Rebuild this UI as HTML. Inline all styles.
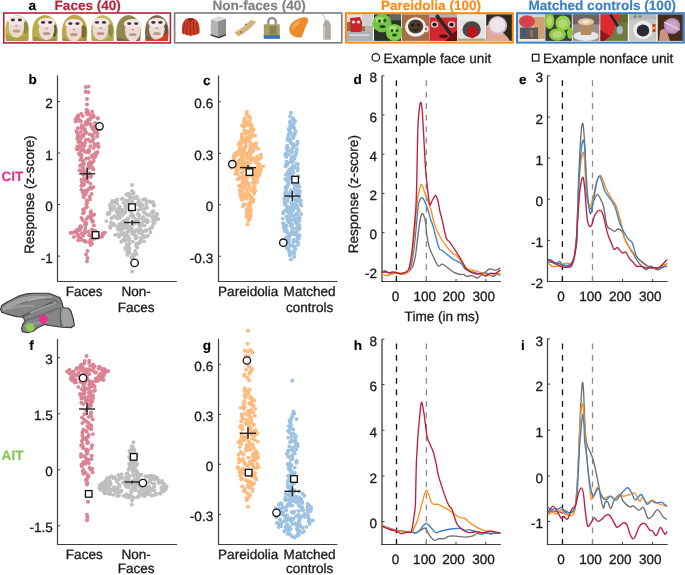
<!DOCTYPE html>
<html><head><meta charset="utf-8"><style>
html,body{margin:0;padding:0;background:#fff;}
svg{display:block;font-family:"Liberation Sans",sans-serif;will-change:transform;text-rendering:geometricPrecision;}
</style></head><body>
<svg width="685" height="575" viewBox="0 0 685 575">
<rect width="685" height="575" fill="#fff"/>
<text x="28.6" y="9.9" font-size="13.55" text-anchor="start" fill="#000" font-weight="bold" stroke="#000" stroke-width="0.15" stroke-linejoin="round" >a</text>
<text x="54.6" y="10.3" font-size="13.55" text-anchor="start" fill="#b8213a" font-weight="bold" stroke="#b8213a" stroke-width="0.15" stroke-linejoin="round" >Faces (40)</text>
<text x="212.4" y="10.3" font-size="13.55" text-anchor="start" fill="#7f7f7f" font-weight="bold" stroke="#7f7f7f" stroke-width="0.15" stroke-linejoin="round" >Non-faces (40)</text>
<text x="380.9" y="10.3" font-size="13.55" text-anchor="start" fill="#ff8a12" font-weight="bold" stroke="#ff8a12" stroke-width="0.15" stroke-linejoin="round" >Pareidolia (100)</text>
<text x="528.4" y="10.3" font-size="13.55" text-anchor="start" fill="#3d7fc1" font-weight="bold" stroke="#3d7fc1" stroke-width="0.15" stroke-linejoin="round" >Matched controls (100)</text>
<path d="M6.1,41 C4.1,28.0 4.6,17 17.1,15 C29.6,17 30.1,28.0 28.1,41 Z" fill="#c0b650" />
<path d="M6.1,41 C4.6,32.0 7.6,34.0 11.399999999999999,37.0 L21.4,37.0 C26.6,34.0 29.6,32.0 28.1,41 Z" fill="#aca244" />
<ellipse cx="25.400000000000002" cy="28.0" rx="2.6" ry="6.5" fill="#8f8a3e" />
<ellipse cx="16.4" cy="26.8" rx="7.8" ry="11" fill="#ecdbd2" />
<ellipse cx="16.4" cy="20.3" rx="8.8" ry="4.8" fill="#f4e8e4" />
<ellipse cx="12.899999999999999" cy="20.0" rx="2.1" ry="1.4" fill="#3a3444" />
<ellipse cx="19.9" cy="20.0" rx="2.1" ry="1.4" fill="#3a3444" />
<ellipse cx="16.4" cy="25.8" rx="1.4" ry="1.0" fill="#cf9c92" />
<ellipse cx="16.4" cy="31.0" rx="3.8" ry="1.5" fill="#c0968c" />
<path d="M33.0,41 C31.0,30.4 31.5,17 44.95,15 C58.4,17 58.9,30.4 56.9,41 Z" fill="#b8ae4a" />
<path d="M33.0,41 C31.5,34.4 34.5,36.4 41.6,39.4 L51.6,39.4 C55.4,36.4 58.4,34.4 56.9,41 Z" fill="#9c9440" />
<ellipse cx="54.199999999999996" cy="30.4" rx="2.6" ry="6.5" fill="#5e5a32" />
<ellipse cx="46.6" cy="29.2" rx="7.8" ry="11" fill="#ecdbd2" />
<ellipse cx="46.6" cy="22.7" rx="8.8" ry="4.8" fill="#f4e8e4" />
<ellipse cx="43.1" cy="22.4" rx="2.1" ry="1.4" fill="#3a3444" />
<ellipse cx="50.1" cy="22.4" rx="2.1" ry="1.4" fill="#3a3444" />
<ellipse cx="46.6" cy="28.2" rx="1.4" ry="1.0" fill="#cf9c92" />
<ellipse cx="46.6" cy="33.4" rx="3.8" ry="1.5" fill="#c0968c" />
<path d="M62.7,41 C60.7,31.6 61.2,16.4 74.6,14.4 C88.0,16.4 88.5,31.6 86.5,41 Z" fill="#bea848" />
<path d="M62.7,41 C61.2,35.6 64.2,37.6 68.9,40.6 L78.9,40.6 C85.0,37.6 88.0,35.6 86.5,41 Z" fill="#a28e3c" />
<ellipse cx="83.8" cy="31.6" rx="2.6" ry="6.5" fill="#7a6a34" />
<ellipse cx="73.9" cy="30.400000000000002" rx="7.8" ry="11" fill="#ecdbd2" />
<ellipse cx="73.9" cy="23.900000000000002" rx="8.8" ry="4.8" fill="#f4e8e4" />
<ellipse cx="70.4" cy="23.6" rx="2.1" ry="1.4" fill="#3a3444" />
<ellipse cx="77.4" cy="23.6" rx="2.1" ry="1.4" fill="#3a3444" />
<ellipse cx="73.9" cy="29.400000000000002" rx="1.4" ry="1.0" fill="#cf9c92" />
<ellipse cx="73.9" cy="34.6" rx="3.8" ry="1.5" fill="#c0968c" />
<path d="M91.9,41 C89.9,30.4 90.4,17 102.6,15 C114.8,17 115.3,30.4 113.3,41 Z" fill="#c0b862" />
<path d="M91.9,41 C90.4,34.4 93.4,36.4 95.5,39.4 L105.5,39.4 C111.8,36.4 114.8,34.4 113.3,41 Z" fill="#aca652" />
<ellipse cx="110.6" cy="30.4" rx="2.6" ry="6.5" fill="#8f8a48" />
<ellipse cx="100.5" cy="29.2" rx="7.8" ry="11" fill="#ecdbd2" />
<ellipse cx="100.5" cy="22.7" rx="8.8" ry="4.8" fill="#f4e8e4" />
<ellipse cx="97.0" cy="22.4" rx="2.1" ry="1.4" fill="#3a3444" />
<ellipse cx="104.0" cy="22.4" rx="2.1" ry="1.4" fill="#3a3444" />
<ellipse cx="100.5" cy="28.2" rx="1.4" ry="1.0" fill="#cf9c92" />
<ellipse cx="100.5" cy="33.4" rx="3.8" ry="1.5" fill="#c0968c" />
<path d="M117.1,41 C115.1,31.6 115.6,17 128.5,15 C141.4,17 141.9,31.6 139.9,41 Z" fill="#908850" />
<path d="M117.1,41 C115.6,35.6 118.6,37.6 127.69999999999999,40.6 L137.7,40.6 C138.4,37.6 141.4,35.6 139.9,41 Z" fill="#6e6a46" />
<ellipse cx="137.20000000000002" cy="31.6" rx="2.6" ry="6.5" fill="#4a4a3a" />
<ellipse cx="132.7" cy="30.400000000000002" rx="7.8" ry="11" fill="#ecdbd2" />
<ellipse cx="132.7" cy="23.900000000000002" rx="8.8" ry="4.8" fill="#f4e8e4" />
<ellipse cx="129.2" cy="23.6" rx="2.1" ry="1.4" fill="#3a3444" />
<ellipse cx="136.2" cy="23.6" rx="2.1" ry="1.4" fill="#3a3444" />
<ellipse cx="132.7" cy="29.400000000000002" rx="1.4" ry="1.0" fill="#cf9c92" />
<ellipse cx="132.7" cy="34.6" rx="3.8" ry="1.5" fill="#c0968c" />
<path d="M145.9,41 C143.9,30.4 144.4,17 156.8,15 C169.2,17 169.7,30.4 167.7,41 Z" fill="#7e6c4e" />
<path d="M145.9,41 C144.4,34.4 147.4,36.4 151.9,39.4 L161.9,39.4 C166.2,36.4 169.2,34.4 167.7,41 Z" fill="#6a5c46" />
<ellipse cx="165.0" cy="30.4" rx="2.6" ry="6.5" fill="#5a4c3c" />
<ellipse cx="156.9" cy="29.2" rx="7.8" ry="11" fill="#ecdbd2" />
<ellipse cx="156.9" cy="22.7" rx="8.8" ry="4.8" fill="#f4e8e4" />
<ellipse cx="153.4" cy="22.4" rx="2.1" ry="1.4" fill="#3a3444" />
<ellipse cx="160.4" cy="22.4" rx="2.1" ry="1.4" fill="#3a3444" />
<ellipse cx="156.9" cy="28.2" rx="1.4" ry="1.0" fill="#cf9c92" />
<ellipse cx="156.9" cy="33.4" rx="3.8" ry="1.5" fill="#c0968c" />
<path d="M145.9,38 Q156.9,44 168.2,32 L167.7,41 L145.9,41 Z" fill="#d8401c" />
<path d="M182,33 Q181,22 186,19 Q190.6,16.8 195,19 Q200.5,22 199.5,33 Q190.6,38.5 182,33 Z" fill="#c8402a" />
<line x1="184.50" y1="22.60" x2="183.30" y2="34.30" stroke="#962014" stroke-width="0.9" />
<line x1="187.30" y1="21.80" x2="186.70" y2="34.90" stroke="#962014" stroke-width="0.9" />
<line x1="190.40" y1="21.00" x2="190.40" y2="35.50" stroke="#962014" stroke-width="0.9" />
<line x1="193.50" y1="21.80" x2="194.10" y2="34.90" stroke="#962014" stroke-width="0.9" />
<line x1="196.60" y1="22.60" x2="197.80" y2="34.30" stroke="#962014" stroke-width="0.9" />
<ellipse cx="190.6" cy="19.5" rx="3.2" ry="1.3" fill="#962014" />
<path d="M211,19.5 L219.5,16.5 L226,19 L226,35.5 L218.5,38.2 L210.5,35.5 Z" fill="#b4b4b4" />
<path d="M211,19.5 L219.5,16.5 L226,19 L217.8,21.8 Z" fill="#dcdcdc" />
<path d="M217.8,21.8 L226,19 L226,35.5 L218.5,38.2 Z" fill="#8e8e8e" />
<path d="M210.5,34.2 L218.5,36.8 L226,34.2 L226,35.5 L218.5,38.2 L210.5,35.5 Z" fill="#3c3c3c" />
<path d="M234.2,32.5 Q244,27 251,19.8 L256.4,21.8 Q249,31 238.5,36.6 Z" fill="#d2b47e" />
<path d="M234.2,32.5 Q244,27 251,19.8 L251.8,20.2 Q244.5,27.8 235,33.4 Z" fill="#e4cc9a" />
<ellipse cx="246" cy="24.5" rx="0.9" ry="0.9" fill="#8a6a40" />
<ellipse cx="241" cy="32" rx="0.9" ry="0.9" fill="#8a6a40" />
<path d="M268.3,25 L268.3,20.2 Q272,15.6 275.7,20.2 L275.7,25" fill="none" stroke="#7e8c98" stroke-width="2.1"/>
<rect x="263.8" y="24.3" width="16" height="14.4" fill="#a89e62" />
<rect x="269.5" y="26" width="7" height="8.5" fill="#8a8250" />
<rect x="263.8" y="35.2" width="16" height="3.5" fill="#3c74be" />
<path d="M289.2,28 Q291,21 300,18 Q306,16.2 307.9,18.5 Q309,21 306,26 L301.5,37.4 Q294,38.2 290,33 Z" fill="#ec8a2c" />
<path d="M291.5,27 Q294,22 301,19.5 L299,24 Q295,27 292.5,31 Z" fill="#f4a650" />
<line x1="322.20" y1="14.40" x2="326.20" y2="20.20" stroke="#a89888" stroke-width="0.7" />
<path d="M324.6,20.3 L328.2,20.3 L330.8,24.8 L330.8,39.8 L323.3,39.8 L323.3,24.8 Z" fill="#ada8a2" />
<rect x="323.3" y="26" width="2" height="13" fill="#c8c4c0" />
<rect x="347.0" y="14.3" width="26.0" height="26.6" fill="#b8b0a8" />
<rect x="347" y="14.3" width="26" height="8" fill="#e2e4e4" />
<rect x="347" y="22" width="26" height="9" fill="#9a6a4a" />
<rect x="362" y="14.3" width="11" height="12" fill="#d0d0d0" />
<rect x="365" y="26" width="8" height="6" fill="#b8b4b0" />
<path d="M350,18 L360,17 L362,22 L361,36 L351,37 Z" fill="#c8222a" />
<ellipse cx="353.5" cy="22" rx="1.8" ry="1.6" fill="#e0d8d8" />
<ellipse cx="358.5" cy="22" rx="1.8" ry="1.6" fill="#e0d8d8" />
<rect x="347" y="32" width="26" height="8.9" fill="#aeb0b6" />
<rect x="349" y="34" width="20" height="2" fill="#d0d2d6" />
<rect x="374.0" y="14.3" width="27.100000000000023" height="26.6" fill="#2a3224" />
<rect x="389" y="14.3" width="12" height="6" fill="#606860" />
<ellipse cx="382" cy="23" rx="9.5" ry="9.2" fill="#74c444" />
<ellipse cx="394.5" cy="32.5" rx="8.6" ry="8.6" fill="#80cc4c" />
<ellipse cx="380" cy="20" rx="4" ry="3" fill="#a8dc80" />
<ellipse cx="393" cy="29" rx="4" ry="3" fill="#a8dc80" />
<ellipse cx="379.5" cy="21" rx="1.5" ry="1.8" fill="#2a4a1a" />
<ellipse cx="384.8" cy="20.5" rx="1.5" ry="1.8" fill="#2a4a1a" />
<ellipse cx="382.5" cy="26.5" rx="3" ry="1.6" fill="#2a4a1a" />
<ellipse cx="392" cy="30.5" rx="1.4" ry="1.6" fill="#2a4a1a" />
<ellipse cx="397" cy="30.5" rx="1.4" ry="1.6" fill="#2a4a1a" />
<ellipse cx="394.5" cy="35" rx="2.5" ry="1.5" fill="#2a4a1a" />
<rect x="401.9" y="14.3" width="27.400000000000034" height="26.6" fill="#a66e46" />
<ellipse cx="415.6" cy="27" rx="10.5" ry="9.8" fill="#f2f2f0" />
<ellipse cx="426" cy="29" rx="2.6" ry="3.2" fill="#eeeeee" />
<ellipse cx="426" cy="29" rx="1.2" ry="1.8" fill="#a66e46" />
<ellipse cx="415.6" cy="26.5" rx="7.6" ry="7" fill="#4c3a2a" />
<ellipse cx="412.5" cy="25" rx="1.1" ry="1.3" fill="#151008" />
<ellipse cx="418.5" cy="25" rx="1.1" ry="1.3" fill="#151008" />
<path d="M411.5,28.5 Q415.6,33.5 419.7,28.5 Q415.6,31 411.5,28.5 Z" fill="#151008" />
<rect x="429.5" y="14.3" width="27.600000000000023" height="26.6" fill="#d4262e" />
<rect x="429.5" y="14.3" width="27.6" height="3.2" fill="#b4b4b4" />
<ellipse cx="434.6" cy="24.5" rx="3.6" ry="3.2" fill="#d8d0d0" />
<ellipse cx="434.6" cy="24.5" rx="2.2" ry="2" fill="#2a1818" />
<ellipse cx="451.5" cy="24.5" rx="3.6" ry="3.2" fill="#d8d0d0" />
<ellipse cx="451.5" cy="24.5" rx="2.2" ry="2" fill="#2a1818" />
<ellipse cx="443.5" cy="36.2" rx="4.2" ry="1.6" fill="#3a1010" />
<line x1="436.50" y1="15.00" x2="455.00" y2="40.00" stroke="#262626" stroke-width="3.4" />
<path d="M445,41 L457.1,30 L457.1,41 Z" fill="#6a1010" />
<rect x="457.9" y="14.3" width="27.400000000000034" height="26.6" fill="#e2e2e0" />
<rect x="457.9" y="14.3" width="27.4" height="6" fill="#ececec" />
<ellipse cx="471.6" cy="29.5" rx="9.2" ry="8.2" fill="#4e4640" />
<ellipse cx="472.4" cy="32" rx="4.6" ry="6" fill="#c8101c" />
<rect x="457.9" y="38.6" width="27.4" height="2.3" fill="#b4a484" />
<rect x="486.2" y="14.3" width="25.80000000000001" height="26.6" fill="#2c2a1e" />
<path d="M486.2,26 Q490,22 497,28 Q506,34 510,40.9 L486.2,40.9 Z" fill="#e0a898" />
<ellipse cx="497.8" cy="25.5" rx="9.2" ry="9" fill="#ece6ea" />
<ellipse cx="497.5" cy="25" rx="8.6" ry="8.4" fill="none" stroke="#d0a8c0" stroke-width="1.2"/>
<rect x="518.0" y="14.3" width="26.799999999999955" height="26.6" fill="#d6d6d0" />
<rect x="534" y="17" width="10.8" height="23.9" fill="#cfa272" />
<ellipse cx="527" cy="21.5" rx="8" ry="6.2" fill="#d8404a" />
<rect x="520" y="27.5" width="18" height="11.5" fill="#5e5a5c" />
<rect x="522" y="29" width="3" height="8" fill="#3a5a7a" />
<rect x="530" y="30" width="3" height="7" fill="#8a7a50" />
<rect x="518" y="39" width="26.8" height="1.9" fill="#eeeeee" />
<rect x="545.4" y="14.3" width="26.399999999999977" height="26.6" fill="#3a3a3e" />
<ellipse cx="549.5" cy="21" rx="4.8" ry="8" fill="#8ccc3c" />
<ellipse cx="563" cy="23" rx="7.6" ry="7.5" fill="#92d046" />
<ellipse cx="557.5" cy="34.5" rx="8.5" ry="6.2" fill="#8ccc3c" />
<ellipse cx="570" cy="33" rx="3" ry="6" fill="#86c838" />
<ellipse cx="563" cy="23.5" rx="4.5" ry="4.5" fill="#b4d67a" />
<ellipse cx="557.5" cy="34.5" rx="5" ry="3.6" fill="#b4d67a" />
<ellipse cx="549.5" cy="21" rx="2.4" ry="5" fill="#b4d67a" />
<rect x="572.8" y="14.3" width="26.600000000000023" height="26.6" fill="#9a9090" />
<rect x="572.8" y="14.3" width="26.6" height="10" fill="#6e6262" />
<ellipse cx="586" cy="36" rx="12.5" ry="5" fill="#e8e8ea" />
<path d="M578,22 L594,22 L591,35 L581,35 Z" fill="#b48a64" />
<ellipse cx="586" cy="21.8" rx="8.2" ry="3.6" fill="#dcc4a2" />
<ellipse cx="586" cy="21.8" rx="4" ry="1.8" fill="#f0e4d2" />
<rect x="600.5" y="14.3" width="27.299999999999955" height="26.6" fill="#6e7a3e" />
<rect x="616" y="14.3" width="11.8" height="8" fill="#5a6a30" />
<path d="M600.5,14.3 L621,14.3 L616,24 L612,35 L604,40.9 L600.5,40.9 Z" fill="#e02830" />
<path d="M600.5,30 L610,36 L604,40.9 L600.5,40.9 Z" fill="#901818" />
<line x1="610.50" y1="14.50" x2="619.00" y2="28.00" stroke="#1c2430" stroke-width="2.4" />
<ellipse cx="619.8" cy="30" rx="3.2" ry="4.2" fill="#a8b8c8" />
<rect x="629.1" y="14.3" width="27.299999999999955" height="26.6" fill="#c8c8c6" />
<rect x="629.1" y="14.3" width="27.3" height="5" fill="#b6b6b6" />
<ellipse cx="635" cy="16.5" rx="1.6" ry="1.2" fill="#808080" />
<ellipse cx="640" cy="16.5" rx="1.6" ry="1.2" fill="#808080" />
<ellipse cx="643" cy="30" rx="9.8" ry="9.2" fill="#ececec" />
<ellipse cx="643" cy="30.5" rx="6.3" ry="6" fill="#2c2c34" />
<rect x="652.5" y="24" width="3" height="8" fill="#c84030" />
<rect x="652.5" y="27" width="3" height="2" fill="#e8c030" />
<rect x="657.7" y="14.3" width="25.09999999999991" height="26.6" fill="#4a2a18" />
<path d="M659,41 L660,31 Q663,27 667,31 L670,41 Z" fill="#c89282" />
<ellipse cx="672" cy="26" rx="8.2" ry="8" fill="#b88cb8" />
<ellipse cx="672" cy="26" rx="6.2" ry="6" fill="#c8a4c8" />
<line x1="664.00" y1="22.00" x2="680.00" y2="30.00" stroke="#e8e0e8" stroke-width="1.2" />
<rect x="3.75" y="13.0" width="166.65" height="29.9" fill="none" stroke="#b8213a" stroke-width="1.6"/>
<rect x="174.6" y="13.0" width="167.20000000000002" height="29.799999999999997" fill="none" stroke="#7a7a7a" stroke-width="1.6"/>
<rect x="345.9" y="13.2" width="166.89999999999998" height="29.400000000000002" fill="none" stroke="#ff8a12" stroke-width="2"/>
<rect x="517.0" y="13.2" width="166.79999999999995" height="29.400000000000002" fill="none" stroke="#3d7fc1" stroke-width="2"/>
<circle cx="375.8" cy="57.4" r="3.8" fill="#fff" stroke="#111" stroke-width="1.2"/>
<text x="383.5" y="62.6" font-size="13.55" text-anchor="start" fill="#1a1a1a" stroke="#1a1a1a" stroke-width="0.3" stroke-linejoin="round" >Example face unit</text>
<rect x="532.4" y="54.3" width="6.5" height="6.7" fill="#fff" stroke="#111" stroke-width="1.2"/>
<text x="543.0" y="62.6" font-size="13.55" text-anchor="start" fill="#1a1a1a" stroke="#1a1a1a" stroke-width="0.3" stroke-linejoin="round" >Example nonface unit</text>
<line x1="57.50" y1="75.50" x2="57.50" y2="282.00" stroke="#3e3e3e" stroke-width="1.2" />
<line x1="57.50" y1="101.60" x2="60.00" y2="101.60" stroke="#3e3e3e" stroke-width="1" />
<text x="52.8" y="108.2" font-size="13.55" text-anchor="end" fill="#1a1a1a" stroke="#1a1a1a" stroke-width="0.3" stroke-linejoin="round" >2</text>
<line x1="57.50" y1="153.10" x2="60.00" y2="153.10" stroke="#3e3e3e" stroke-width="1" />
<text x="52.8" y="159.7" font-size="13.55" text-anchor="end" fill="#1a1a1a" stroke="#1a1a1a" stroke-width="0.3" stroke-linejoin="round" >1</text>
<line x1="57.50" y1="204.60" x2="60.00" y2="204.60" stroke="#3e3e3e" stroke-width="1" />
<text x="52.8" y="211.2" font-size="13.55" text-anchor="end" fill="#1a1a1a" stroke="#1a1a1a" stroke-width="0.3" stroke-linejoin="round" >0</text>
<line x1="57.50" y1="256.10" x2="60.00" y2="256.10" stroke="#3e3e3e" stroke-width="1" />
<text x="52.8" y="262.7" font-size="13.55" text-anchor="end" fill="#1a1a1a" stroke="#1a1a1a" stroke-width="0.3" stroke-linejoin="round" >-1</text>
<line x1="57.00" y1="281.50" x2="176.80" y2="281.50" stroke="#3e3e3e" stroke-width="1.2" />
<text x="28.6" y="83.9" font-size="13.55" text-anchor="start" fill="#000" font-weight="bold" stroke="#000" stroke-width="0.15" stroke-linejoin="round" >b</text>
<text x="84.2" y="296.2" font-size="13.55" text-anchor="middle" fill="#1a1a1a" stroke="#1a1a1a" stroke-width="0.3" stroke-linejoin="round" >Faces</text>
<text x="136.2" y="296.2" font-size="13.55" text-anchor="middle" fill="#1a1a1a" stroke="#1a1a1a" stroke-width="0.3" stroke-linejoin="round" >Non-</text>
<text x="136.2" y="312.0" font-size="13.55" text-anchor="middle" fill="#1a1a1a" stroke="#1a1a1a" stroke-width="0.3" stroke-linejoin="round" >Faces</text>
<line x1="218.50" y1="75.50" x2="218.50" y2="282.00" stroke="#3e3e3e" stroke-width="1.2" />
<line x1="218.50" y1="101.80" x2="221.00" y2="101.80" stroke="#3e3e3e" stroke-width="1" />
<text x="213.2" y="108.4" font-size="13.55" text-anchor="end" fill="#1a1a1a" stroke="#1a1a1a" stroke-width="0.3" stroke-linejoin="round" >0.6</text>
<line x1="218.50" y1="153.30" x2="221.00" y2="153.30" stroke="#3e3e3e" stroke-width="1" />
<text x="213.2" y="159.9" font-size="13.55" text-anchor="end" fill="#1a1a1a" stroke="#1a1a1a" stroke-width="0.3" stroke-linejoin="round" >0.3</text>
<line x1="218.50" y1="204.80" x2="221.00" y2="204.80" stroke="#3e3e3e" stroke-width="1" />
<text x="213.2" y="211.4" font-size="13.55" text-anchor="end" fill="#1a1a1a" stroke="#1a1a1a" stroke-width="0.3" stroke-linejoin="round" >0</text>
<line x1="218.50" y1="256.20" x2="221.00" y2="256.20" stroke="#3e3e3e" stroke-width="1" />
<text x="213.2" y="262.8" font-size="13.55" text-anchor="end" fill="#1a1a1a" stroke="#1a1a1a" stroke-width="0.3" stroke-linejoin="round" >-0.3</text>
<line x1="218.00" y1="281.50" x2="337.40" y2="281.50" stroke="#3e3e3e" stroke-width="1.2" />
<text x="203.0" y="84.5" font-size="13.55" text-anchor="start" fill="#000" font-weight="bold" stroke="#000" stroke-width="0.15" stroke-linejoin="round" >c</text>
<text x="248.2" y="296.2" font-size="13.55" text-anchor="middle" fill="#1a1a1a" stroke="#1a1a1a" stroke-width="0.3" stroke-linejoin="round" >Pareidolia</text>
<text x="309.6" y="296.2" font-size="13.55" text-anchor="middle" fill="#1a1a1a" stroke="#1a1a1a" stroke-width="0.3" stroke-linejoin="round" >Matched</text>
<text x="309.6" y="312.0" font-size="13.55" text-anchor="middle" fill="#1a1a1a" stroke="#1a1a1a" stroke-width="0.3" stroke-linejoin="round" >controls</text>
<text x="0" y="0" font-size="13.55" text-anchor="middle" fill="#1a1a1a" stroke="#1a1a1a" stroke-width="0.3" stroke-linejoin="round" transform="translate(33.8,194.6) rotate(-90)">Response (z-score)</text>
<text x="1.5" y="180.6" font-size="13.55" text-anchor="start" fill="#e2338c" font-weight="bold" stroke="#e2338c" stroke-width="0.15" stroke-linejoin="round" >CIT</text>
<text x="0" y="0" font-size="13.55" text-anchor="middle" fill="#1a1a1a" stroke="#1a1a1a" stroke-width="0.3" stroke-linejoin="round" transform="translate(358.0,194.2) rotate(-90)">Response (z-score)</text>
<line x1="382.00" y1="75.50" x2="382.00" y2="282.00" stroke="#828282" stroke-width="2" />
<line x1="382.00" y1="75.80" x2="384.50" y2="75.80" stroke="#3e3e3e" stroke-width="1" />
<text x="377.1" y="82.4" font-size="13.55" text-anchor="end" fill="#1a1a1a" stroke="#1a1a1a" stroke-width="0.3" stroke-linejoin="round" >8</text>
<line x1="382.00" y1="115.00" x2="384.50" y2="115.00" stroke="#3e3e3e" stroke-width="1" />
<text x="377.1" y="121.6" font-size="13.55" text-anchor="end" fill="#1a1a1a" stroke="#1a1a1a" stroke-width="0.3" stroke-linejoin="round" >6</text>
<line x1="382.00" y1="154.20" x2="384.50" y2="154.20" stroke="#3e3e3e" stroke-width="1" />
<text x="377.1" y="160.8" font-size="13.55" text-anchor="end" fill="#1a1a1a" stroke="#1a1a1a" stroke-width="0.3" stroke-linejoin="round" >4</text>
<line x1="382.00" y1="193.40" x2="384.50" y2="193.40" stroke="#3e3e3e" stroke-width="1" />
<text x="377.1" y="200.0" font-size="13.55" text-anchor="end" fill="#1a1a1a" stroke="#1a1a1a" stroke-width="0.3" stroke-linejoin="round" >2</text>
<line x1="382.00" y1="232.60" x2="384.50" y2="232.60" stroke="#3e3e3e" stroke-width="1" />
<text x="377.1" y="239.2" font-size="13.55" text-anchor="end" fill="#1a1a1a" stroke="#1a1a1a" stroke-width="0.3" stroke-linejoin="round" >0</text>
<line x1="382.00" y1="271.80" x2="384.50" y2="271.80" stroke="#3e3e3e" stroke-width="1" />
<text x="377.1" y="278.4" font-size="13.55" text-anchor="end" fill="#1a1a1a" stroke="#1a1a1a" stroke-width="0.3" stroke-linejoin="round" >-2</text>
<line x1="381.20" y1="281.50" x2="500.80" y2="281.50" stroke="#3e3e3e" stroke-width="1.2" />
<text x="353.5" y="84.0" font-size="13.55" text-anchor="start" fill="#000" font-weight="bold" stroke="#000" stroke-width="0.15" stroke-linejoin="round" >d</text>
<line x1="547.50" y1="75.50" x2="547.50" y2="282.00" stroke="#3e3e3e" stroke-width="1.2" />
<line x1="547.50" y1="75.80" x2="550.00" y2="75.80" stroke="#3e3e3e" stroke-width="1" />
<text x="543.1" y="82.4" font-size="13.55" text-anchor="end" fill="#1a1a1a" stroke="#1a1a1a" stroke-width="0.3" stroke-linejoin="round" >3</text>
<line x1="547.50" y1="117.10" x2="550.00" y2="117.10" stroke="#3e3e3e" stroke-width="1" />
<text x="543.1" y="123.7" font-size="13.55" text-anchor="end" fill="#1a1a1a" stroke="#1a1a1a" stroke-width="0.3" stroke-linejoin="round" >2</text>
<line x1="547.50" y1="158.10" x2="550.00" y2="158.10" stroke="#3e3e3e" stroke-width="1" />
<text x="543.1" y="164.7" font-size="13.55" text-anchor="end" fill="#1a1a1a" stroke="#1a1a1a" stroke-width="0.3" stroke-linejoin="round" >1</text>
<line x1="547.50" y1="199.20" x2="550.00" y2="199.20" stroke="#3e3e3e" stroke-width="1" />
<text x="543.1" y="205.8" font-size="13.55" text-anchor="end" fill="#1a1a1a" stroke="#1a1a1a" stroke-width="0.3" stroke-linejoin="round" >0</text>
<line x1="547.50" y1="240.40" x2="550.00" y2="240.40" stroke="#3e3e3e" stroke-width="1" />
<text x="543.1" y="247.0" font-size="13.55" text-anchor="end" fill="#1a1a1a" stroke="#1a1a1a" stroke-width="0.3" stroke-linejoin="round" >-1</text>
<line x1="547.50" y1="281.40" x2="550.00" y2="281.40" stroke="#3e3e3e" stroke-width="1" />
<text x="543.1" y="288.0" font-size="13.55" text-anchor="end" fill="#1a1a1a" stroke="#1a1a1a" stroke-width="0.3" stroke-linejoin="round" >-2</text>
<line x1="547.40" y1="281.50" x2="667.70" y2="281.50" stroke="#3e3e3e" stroke-width="1.2" />
<text x="519.0" y="84.0" font-size="13.55" text-anchor="start" fill="#000" font-weight="bold" stroke="#000" stroke-width="0.15" stroke-linejoin="round" >e</text>
<line x1="396.40" y1="281.50" x2="396.40" y2="279.00" stroke="#3e3e3e" stroke-width="1" />
<text x="395.4" y="301.0" font-size="13.55" text-anchor="middle" fill="#1a1a1a" stroke="#1a1a1a" stroke-width="0.3" stroke-linejoin="round" >0</text>
<line x1="426.20" y1="281.50" x2="426.20" y2="279.00" stroke="#3e3e3e" stroke-width="1" />
<text x="424.7" y="301.0" font-size="13.55" text-anchor="middle" fill="#1a1a1a" stroke="#1a1a1a" stroke-width="0.3" stroke-linejoin="round" >100</text>
<line x1="456.00" y1="281.50" x2="456.00" y2="279.00" stroke="#3e3e3e" stroke-width="1" />
<text x="453.7" y="301.0" font-size="13.55" text-anchor="middle" fill="#1a1a1a" stroke="#1a1a1a" stroke-width="0.3" stroke-linejoin="round" >200</text>
<line x1="485.80" y1="281.50" x2="485.80" y2="279.00" stroke="#3e3e3e" stroke-width="1" />
<text x="483.8" y="301.0" font-size="13.55" text-anchor="middle" fill="#1a1a1a" stroke="#1a1a1a" stroke-width="0.3" stroke-linejoin="round" >300</text>
<line x1="562.30" y1="281.50" x2="562.30" y2="279.00" stroke="#3e3e3e" stroke-width="1" />
<text x="561.1" y="301.0" font-size="13.55" text-anchor="middle" fill="#1a1a1a" stroke="#1a1a1a" stroke-width="0.3" stroke-linejoin="round" >0</text>
<line x1="592.40" y1="281.50" x2="592.40" y2="279.00" stroke="#3e3e3e" stroke-width="1" />
<text x="590.5" y="301.0" font-size="13.55" text-anchor="middle" fill="#1a1a1a" stroke="#1a1a1a" stroke-width="0.3" stroke-linejoin="round" >100</text>
<line x1="622.50" y1="281.50" x2="622.50" y2="279.00" stroke="#3e3e3e" stroke-width="1" />
<text x="620.2" y="301.0" font-size="13.55" text-anchor="middle" fill="#1a1a1a" stroke="#1a1a1a" stroke-width="0.3" stroke-linejoin="round" >200</text>
<line x1="652.60" y1="281.50" x2="652.60" y2="279.00" stroke="#3e3e3e" stroke-width="1" />
<text x="650.2" y="301.0" font-size="13.55" text-anchor="middle" fill="#1a1a1a" stroke="#1a1a1a" stroke-width="0.3" stroke-linejoin="round" >300</text>
<text x="442.0" y="320.9" font-size="13.55" text-anchor="middle" fill="#1a1a1a" stroke="#1a1a1a" stroke-width="0.3" stroke-linejoin="round" >Time (in ms)</text>
<line x1="57.50" y1="339.20" x2="57.50" y2="545.00" stroke="#3e3e3e" stroke-width="1.2" />
<line x1="57.50" y1="357.70" x2="60.00" y2="357.70" stroke="#3e3e3e" stroke-width="1" />
<text x="52.8" y="364.3" font-size="13.55" text-anchor="end" fill="#1a1a1a" stroke="#1a1a1a" stroke-width="0.3" stroke-linejoin="round" >3</text>
<line x1="57.50" y1="413.80" x2="60.00" y2="413.80" stroke="#3e3e3e" stroke-width="1" />
<text x="52.8" y="420.4" font-size="13.55" text-anchor="end" fill="#1a1a1a" stroke="#1a1a1a" stroke-width="0.3" stroke-linejoin="round" >1.5</text>
<line x1="57.50" y1="469.80" x2="60.00" y2="469.80" stroke="#3e3e3e" stroke-width="1" />
<text x="52.8" y="476.4" font-size="13.55" text-anchor="end" fill="#1a1a1a" stroke="#1a1a1a" stroke-width="0.3" stroke-linejoin="round" >0</text>
<line x1="57.50" y1="525.80" x2="60.00" y2="525.80" stroke="#3e3e3e" stroke-width="1" />
<text x="52.8" y="532.4" font-size="13.55" text-anchor="end" fill="#1a1a1a" stroke="#1a1a1a" stroke-width="0.3" stroke-linejoin="round" >-1.5</text>
<line x1="57.00" y1="544.50" x2="177.10" y2="544.50" stroke="#3e3e3e" stroke-width="1.2" />
<text x="29.3" y="350.0" font-size="13.55" text-anchor="start" fill="#000" font-weight="bold" stroke="#000" stroke-width="0.15" stroke-linejoin="round" >f</text>
<text x="84.3" y="558.7" font-size="13.55" text-anchor="middle" fill="#1a1a1a" stroke="#1a1a1a" stroke-width="0.3" stroke-linejoin="round" >Faces</text>
<text x="136.2" y="558.7" font-size="13.55" text-anchor="middle" fill="#1a1a1a" stroke="#1a1a1a" stroke-width="0.3" stroke-linejoin="round" >Non-</text>
<text x="136.2" y="573.4" font-size="13.55" text-anchor="middle" fill="#1a1a1a" stroke="#1a1a1a" stroke-width="0.3" stroke-linejoin="round" >Faces</text>
<text x="1.6" y="460.0" font-size="13.55" text-anchor="start" fill="#80c850" font-weight="bold" stroke="#80c850" stroke-width="0.15" stroke-linejoin="round" >AIT</text>
<line x1="218.50" y1="338.80" x2="218.50" y2="545.00" stroke="#3e3e3e" stroke-width="1.2" />
<line x1="218.50" y1="364.30" x2="221.00" y2="364.30" stroke="#3e3e3e" stroke-width="1" />
<text x="213.2" y="370.9" font-size="13.55" text-anchor="end" fill="#1a1a1a" stroke="#1a1a1a" stroke-width="0.3" stroke-linejoin="round" >0.6</text>
<line x1="218.50" y1="414.30" x2="221.00" y2="414.30" stroke="#3e3e3e" stroke-width="1" />
<text x="213.2" y="420.9" font-size="13.55" text-anchor="end" fill="#1a1a1a" stroke="#1a1a1a" stroke-width="0.3" stroke-linejoin="round" >0.3</text>
<line x1="218.50" y1="464.30" x2="221.00" y2="464.30" stroke="#3e3e3e" stroke-width="1" />
<text x="213.2" y="470.9" font-size="13.55" text-anchor="end" fill="#1a1a1a" stroke="#1a1a1a" stroke-width="0.3" stroke-linejoin="round" >0</text>
<line x1="218.50" y1="514.30" x2="221.00" y2="514.30" stroke="#3e3e3e" stroke-width="1" />
<text x="213.2" y="520.9" font-size="13.55" text-anchor="end" fill="#1a1a1a" stroke="#1a1a1a" stroke-width="0.3" stroke-linejoin="round" >-0.3</text>
<line x1="218.00" y1="544.50" x2="337.40" y2="544.50" stroke="#3e3e3e" stroke-width="1.2" />
<text x="202.7" y="349.7" font-size="13.55" text-anchor="start" fill="#000" font-weight="bold" stroke="#000" stroke-width="0.15" stroke-linejoin="round" >g</text>
<text x="248.2" y="558.7" font-size="13.55" text-anchor="middle" fill="#1a1a1a" stroke="#1a1a1a" stroke-width="0.3" stroke-linejoin="round" >Pareidolia</text>
<text x="309.6" y="558.7" font-size="13.55" text-anchor="middle" fill="#1a1a1a" stroke="#1a1a1a" stroke-width="0.3" stroke-linejoin="round" >Matched</text>
<text x="309.6" y="573.4" font-size="13.55" text-anchor="middle" fill="#1a1a1a" stroke="#1a1a1a" stroke-width="0.3" stroke-linejoin="round" >controls</text>
<line x1="382.00" y1="339.00" x2="382.00" y2="545.00" stroke="#828282" stroke-width="2" />
<line x1="382.00" y1="339.20" x2="384.50" y2="339.20" stroke="#3e3e3e" stroke-width="1" />
<text x="377.1" y="345.8" font-size="13.55" text-anchor="end" fill="#1a1a1a" stroke="#1a1a1a" stroke-width="0.3" stroke-linejoin="round" >8</text>
<line x1="382.00" y1="384.60" x2="384.50" y2="384.60" stroke="#3e3e3e" stroke-width="1" />
<text x="377.1" y="391.2" font-size="13.55" text-anchor="end" fill="#1a1a1a" stroke="#1a1a1a" stroke-width="0.3" stroke-linejoin="round" >6</text>
<line x1="382.00" y1="430.30" x2="384.50" y2="430.30" stroke="#3e3e3e" stroke-width="1" />
<text x="377.1" y="436.9" font-size="13.55" text-anchor="end" fill="#1a1a1a" stroke="#1a1a1a" stroke-width="0.3" stroke-linejoin="round" >4</text>
<line x1="382.00" y1="476.00" x2="384.50" y2="476.00" stroke="#3e3e3e" stroke-width="1" />
<text x="377.1" y="482.6" font-size="13.55" text-anchor="end" fill="#1a1a1a" stroke="#1a1a1a" stroke-width="0.3" stroke-linejoin="round" >2</text>
<line x1="382.00" y1="521.60" x2="384.50" y2="521.60" stroke="#3e3e3e" stroke-width="1" />
<text x="377.1" y="528.2" font-size="13.55" text-anchor="end" fill="#1a1a1a" stroke="#1a1a1a" stroke-width="0.3" stroke-linejoin="round" >0</text>
<line x1="381.20" y1="544.50" x2="500.80" y2="544.50" stroke="#3e3e3e" stroke-width="1.2" />
<text x="353.7" y="349.8" font-size="13.55" text-anchor="start" fill="#000" font-weight="bold" stroke="#000" stroke-width="0.15" stroke-linejoin="round" >h</text>
<line x1="396.40" y1="544.40" x2="396.40" y2="541.90" stroke="#3e3e3e" stroke-width="1" />
<text x="395.5" y="563.9" font-size="13.55" text-anchor="middle" fill="#1a1a1a" stroke="#1a1a1a" stroke-width="0.3" stroke-linejoin="round" >0</text>
<line x1="426.20" y1="544.40" x2="426.20" y2="541.90" stroke="#3e3e3e" stroke-width="1" />
<text x="424.4" y="563.9" font-size="13.55" text-anchor="middle" fill="#1a1a1a" stroke="#1a1a1a" stroke-width="0.3" stroke-linejoin="round" >100</text>
<line x1="456.00" y1="544.40" x2="456.00" y2="541.90" stroke="#3e3e3e" stroke-width="1" />
<text x="453.5" y="563.9" font-size="13.55" text-anchor="middle" fill="#1a1a1a" stroke="#1a1a1a" stroke-width="0.3" stroke-linejoin="round" >200</text>
<line x1="485.80" y1="544.40" x2="485.80" y2="541.90" stroke="#3e3e3e" stroke-width="1" />
<text x="483.5" y="563.9" font-size="13.55" text-anchor="middle" fill="#1a1a1a" stroke="#1a1a1a" stroke-width="0.3" stroke-linejoin="round" >300</text>
<line x1="547.50" y1="338.60" x2="547.50" y2="545.00" stroke="#3e3e3e" stroke-width="1.2" />
<line x1="547.50" y1="338.90" x2="550.00" y2="338.90" stroke="#3e3e3e" stroke-width="1" />
<text x="543.1" y="345.5" font-size="13.55" text-anchor="end" fill="#1a1a1a" stroke="#1a1a1a" stroke-width="0.3" stroke-linejoin="round" >3</text>
<line x1="547.50" y1="384.10" x2="550.00" y2="384.10" stroke="#3e3e3e" stroke-width="1" />
<text x="543.1" y="390.7" font-size="13.55" text-anchor="end" fill="#1a1a1a" stroke="#1a1a1a" stroke-width="0.3" stroke-linejoin="round" >2</text>
<line x1="547.50" y1="430.20" x2="550.00" y2="430.20" stroke="#3e3e3e" stroke-width="1" />
<text x="543.1" y="436.8" font-size="13.55" text-anchor="end" fill="#1a1a1a" stroke="#1a1a1a" stroke-width="0.3" stroke-linejoin="round" >1</text>
<line x1="547.50" y1="476.00" x2="550.00" y2="476.00" stroke="#3e3e3e" stroke-width="1" />
<text x="543.1" y="482.6" font-size="13.55" text-anchor="end" fill="#1a1a1a" stroke="#1a1a1a" stroke-width="0.3" stroke-linejoin="round" >0</text>
<line x1="547.50" y1="521.40" x2="550.00" y2="521.40" stroke="#3e3e3e" stroke-width="1" />
<text x="543.1" y="528.0" font-size="13.55" text-anchor="end" fill="#1a1a1a" stroke="#1a1a1a" stroke-width="0.3" stroke-linejoin="round" >-1</text>
<line x1="547.00" y1="544.50" x2="667.70" y2="544.50" stroke="#3e3e3e" stroke-width="1.2" />
<text x="521.0" y="349.8" font-size="13.55" text-anchor="start" fill="#000" font-weight="bold" stroke="#000" stroke-width="0.15" stroke-linejoin="round" >i</text>
<line x1="562.30" y1="544.40" x2="562.30" y2="541.90" stroke="#3e3e3e" stroke-width="1" />
<text x="561.1" y="563.9" font-size="13.55" text-anchor="middle" fill="#1a1a1a" stroke="#1a1a1a" stroke-width="0.3" stroke-linejoin="round" >0</text>
<line x1="592.40" y1="544.40" x2="592.40" y2="541.90" stroke="#3e3e3e" stroke-width="1" />
<text x="590.5" y="563.9" font-size="13.55" text-anchor="middle" fill="#1a1a1a" stroke="#1a1a1a" stroke-width="0.3" stroke-linejoin="round" >100</text>
<line x1="622.50" y1="544.40" x2="622.50" y2="541.90" stroke="#3e3e3e" stroke-width="1" />
<text x="620.2" y="563.9" font-size="13.55" text-anchor="middle" fill="#1a1a1a" stroke="#1a1a1a" stroke-width="0.3" stroke-linejoin="round" >200</text>
<line x1="652.60" y1="544.40" x2="652.60" y2="541.90" stroke="#3e3e3e" stroke-width="1" />
<text x="650.2" y="563.9" font-size="13.55" text-anchor="middle" fill="#1a1a1a" stroke="#1a1a1a" stroke-width="0.3" stroke-linejoin="round" >300</text>
<line x1="396.4" y1="80.3" x2="396.4" y2="281.5" stroke="#111" stroke-width="1.3" stroke-dasharray="5.75 5.75" stroke-dashoffset="0"/>
<line x1="426.3" y1="80.3" x2="426.3" y2="281.5" stroke="#8a8a8a" stroke-width="1.3" stroke-dasharray="5.75 5.75" stroke-dashoffset="0"/>
<line x1="562.4" y1="80.3" x2="562.4" y2="281.5" stroke="#111" stroke-width="1.3" stroke-dasharray="5.75 5.75" stroke-dashoffset="0"/>
<line x1="592.5" y1="80.3" x2="592.5" y2="281.5" stroke="#8a8a8a" stroke-width="1.3" stroke-dasharray="5.75 5.75" stroke-dashoffset="0"/>
<line x1="396.5" y1="343.5" x2="396.5" y2="544.2" stroke="#111" stroke-width="1.3" stroke-dasharray="5.75 5.75" stroke-dashoffset="0"/>
<line x1="426.4" y1="343.5" x2="426.4" y2="544.2" stroke="#8a8a8a" stroke-width="1.3" stroke-dasharray="5.75 5.75" stroke-dashoffset="0"/>
<line x1="562.5" y1="343.5" x2="562.5" y2="544.0" stroke="#111" stroke-width="1.3" stroke-dasharray="5.75 5.75" stroke-dashoffset="0"/>
<line x1="592.5" y1="343.5" x2="592.5" y2="544.0" stroke="#8a8a8a" stroke-width="1.3" stroke-dasharray="5.75 5.75" stroke-dashoffset="0"/>
<g fill="#da8494"><circle cx="85.8" cy="87.0" r="1.95"/><circle cx="88.6" cy="86.6" r="1.95"/><circle cx="85.6" cy="91.8" r="1.95"/><circle cx="88.4" cy="92.2" r="1.95"/><circle cx="87.0" cy="99.0" r="1.95"/><circle cx="87.0" cy="104.5" r="1.95"/><circle cx="86.7" cy="109.6" r="1.95"/><circle cx="87.6" cy="110.7" r="1.95"/><circle cx="92.3" cy="111.8" r="1.95"/><circle cx="86.5" cy="112.2" r="1.95"/><circle cx="87.1" cy="112.8" r="1.95"/><circle cx="88.5" cy="113.4" r="1.95"/><circle cx="81.2" cy="113.7" r="1.95"/><circle cx="87.2" cy="114.3" r="1.95"/><circle cx="89.8" cy="114.8" r="1.95"/><circle cx="93.3" cy="115.2" r="1.95"/><circle cx="78.2" cy="115.4" r="1.95"/><circle cx="82.7" cy="115.9" r="1.95"/><circle cx="78.0" cy="116.2" r="1.95"/><circle cx="93.9" cy="116.9" r="1.95"/><circle cx="91.3" cy="117.2" r="1.95"/><circle cx="76.7" cy="117.4" r="1.95"/><circle cx="98.0" cy="118.1" r="1.95"/><circle cx="97.7" cy="118.5" r="1.95"/><circle cx="90.6" cy="118.8" r="1.95"/><circle cx="89.7" cy="119.2" r="1.95"/><circle cx="79.0" cy="119.4" r="1.95"/><circle cx="75.6" cy="119.7" r="1.95"/><circle cx="87.7" cy="120.3" r="1.95"/><circle cx="76.5" cy="120.5" r="1.95"/><circle cx="79.6" cy="120.9" r="1.95"/><circle cx="80.8" cy="121.3" r="1.95"/><circle cx="75.8" cy="121.6" r="1.95"/><circle cx="86.1" cy="122.1" r="1.95"/><circle cx="85.6" cy="122.5" r="1.95"/><circle cx="95.0" cy="123.0" r="1.95"/><circle cx="87.4" cy="123.3" r="1.95"/><circle cx="90.2" cy="123.7" r="1.95"/><circle cx="87.0" cy="124.0" r="1.95"/><circle cx="90.7" cy="124.5" r="1.95"/><circle cx="86.0" cy="124.8" r="1.95"/><circle cx="82.0" cy="125.1" r="1.95"/><circle cx="98.1" cy="125.8" r="1.95"/><circle cx="98.0" cy="126.2" r="1.95"/><circle cx="94.5" cy="126.5" r="1.95"/><circle cx="91.6" cy="126.9" r="1.95"/><circle cx="83.0" cy="127.1" r="1.95"/><circle cx="81.1" cy="127.5" r="1.95"/><circle cx="82.5" cy="128.0" r="1.95"/><circle cx="77.8" cy="128.3" r="1.95"/><circle cx="92.7" cy="128.9" r="1.95"/><circle cx="84.9" cy="129.2" r="1.95"/><circle cx="94.3" cy="129.8" r="1.95"/><circle cx="84.6" cy="130.1" r="1.95"/><circle cx="96.7" cy="130.7" r="1.95"/><circle cx="94.4" cy="131.1" r="1.95"/><circle cx="76.4" cy="131.2" r="1.95"/><circle cx="80.8" cy="131.7" r="1.95"/><circle cx="95.8" cy="132.4" r="1.95"/><circle cx="86.4" cy="132.6" r="1.95"/><circle cx="97.3" cy="133.3" r="1.95"/><circle cx="84.8" cy="133.5" r="1.95"/><circle cx="77.8" cy="133.8" r="1.95"/><circle cx="89.8" cy="134.4" r="1.95"/><circle cx="93.0" cy="134.8" r="1.95"/><circle cx="82.0" cy="135.1" r="1.95"/><circle cx="78.0" cy="135.4" r="1.95"/><circle cx="83.4" cy="135.9" r="1.95"/><circle cx="97.1" cy="136.5" r="1.95"/><circle cx="92.6" cy="136.9" r="1.95"/><circle cx="78.6" cy="137.1" r="1.95"/><circle cx="81.4" cy="137.5" r="1.95"/><circle cx="78.2" cy="137.9" r="1.95"/><circle cx="77.3" cy="138.3" r="1.95"/><circle cx="93.6" cy="138.9" r="1.95"/><circle cx="79.8" cy="139.1" r="1.95"/><circle cx="88.3" cy="139.6" r="1.95"/><circle cx="85.8" cy="140.0" r="1.95"/><circle cx="80.0" cy="140.3" r="1.95"/><circle cx="92.3" cy="140.9" r="1.95"/><circle cx="78.6" cy="141.1" r="1.95"/><circle cx="90.3" cy="141.6" r="1.95"/><circle cx="78.2" cy="141.9" r="1.95"/><circle cx="85.2" cy="142.3" r="1.95"/><circle cx="80.3" cy="142.7" r="1.95"/><circle cx="81.6" cy="143.1" r="1.95"/><circle cx="98.0" cy="143.6" r="1.95"/><circle cx="94.1" cy="144.0" r="1.95"/><circle cx="82.4" cy="144.2" r="1.95"/><circle cx="96.1" cy="144.8" r="1.95"/><circle cx="80.1" cy="144.9" r="1.95"/><circle cx="84.5" cy="145.4" r="1.95"/><circle cx="95.5" cy="145.9" r="1.95"/><circle cx="90.4" cy="146.2" r="1.95"/><circle cx="77.4" cy="146.4" r="1.95"/><circle cx="98.7" cy="147.0" r="1.95"/><circle cx="80.2" cy="147.2" r="1.95"/><circle cx="81.2" cy="147.5" r="1.95"/><circle cx="93.5" cy="148.1" r="1.95"/><circle cx="82.9" cy="148.3" r="1.95"/><circle cx="82.2" cy="148.7" r="1.95"/><circle cx="76.9" cy="149.0" r="1.95"/><circle cx="77.3" cy="149.4" r="1.95"/><circle cx="88.9" cy="149.9" r="1.95"/><circle cx="81.0" cy="150.2" r="1.95"/><circle cx="89.4" cy="150.7" r="1.95"/><circle cx="84.0" cy="151.0" r="1.95"/><circle cx="85.9" cy="151.4" r="1.95"/><circle cx="97.7" cy="151.9" r="1.95"/><circle cx="86.6" cy="152.1" r="1.95"/><circle cx="88.7" cy="152.6" r="1.95"/><circle cx="95.5" cy="153.0" r="1.95"/><circle cx="79.7" cy="153.2" r="1.95"/><circle cx="79.0" cy="153.6" r="1.95"/><circle cx="96.2" cy="154.2" r="1.95"/><circle cx="94.0" cy="154.6" r="1.95"/><circle cx="81.6" cy="154.8" r="1.95"/><circle cx="80.5" cy="155.2" r="1.95"/><circle cx="91.7" cy="155.8" r="1.95"/><circle cx="95.3" cy="156.4" r="1.95"/><circle cx="81.4" cy="156.6" r="1.95"/><circle cx="94.6" cy="157.4" r="1.95"/><circle cx="93.1" cy="157.9" r="1.95"/><circle cx="88.6" cy="158.3" r="1.95"/><circle cx="85.9" cy="158.8" r="1.95"/><circle cx="81.4" cy="159.3" r="1.95"/><circle cx="80.4" cy="159.9" r="1.95"/><circle cx="93.7" cy="161.0" r="1.95"/><circle cx="83.2" cy="161.2" r="1.95"/><circle cx="90.0" cy="162.0" r="1.95"/><circle cx="83.4" cy="162.4" r="1.95"/><circle cx="91.9" cy="163.3" r="1.95"/><circle cx="88.5" cy="163.8" r="1.95"/><circle cx="83.8" cy="164.2" r="1.95"/><circle cx="81.9" cy="164.7" r="1.95"/><circle cx="90.5" cy="165.5" r="1.95"/><circle cx="80.1" cy="165.8" r="1.95"/><circle cx="82.7" cy="166.4" r="1.95"/><circle cx="87.9" cy="167.1" r="1.95"/><circle cx="92.5" cy="167.8" r="1.95"/><circle cx="88.8" cy="168.3" r="1.95"/><circle cx="83.6" cy="168.7" r="1.95"/><circle cx="93.4" cy="169.6" r="1.95"/><circle cx="82.5" cy="169.8" r="1.95"/><circle cx="79.6" cy="170.3" r="1.95"/><circle cx="83.5" cy="171.0" r="1.95"/><circle cx="86.2" cy="171.7" r="1.95"/><circle cx="82.0" cy="172.2" r="1.95"/><circle cx="89.7" cy="173.1" r="1.95"/><circle cx="88.9" cy="173.8" r="1.95"/><circle cx="86.7" cy="174.4" r="1.95"/><circle cx="83.2" cy="175.0" r="1.95"/><circle cx="90.8" cy="176.1" r="1.95"/><circle cx="90.9" cy="176.9" r="1.95"/><circle cx="87.2" cy="177.5" r="1.95"/><circle cx="87.1" cy="178.3" r="1.95"/><circle cx="84.0" cy="179.0" r="1.95"/><circle cx="81.4" cy="179.7" r="1.95"/><circle cx="85.6" cy="180.8" r="1.95"/><circle cx="88.0" cy="181.9" r="1.95"/><circle cx="82.0" cy="182.4" r="1.95"/><circle cx="90.5" cy="183.7" r="1.95"/><circle cx="83.8" cy="184.2" r="1.95"/><circle cx="83.7" cy="185.0" r="1.95"/><circle cx="81.3" cy="185.7" r="1.95"/><circle cx="93.4" cy="187.0" r="1.95"/><circle cx="90.0" cy="187.7" r="1.95"/><circle cx="91.6" cy="188.6" r="1.95"/><circle cx="88.4" cy="189.2" r="1.95"/><circle cx="81.5" cy="189.6" r="1.95"/><circle cx="85.0" cy="190.7" r="1.95"/><circle cx="87.0" cy="191.7" r="1.95"/><circle cx="82.8" cy="192.3" r="1.95"/><circle cx="91.7" cy="193.9" r="1.95"/><circle cx="85.7" cy="194.4" r="1.95"/><circle cx="83.6" cy="195.2" r="1.95"/><circle cx="89.8" cy="196.8" r="1.95"/><circle cx="83.8" cy="197.3" r="1.95"/><circle cx="90.0" cy="199.4" r="1.95"/><circle cx="86.7" cy="200.4" r="1.95"/><circle cx="87.3" cy="202.2" r="1.95"/><circle cx="86.5" cy="204.2" r="1.95"/><circle cx="86.9" cy="207.0" r="1.95"/><circle cx="85.0" cy="208.4" r="1.95"/><circle cx="83.2" cy="209.5" r="1.95"/><circle cx="90.9" cy="211.3" r="1.95"/><circle cx="84.0" cy="211.8" r="1.95"/><circle cx="90.6" cy="212.9" r="1.95"/><circle cx="83.1" cy="213.3" r="1.95"/><circle cx="94.1" cy="214.5" r="1.95"/><circle cx="93.1" cy="215.1" r="1.95"/><circle cx="90.9" cy="215.6" r="1.95"/><circle cx="91.0" cy="216.3" r="1.95"/><circle cx="88.2" cy="216.9" r="1.95"/><circle cx="90.4" cy="217.6" r="1.95"/><circle cx="81.4" cy="217.9" r="1.95"/><circle cx="86.7" cy="218.8" r="1.95"/><circle cx="91.7" cy="219.7" r="1.95"/><circle cx="82.7" cy="220.0" r="1.95"/><circle cx="93.0" cy="221.1" r="1.95"/><circle cx="92.4" cy="221.8" r="1.95"/><circle cx="85.7" cy="222.2" r="1.95"/><circle cx="85.1" cy="222.9" r="1.95"/><circle cx="86.3" cy="223.7" r="1.95"/><circle cx="85.4" cy="224.3" r="1.95"/><circle cx="93.9" cy="225.4" r="1.95"/><circle cx="85.4" cy="225.8" r="1.95"/><circle cx="80.4" cy="226.3" r="1.95"/><circle cx="81.3" cy="227.0" r="1.95"/><circle cx="79.6" cy="228.1" r="1.95"/><circle cx="80.1" cy="228.5" r="1.95"/><circle cx="85.1" cy="229.0" r="1.95"/><circle cx="92.0" cy="229.4" r="1.95"/><circle cx="78.3" cy="229.6" r="1.95"/><circle cx="76.9" cy="229.9" r="1.95"/><circle cx="79.8" cy="230.2" r="1.95"/><circle cx="95.3" cy="230.6" r="1.95"/><circle cx="76.7" cy="230.7" r="1.95"/><circle cx="95.2" cy="231.1" r="1.95"/><circle cx="92.9" cy="231.4" r="1.95"/><circle cx="75.3" cy="231.5" r="1.95"/><circle cx="88.7" cy="231.8" r="1.95"/><circle cx="85.6" cy="232.0" r="1.95"/><circle cx="84.4" cy="232.2" r="1.95"/><circle cx="105.0" cy="232.6" r="1.95"/><circle cx="73.1" cy="232.6" r="1.95"/><circle cx="70.6" cy="232.8" r="1.95"/><circle cx="102.9" cy="233.2" r="1.95"/><circle cx="84.1" cy="233.4" r="1.95"/><circle cx="77.0" cy="233.6" r="1.95"/><circle cx="81.6" cy="233.8" r="1.95"/><circle cx="82.8" cy="234.0" r="1.95"/><circle cx="103.1" cy="234.4" r="1.95"/><circle cx="77.6" cy="234.5" r="1.95"/><circle cx="77.8" cy="234.7" r="1.95"/><circle cx="90.4" cy="235.0" r="1.95"/><circle cx="89.1" cy="235.2" r="1.95"/><circle cx="102.3" cy="235.6" r="1.95"/><circle cx="98.3" cy="235.8" r="1.95"/><circle cx="82.9" cy="235.9" r="1.95"/><circle cx="78.3" cy="236.2" r="1.95"/><circle cx="97.5" cy="236.6" r="1.95"/><circle cx="101.7" cy="236.9" r="1.95"/><circle cx="73.9" cy="236.9" r="1.95"/><circle cx="94.0" cy="237.4" r="1.95"/><circle cx="97.4" cy="237.7" r="1.95"/><circle cx="91.5" cy="237.9" r="1.95"/><circle cx="80.3" cy="238.2" r="1.95"/><circle cx="94.7" cy="238.6" r="1.95"/><circle cx="92.9" cy="238.9" r="1.95"/><circle cx="80.5" cy="239.1" r="1.95"/><circle cx="90.5" cy="239.6" r="1.95"/><circle cx="81.7" cy="239.9" r="1.95"/><circle cx="78.4" cy="240.2" r="1.95"/><circle cx="84.5" cy="240.7" r="1.95"/><circle cx="84.7" cy="241.2" r="1.95"/><circle cx="85.9" cy="241.7" r="1.95"/><circle cx="89.5" cy="242.3" r="1.95"/><circle cx="91.5" cy="243.0" r="1.95"/><circle cx="91.9" cy="243.8" r="1.95"/><circle cx="90.6" cy="244.8" r="1.95"/><circle cx="87.5" cy="251.0" r="1.95"/><circle cx="86.0" cy="254.5" r="1.95"/><circle cx="87.5" cy="258.0" r="1.95"/><circle cx="87.0" cy="261.3" r="1.95"/></g>
<g fill="#bfbfbf"><circle cx="132.0" cy="184.9" r="1.95"/><circle cx="131.9" cy="190.9" r="1.95"/><circle cx="133.2" cy="192.4" r="1.95"/><circle cx="133.5" cy="193.3" r="1.95"/><circle cx="128.4" cy="193.8" r="1.95"/><circle cx="126.5" cy="194.5" r="1.95"/><circle cx="130.4" cy="195.3" r="1.95"/><circle cx="128.9" cy="195.9" r="1.95"/><circle cx="136.9" cy="196.7" r="1.95"/><circle cx="135.5" cy="197.1" r="1.95"/><circle cx="134.1" cy="197.5" r="1.95"/><circle cx="133.3" cy="197.8" r="1.95"/><circle cx="136.1" cy="198.2" r="1.95"/><circle cx="122.6" cy="198.4" r="1.95"/><circle cx="130.3" cy="198.7" r="1.95"/><circle cx="121.9" cy="198.9" r="1.95"/><circle cx="145.2" cy="199.3" r="1.95"/><circle cx="117.4" cy="199.4" r="1.95"/><circle cx="143.2" cy="199.8" r="1.95"/><circle cx="116.7" cy="199.9" r="1.95"/><circle cx="139.1" cy="200.2" r="1.95"/><circle cx="125.6" cy="200.4" r="1.95"/><circle cx="128.2" cy="200.6" r="1.95"/><circle cx="146.2" cy="200.8" r="1.95"/><circle cx="112.1" cy="200.9" r="1.95"/><circle cx="113.7" cy="201.1" r="1.95"/><circle cx="149.5" cy="201.4" r="1.95"/><circle cx="132.4" cy="201.5" r="1.95"/><circle cx="114.6" cy="201.7" r="1.95"/><circle cx="152.9" cy="202.0" r="1.95"/><circle cx="151.3" cy="202.2" r="1.95"/><circle cx="115.2" cy="202.2" r="1.95"/><circle cx="128.6" cy="202.5" r="1.95"/><circle cx="116.0" cy="202.6" r="1.95"/><circle cx="123.7" cy="202.8" r="1.95"/><circle cx="137.4" cy="203.0" r="1.95"/><circle cx="117.0" cy="203.1" r="1.95"/><circle cx="140.9" cy="203.4" r="1.95"/><circle cx="111.8" cy="203.5" r="1.95"/><circle cx="117.1" cy="203.7" r="1.95"/><circle cx="146.4" cy="203.9" r="1.95"/><circle cx="127.4" cy="204.1" r="1.95"/><circle cx="128.3" cy="204.2" r="1.95"/><circle cx="136.5" cy="204.4" r="1.95"/><circle cx="130.9" cy="204.6" r="1.95"/><circle cx="126.6" cy="204.8" r="1.95"/><circle cx="109.9" cy="204.9" r="1.95"/><circle cx="142.6" cy="205.1" r="1.95"/><circle cx="153.9" cy="205.3" r="1.95"/><circle cx="154.3" cy="205.5" r="1.95"/><circle cx="139.7" cy="205.6" r="1.95"/><circle cx="125.3" cy="205.8" r="1.95"/><circle cx="125.6" cy="205.9" r="1.95"/><circle cx="140.9" cy="206.2" r="1.95"/><circle cx="140.1" cy="206.3" r="1.95"/><circle cx="114.0" cy="206.4" r="1.95"/><circle cx="119.7" cy="206.6" r="1.95"/><circle cx="125.6" cy="206.8" r="1.95"/><circle cx="132.5" cy="207.0" r="1.95"/><circle cx="146.4" cy="207.2" r="1.95"/><circle cx="132.0" cy="207.3" r="1.95"/><circle cx="110.2" cy="207.4" r="1.95"/><circle cx="146.9" cy="207.7" r="1.95"/><circle cx="128.8" cy="207.8" r="1.95"/><circle cx="132.9" cy="208.0" r="1.95"/><circle cx="119.2" cy="208.2" r="1.95"/><circle cx="128.7" cy="208.4" r="1.95"/><circle cx="126.9" cy="208.5" r="1.95"/><circle cx="144.5" cy="208.8" r="1.95"/><circle cx="113.8" cy="208.8" r="1.95"/><circle cx="134.3" cy="209.1" r="1.95"/><circle cx="117.3" cy="209.2" r="1.95"/><circle cx="141.0" cy="209.4" r="1.95"/><circle cx="110.8" cy="209.5" r="1.95"/><circle cx="121.8" cy="209.7" r="1.95"/><circle cx="124.9" cy="209.9" r="1.95"/><circle cx="138.2" cy="210.1" r="1.95"/><circle cx="111.6" cy="210.2" r="1.95"/><circle cx="130.1" cy="210.5" r="1.95"/><circle cx="118.8" cy="210.6" r="1.95"/><circle cx="122.1" cy="210.8" r="1.95"/><circle cx="130.9" cy="211.0" r="1.95"/><circle cx="153.2" cy="211.2" r="1.95"/><circle cx="131.1" cy="211.3" r="1.95"/><circle cx="153.3" cy="211.6" r="1.95"/><circle cx="116.5" cy="211.6" r="1.95"/><circle cx="152.0" cy="211.9" r="1.95"/><circle cx="125.6" cy="212.0" r="1.95"/><circle cx="117.2" cy="212.2" r="1.95"/><circle cx="143.9" cy="212.4" r="1.95"/><circle cx="151.8" cy="212.6" r="1.95"/><circle cx="108.3" cy="212.6" r="1.95"/><circle cx="120.8" cy="212.8" r="1.95"/><circle cx="145.2" cy="213.1" r="1.95"/><circle cx="124.3" cy="213.2" r="1.95"/><circle cx="119.3" cy="213.3" r="1.95"/><circle cx="107.8" cy="213.5" r="1.95"/><circle cx="109.3" cy="213.6" r="1.95"/><circle cx="137.9" cy="213.9" r="1.95"/><circle cx="156.2" cy="214.1" r="1.95"/><circle cx="157.1" cy="214.2" r="1.95"/><circle cx="132.2" cy="214.3" r="1.95"/><circle cx="107.9" cy="214.4" r="1.95"/><circle cx="123.0" cy="214.6" r="1.95"/><circle cx="146.7" cy="214.8" r="1.95"/><circle cx="149.0" cy="215.0" r="1.95"/><circle cx="139.2" cy="215.1" r="1.95"/><circle cx="118.0" cy="215.2" r="1.95"/><circle cx="133.4" cy="215.4" r="1.95"/><circle cx="130.8" cy="215.6" r="1.95"/><circle cx="138.6" cy="215.7" r="1.95"/><circle cx="119.6" cy="215.8" r="1.95"/><circle cx="155.6" cy="216.1" r="1.95"/><circle cx="152.9" cy="216.2" r="1.95"/><circle cx="114.1" cy="216.3" r="1.95"/><circle cx="120.9" cy="216.4" r="1.95"/><circle cx="152.0" cy="216.7" r="1.95"/><circle cx="120.1" cy="216.7" r="1.95"/><circle cx="156.0" cy="217.0" r="1.95"/><circle cx="132.8" cy="217.1" r="1.95"/><circle cx="142.6" cy="217.2" r="1.95"/><circle cx="143.2" cy="217.4" r="1.95"/><circle cx="116.4" cy="217.5" r="1.95"/><circle cx="120.2" cy="217.6" r="1.95"/><circle cx="118.5" cy="217.8" r="1.95"/><circle cx="142.1" cy="218.0" r="1.95"/><circle cx="142.7" cy="218.1" r="1.95"/><circle cx="111.6" cy="218.2" r="1.95"/><circle cx="153.3" cy="218.4" r="1.95"/><circle cx="127.6" cy="218.5" r="1.95"/><circle cx="117.8" cy="218.6" r="1.95"/><circle cx="128.4" cy="218.8" r="1.95"/><circle cx="158.2" cy="219.0" r="1.95"/><circle cx="135.3" cy="219.1" r="1.95"/><circle cx="138.8" cy="219.3" r="1.95"/><circle cx="154.9" cy="219.5" r="1.95"/><circle cx="157.1" cy="219.6" r="1.95"/><circle cx="146.1" cy="219.7" r="1.95"/><circle cx="127.5" cy="219.8" r="1.95"/><circle cx="136.8" cy="220.0" r="1.95"/><circle cx="153.6" cy="220.2" r="1.95"/><circle cx="147.6" cy="220.3" r="1.95"/><circle cx="136.3" cy="220.4" r="1.95"/><circle cx="123.8" cy="220.6" r="1.95"/><circle cx="125.0" cy="220.7" r="1.95"/><circle cx="144.6" cy="220.9" r="1.95"/><circle cx="135.4" cy="221.0" r="1.95"/><circle cx="106.3" cy="221.1" r="1.95"/><circle cx="143.2" cy="221.4" r="1.95"/><circle cx="153.4" cy="221.5" r="1.95"/><circle cx="147.8" cy="221.7" r="1.95"/><circle cx="153.0" cy="221.8" r="1.95"/><circle cx="153.6" cy="222.0" r="1.95"/><circle cx="133.8" cy="222.1" r="1.95"/><circle cx="147.2" cy="222.3" r="1.95"/><circle cx="125.7" cy="222.4" r="1.95"/><circle cx="111.0" cy="222.5" r="1.95"/><circle cx="124.3" cy="222.7" r="1.95"/><circle cx="122.2" cy="222.8" r="1.95"/><circle cx="154.5" cy="223.1" r="1.95"/><circle cx="141.8" cy="223.2" r="1.95"/><circle cx="134.1" cy="223.3" r="1.95"/><circle cx="138.3" cy="223.5" r="1.95"/><circle cx="112.8" cy="223.6" r="1.95"/><circle cx="133.7" cy="223.8" r="1.95"/><circle cx="142.1" cy="224.0" r="1.95"/><circle cx="126.7" cy="224.1" r="1.95"/><circle cx="119.3" cy="224.2" r="1.95"/><circle cx="127.4" cy="224.4" r="1.95"/><circle cx="123.3" cy="224.6" r="1.95"/><circle cx="141.1" cy="224.8" r="1.95"/><circle cx="114.5" cy="224.9" r="1.95"/><circle cx="112.0" cy="225.0" r="1.95"/><circle cx="122.9" cy="225.2" r="1.95"/><circle cx="141.4" cy="225.4" r="1.95"/><circle cx="144.4" cy="225.6" r="1.95"/><circle cx="139.6" cy="225.8" r="1.95"/><circle cx="152.5" cy="226.0" r="1.95"/><circle cx="125.7" cy="226.1" r="1.95"/><circle cx="110.0" cy="226.2" r="1.95"/><circle cx="131.4" cy="226.4" r="1.95"/><circle cx="129.4" cy="226.6" r="1.95"/><circle cx="117.3" cy="226.7" r="1.95"/><circle cx="139.6" cy="227.0" r="1.95"/><circle cx="124.8" cy="227.1" r="1.95"/><circle cx="120.2" cy="227.2" r="1.95"/><circle cx="124.3" cy="227.4" r="1.95"/><circle cx="151.7" cy="227.7" r="1.95"/><circle cx="110.2" cy="227.8" r="1.95"/><circle cx="125.9" cy="228.0" r="1.95"/><circle cx="122.4" cy="228.2" r="1.95"/><circle cx="119.1" cy="228.3" r="1.95"/><circle cx="129.1" cy="228.5" r="1.95"/><circle cx="120.1" cy="228.7" r="1.95"/><circle cx="149.7" cy="229.0" r="1.95"/><circle cx="132.0" cy="229.1" r="1.95"/><circle cx="140.3" cy="229.3" r="1.95"/><circle cx="118.0" cy="229.5" r="1.95"/><circle cx="130.5" cy="229.7" r="1.95"/><circle cx="136.4" cy="229.9" r="1.95"/><circle cx="146.0" cy="230.1" r="1.95"/><circle cx="121.8" cy="230.2" r="1.95"/><circle cx="130.4" cy="230.5" r="1.95"/><circle cx="146.3" cy="230.7" r="1.95"/><circle cx="145.3" cy="230.9" r="1.95"/><circle cx="121.1" cy="231.0" r="1.95"/><circle cx="133.5" cy="231.3" r="1.95"/><circle cx="142.4" cy="231.5" r="1.95"/><circle cx="127.9" cy="231.7" r="1.95"/><circle cx="138.8" cy="231.9" r="1.95"/><circle cx="138.4" cy="232.1" r="1.95"/><circle cx="150.4" cy="232.4" r="1.95"/><circle cx="134.1" cy="232.5" r="1.95"/><circle cx="139.0" cy="232.7" r="1.95"/><circle cx="126.2" cy="232.9" r="1.95"/><circle cx="140.9" cy="233.1" r="1.95"/><circle cx="125.2" cy="233.3" r="1.95"/><circle cx="132.0" cy="233.5" r="1.95"/><circle cx="126.7" cy="233.7" r="1.95"/><circle cx="124.7" cy="233.9" r="1.95"/><circle cx="118.3" cy="234.1" r="1.95"/><circle cx="121.7" cy="234.3" r="1.95"/><circle cx="133.7" cy="234.6" r="1.95"/><circle cx="122.8" cy="234.8" r="1.95"/><circle cx="115.2" cy="234.9" r="1.95"/><circle cx="143.2" cy="235.3" r="1.95"/><circle cx="124.1" cy="235.4" r="1.95"/><circle cx="147.9" cy="235.7" r="1.95"/><circle cx="135.6" cy="235.9" r="1.95"/><circle cx="128.0" cy="236.1" r="1.95"/><circle cx="145.3" cy="236.4" r="1.95"/><circle cx="146.0" cy="236.6" r="1.95"/><circle cx="125.8" cy="236.8" r="1.95"/><circle cx="119.1" cy="236.9" r="1.95"/><circle cx="136.8" cy="237.3" r="1.95"/><circle cx="143.4" cy="237.6" r="1.95"/><circle cx="135.6" cy="237.8" r="1.95"/><circle cx="141.2" cy="238.0" r="1.95"/><circle cx="129.2" cy="238.2" r="1.95"/><circle cx="135.7" cy="238.5" r="1.95"/><circle cx="124.6" cy="238.7" r="1.95"/><circle cx="129.2" cy="239.0" r="1.95"/><circle cx="128.4" cy="239.2" r="1.95"/><circle cx="128.6" cy="239.5" r="1.95"/><circle cx="129.1" cy="239.8" r="1.95"/><circle cx="140.7" cy="240.1" r="1.95"/><circle cx="122.8" cy="240.3" r="1.95"/><circle cx="123.9" cy="240.6" r="1.95"/><circle cx="125.4" cy="240.9" r="1.95"/><circle cx="144.0" cy="241.4" r="1.95"/><circle cx="132.6" cy="241.6" r="1.95"/><circle cx="121.2" cy="241.8" r="1.95"/><circle cx="139.5" cy="242.3" r="1.95"/><circle cx="139.9" cy="242.7" r="1.95"/><circle cx="138.4" cy="243.1" r="1.95"/><circle cx="129.3" cy="243.4" r="1.95"/><circle cx="136.0" cy="243.9" r="1.95"/><circle cx="128.9" cy="244.3" r="1.95"/><circle cx="126.8" cy="244.7" r="1.95"/><circle cx="136.6" cy="245.7" r="1.95"/><circle cx="136.3" cy="246.3" r="1.95"/><circle cx="128.3" cy="246.6" r="1.95"/><circle cx="137.1" cy="247.5" r="1.95"/><circle cx="125.6" cy="247.7" r="1.95"/><circle cx="129.4" cy="248.4" r="1.95"/><circle cx="125.2" cy="248.9" r="1.95"/><circle cx="127.3" cy="249.5" r="1.95"/><circle cx="127.2" cy="250.1" r="1.95"/><circle cx="135.2" cy="250.9" r="1.95"/><circle cx="129.0" cy="251.2" r="1.95"/><circle cx="127.6" cy="251.7" r="1.95"/><circle cx="127.7" cy="252.3" r="1.95"/><circle cx="129.5" cy="253.0" r="1.95"/><circle cx="136.5" cy="253.9" r="1.95"/><circle cx="133.3" cy="254.4" r="1.95"/><circle cx="127.3" cy="254.8" r="1.95"/><circle cx="134.0" cy="255.8" r="1.95"/><circle cx="132.4" cy="256.5" r="1.95"/><circle cx="131.5" cy="257.2" r="1.95"/><circle cx="132.2" cy="258.3" r="1.95"/><circle cx="132.0" cy="271.5" r="1.95"/></g>
<g fill="#fdbb7e"><circle cx="246.9" cy="111.8" r="1.95"/><circle cx="246.5" cy="114.4" r="1.95"/><circle cx="248.7" cy="116.0" r="1.95"/><circle cx="248.9" cy="116.9" r="1.95"/><circle cx="250.3" cy="117.8" r="1.95"/><circle cx="245.1" cy="118.2" r="1.95"/><circle cx="245.3" cy="118.9" r="1.95"/><circle cx="244.5" cy="119.6" r="1.95"/><circle cx="245.1" cy="120.3" r="1.95"/><circle cx="249.9" cy="121.2" r="1.95"/><circle cx="244.0" cy="121.5" r="1.95"/><circle cx="247.9" cy="122.3" r="1.95"/><circle cx="244.6" cy="122.8" r="1.95"/><circle cx="245.4" cy="123.4" r="1.95"/><circle cx="246.8" cy="124.0" r="1.95"/><circle cx="251.4" cy="124.7" r="1.95"/><circle cx="248.8" cy="125.2" r="1.95"/><circle cx="242.0" cy="125.4" r="1.95"/><circle cx="244.9" cy="126.1" r="1.95"/><circle cx="243.3" cy="126.5" r="1.95"/><circle cx="252.2" cy="127.3" r="1.95"/><circle cx="251.5" cy="127.8" r="1.95"/><circle cx="251.5" cy="128.2" r="1.95"/><circle cx="251.9" cy="128.7" r="1.95"/><circle cx="250.8" cy="129.1" r="1.95"/><circle cx="253.6" cy="129.7" r="1.95"/><circle cx="251.6" cy="130.1" r="1.95"/><circle cx="244.3" cy="130.3" r="1.95"/><circle cx="252.5" cy="131.0" r="1.95"/><circle cx="247.4" cy="131.3" r="1.95"/><circle cx="251.2" cy="131.8" r="1.95"/><circle cx="248.5" cy="132.2" r="1.95"/><circle cx="246.6" cy="132.6" r="1.95"/><circle cx="245.6" cy="133.0" r="1.95"/><circle cx="246.6" cy="133.4" r="1.95"/><circle cx="244.8" cy="133.8" r="1.95"/><circle cx="241.8" cy="134.1" r="1.95"/><circle cx="252.5" cy="134.7" r="1.95"/><circle cx="252.2" cy="135.1" r="1.95"/><circle cx="255.2" cy="135.6" r="1.95"/><circle cx="250.6" cy="135.9" r="1.95"/><circle cx="248.5" cy="136.2" r="1.95"/><circle cx="251.6" cy="136.6" r="1.95"/><circle cx="241.7" cy="136.8" r="1.95"/><circle cx="250.5" cy="137.4" r="1.95"/><circle cx="246.7" cy="137.7" r="1.95"/><circle cx="242.2" cy="137.9" r="1.95"/><circle cx="242.6" cy="138.3" r="1.95"/><circle cx="248.0" cy="138.8" r="1.95"/><circle cx="243.4" cy="139.0" r="1.95"/><circle cx="246.9" cy="139.4" r="1.95"/><circle cx="249.4" cy="139.8" r="1.95"/><circle cx="245.8" cy="140.1" r="1.95"/><circle cx="241.1" cy="140.4" r="1.95"/><circle cx="247.4" cy="140.8" r="1.95"/><circle cx="242.9" cy="141.1" r="1.95"/><circle cx="242.8" cy="141.4" r="1.95"/><circle cx="242.0" cy="141.8" r="1.95"/><circle cx="245.2" cy="142.1" r="1.95"/><circle cx="239.7" cy="142.4" r="1.95"/><circle cx="250.4" cy="142.9" r="1.95"/><circle cx="256.1" cy="143.3" r="1.95"/><circle cx="245.5" cy="143.5" r="1.95"/><circle cx="251.8" cy="143.9" r="1.95"/><circle cx="255.9" cy="144.2" r="1.95"/><circle cx="238.8" cy="144.3" r="1.95"/><circle cx="240.6" cy="144.7" r="1.95"/><circle cx="253.7" cy="145.1" r="1.95"/><circle cx="254.4" cy="145.5" r="1.95"/><circle cx="250.4" cy="145.7" r="1.95"/><circle cx="240.7" cy="145.9" r="1.95"/><circle cx="245.8" cy="146.2" r="1.95"/><circle cx="255.3" cy="146.6" r="1.95"/><circle cx="255.8" cy="146.9" r="1.95"/><circle cx="254.1" cy="147.2" r="1.95"/><circle cx="241.2" cy="147.4" r="1.95"/><circle cx="255.3" cy="147.8" r="1.95"/><circle cx="244.9" cy="147.9" r="1.95"/><circle cx="252.4" cy="148.3" r="1.95"/><circle cx="239.5" cy="148.4" r="1.95"/><circle cx="258.2" cy="148.9" r="1.95"/><circle cx="250.0" cy="149.1" r="1.95"/><circle cx="252.7" cy="149.4" r="1.95"/><circle cx="241.0" cy="149.5" r="1.95"/><circle cx="250.3" cy="149.9" r="1.95"/><circle cx="249.5" cy="150.1" r="1.95"/><circle cx="249.8" cy="150.4" r="1.95"/><circle cx="244.2" cy="150.6" r="1.95"/><circle cx="253.1" cy="150.9" r="1.95"/><circle cx="243.8" cy="151.1" r="1.95"/><circle cx="242.6" cy="151.3" r="1.95"/><circle cx="239.4" cy="151.6" r="1.95"/><circle cx="252.2" cy="151.9" r="1.95"/><circle cx="237.9" cy="152.0" r="1.95"/><circle cx="240.7" cy="152.3" r="1.95"/><circle cx="236.7" cy="152.5" r="1.95"/><circle cx="251.3" cy="152.9" r="1.95"/><circle cx="249.0" cy="153.1" r="1.95"/><circle cx="248.7" cy="153.3" r="1.95"/><circle cx="235.6" cy="153.5" r="1.95"/><circle cx="246.0" cy="153.8" r="1.95"/><circle cx="243.5" cy="154.0" r="1.95"/><circle cx="236.8" cy="154.2" r="1.95"/><circle cx="234.4" cy="154.4" r="1.95"/><circle cx="261.0" cy="154.8" r="1.95"/><circle cx="237.4" cy="154.9" r="1.95"/><circle cx="242.2" cy="155.1" r="1.95"/><circle cx="241.3" cy="155.3" r="1.95"/><circle cx="250.3" cy="155.6" r="1.95"/><circle cx="235.9" cy="155.7" r="1.95"/><circle cx="246.8" cy="156.0" r="1.95"/><circle cx="243.9" cy="156.2" r="1.95"/><circle cx="257.0" cy="156.5" r="1.95"/><circle cx="233.7" cy="156.6" r="1.95"/><circle cx="242.9" cy="156.9" r="1.95"/><circle cx="247.5" cy="157.1" r="1.95"/><circle cx="261.0" cy="157.4" r="1.95"/><circle cx="248.1" cy="157.5" r="1.95"/><circle cx="246.9" cy="157.7" r="1.95"/><circle cx="252.5" cy="158.0" r="1.95"/><circle cx="241.7" cy="158.1" r="1.95"/><circle cx="234.0" cy="158.3" r="1.95"/><circle cx="247.6" cy="158.6" r="1.95"/><circle cx="259.6" cy="158.9" r="1.95"/><circle cx="254.6" cy="159.0" r="1.95"/><circle cx="240.5" cy="159.2" r="1.95"/><circle cx="253.0" cy="159.4" r="1.95"/><circle cx="257.9" cy="159.7" r="1.95"/><circle cx="240.4" cy="159.8" r="1.95"/><circle cx="250.2" cy="160.0" r="1.95"/><circle cx="243.3" cy="160.2" r="1.95"/><circle cx="240.0" cy="160.4" r="1.95"/><circle cx="241.2" cy="160.6" r="1.95"/><circle cx="238.7" cy="160.8" r="1.95"/><circle cx="243.1" cy="161.0" r="1.95"/><circle cx="233.6" cy="161.2" r="1.95"/><circle cx="244.5" cy="161.4" r="1.95"/><circle cx="235.0" cy="161.6" r="1.95"/><circle cx="255.5" cy="161.9" r="1.95"/><circle cx="250.7" cy="162.0" r="1.95"/><circle cx="232.4" cy="162.2" r="1.95"/><circle cx="256.1" cy="162.5" r="1.95"/><circle cx="238.0" cy="162.6" r="1.95"/><circle cx="247.0" cy="162.8" r="1.95"/><circle cx="249.3" cy="163.0" r="1.95"/><circle cx="242.4" cy="163.2" r="1.95"/><circle cx="241.0" cy="163.4" r="1.95"/><circle cx="245.6" cy="163.6" r="1.95"/><circle cx="236.2" cy="163.7" r="1.95"/><circle cx="259.1" cy="164.0" r="1.95"/><circle cx="235.3" cy="164.1" r="1.95"/><circle cx="257.9" cy="164.4" r="1.95"/><circle cx="238.6" cy="164.5" r="1.95"/><circle cx="241.3" cy="164.7" r="1.95"/><circle cx="244.0" cy="164.9" r="1.95"/><circle cx="232.6" cy="165.1" r="1.95"/><circle cx="235.7" cy="165.3" r="1.95"/><circle cx="243.1" cy="165.5" r="1.95"/><circle cx="245.7" cy="165.7" r="1.95"/><circle cx="259.8" cy="165.9" r="1.95"/><circle cx="263.5" cy="166.1" r="1.95"/><circle cx="232.7" cy="166.2" r="1.95"/><circle cx="248.7" cy="166.4" r="1.95"/><circle cx="235.5" cy="166.6" r="1.95"/><circle cx="257.6" cy="166.9" r="1.95"/><circle cx="241.8" cy="167.0" r="1.95"/><circle cx="260.6" cy="167.2" r="1.95"/><circle cx="249.1" cy="167.4" r="1.95"/><circle cx="235.2" cy="167.5" r="1.95"/><circle cx="231.1" cy="167.7" r="1.95"/><circle cx="239.2" cy="167.9" r="1.95"/><circle cx="259.8" cy="168.1" r="1.95"/><circle cx="236.0" cy="168.2" r="1.95"/><circle cx="246.9" cy="168.5" r="1.95"/><circle cx="243.4" cy="168.6" r="1.95"/><circle cx="242.6" cy="168.8" r="1.95"/><circle cx="257.3" cy="169.1" r="1.95"/><circle cx="238.5" cy="169.2" r="1.95"/><circle cx="254.5" cy="169.4" r="1.95"/><circle cx="252.8" cy="169.6" r="1.95"/><circle cx="261.1" cy="169.9" r="1.95"/><circle cx="248.2" cy="170.0" r="1.95"/><circle cx="260.4" cy="170.3" r="1.95"/><circle cx="245.8" cy="170.4" r="1.95"/><circle cx="249.8" cy="170.6" r="1.95"/><circle cx="251.2" cy="170.8" r="1.95"/><circle cx="257.6" cy="171.0" r="1.95"/><circle cx="259.1" cy="171.3" r="1.95"/><circle cx="236.5" cy="171.3" r="1.95"/><circle cx="237.2" cy="171.6" r="1.95"/><circle cx="248.6" cy="171.8" r="1.95"/><circle cx="256.3" cy="172.1" r="1.95"/><circle cx="248.5" cy="172.3" r="1.95"/><circle cx="242.1" cy="172.5" r="1.95"/><circle cx="260.0" cy="172.8" r="1.95"/><circle cx="242.2" cy="172.9" r="1.95"/><circle cx="236.7" cy="173.1" r="1.95"/><circle cx="235.9" cy="173.3" r="1.95"/><circle cx="235.5" cy="173.5" r="1.95"/><circle cx="253.3" cy="173.9" r="1.95"/><circle cx="237.8" cy="174.0" r="1.95"/><circle cx="252.9" cy="174.4" r="1.95"/><circle cx="256.4" cy="174.7" r="1.95"/><circle cx="259.4" cy="175.0" r="1.95"/><circle cx="254.8" cy="175.2" r="1.95"/><circle cx="245.9" cy="175.4" r="1.95"/><circle cx="250.3" cy="175.7" r="1.95"/><circle cx="254.9" cy="176.0" r="1.95"/><circle cx="252.3" cy="176.3" r="1.95"/><circle cx="243.1" cy="176.4" r="1.95"/><circle cx="253.0" cy="176.8" r="1.95"/><circle cx="239.6" cy="177.0" r="1.95"/><circle cx="243.7" cy="177.3" r="1.95"/><circle cx="257.7" cy="177.8" r="1.95"/><circle cx="247.0" cy="178.0" r="1.95"/><circle cx="242.9" cy="178.2" r="1.95"/><circle cx="253.4" cy="178.6" r="1.95"/><circle cx="246.6" cy="178.8" r="1.95"/><circle cx="237.6" cy="179.0" r="1.95"/><circle cx="238.2" cy="179.3" r="1.95"/><circle cx="242.8" cy="179.7" r="1.95"/><circle cx="244.3" cy="180.0" r="1.95"/><circle cx="256.2" cy="180.5" r="1.95"/><circle cx="242.6" cy="180.6" r="1.95"/><circle cx="254.5" cy="181.1" r="1.95"/><circle cx="254.5" cy="181.4" r="1.95"/><circle cx="246.0" cy="181.6" r="1.95"/><circle cx="257.2" cy="182.0" r="1.95"/><circle cx="252.7" cy="182.3" r="1.95"/><circle cx="247.3" cy="182.5" r="1.95"/><circle cx="243.0" cy="182.8" r="1.95"/><circle cx="246.9" cy="183.2" r="1.95"/><circle cx="255.2" cy="183.6" r="1.95"/><circle cx="248.3" cy="183.8" r="1.95"/><circle cx="241.8" cy="184.1" r="1.95"/><circle cx="245.3" cy="184.4" r="1.95"/><circle cx="247.2" cy="184.8" r="1.95"/><circle cx="241.8" cy="185.0" r="1.95"/><circle cx="249.0" cy="185.5" r="1.95"/><circle cx="239.0" cy="185.6" r="1.95"/><circle cx="253.5" cy="186.2" r="1.95"/><circle cx="241.7" cy="186.3" r="1.95"/><circle cx="240.3" cy="186.7" r="1.95"/><circle cx="249.2" cy="187.1" r="1.95"/><circle cx="244.1" cy="187.4" r="1.95"/><circle cx="254.5" cy="187.9" r="1.95"/><circle cx="247.5" cy="188.1" r="1.95"/><circle cx="248.0" cy="188.4" r="1.95"/><circle cx="253.5" cy="188.9" r="1.95"/><circle cx="242.5" cy="189.0" r="1.95"/><circle cx="251.9" cy="189.5" r="1.95"/><circle cx="250.2" cy="189.9" r="1.95"/><circle cx="246.4" cy="190.1" r="1.95"/><circle cx="255.4" cy="190.6" r="1.95"/><circle cx="239.5" cy="190.7" r="1.95"/><circle cx="253.7" cy="191.3" r="1.95"/><circle cx="241.6" cy="191.5" r="1.95"/><circle cx="253.2" cy="192.1" r="1.95"/><circle cx="241.9" cy="192.2" r="1.95"/><circle cx="240.3" cy="192.6" r="1.95"/><circle cx="247.6" cy="193.1" r="1.95"/><circle cx="254.4" cy="193.6" r="1.95"/><circle cx="243.8" cy="193.8" r="1.95"/><circle cx="247.4" cy="194.2" r="1.95"/><circle cx="249.3" cy="194.6" r="1.95"/><circle cx="243.7" cy="194.9" r="1.95"/><circle cx="248.1" cy="195.4" r="1.95"/><circle cx="240.2" cy="195.6" r="1.95"/><circle cx="246.8" cy="196.2" r="1.95"/><circle cx="251.4" cy="196.7" r="1.95"/><circle cx="245.3" cy="197.0" r="1.95"/><circle cx="243.6" cy="197.4" r="1.95"/><circle cx="241.2" cy="197.7" r="1.95"/><circle cx="250.4" cy="198.4" r="1.95"/><circle cx="246.6" cy="198.7" r="1.95"/><circle cx="253.3" cy="199.3" r="1.95"/><circle cx="250.8" cy="199.7" r="1.95"/><circle cx="242.2" cy="199.9" r="1.95"/><circle cx="253.0" cy="200.7" r="1.95"/><circle cx="253.2" cy="201.2" r="1.95"/><circle cx="251.6" cy="201.6" r="1.95"/><circle cx="251.8" cy="202.1" r="1.95"/><circle cx="249.8" cy="202.5" r="1.95"/><circle cx="250.3" cy="203.0" r="1.95"/><circle cx="249.6" cy="203.5" r="1.95"/><circle cx="248.7" cy="204.0" r="1.95"/><circle cx="244.8" cy="204.3" r="1.95"/><circle cx="243.4" cy="204.8" r="1.95"/><circle cx="250.1" cy="205.6" r="1.95"/><circle cx="248.6" cy="206.1" r="1.95"/><circle cx="242.9" cy="206.4" r="1.95"/><circle cx="249.1" cy="207.3" r="1.95"/><circle cx="248.7" cy="207.9" r="1.95"/><circle cx="247.7" cy="208.4" r="1.95"/><circle cx="250.2" cy="209.2" r="1.95"/><circle cx="251.0" cy="209.9" r="1.95"/><circle cx="246.5" cy="210.3" r="1.95"/><circle cx="250.3" cy="211.3" r="1.95"/><circle cx="247.6" cy="211.8" r="1.95"/><circle cx="248.2" cy="212.6" r="1.95"/><circle cx="246.9" cy="213.3" r="1.95"/><circle cx="250.7" cy="214.4" r="1.95"/><circle cx="247.2" cy="214.9" r="1.95"/><circle cx="250.6" cy="216.2" r="1.95"/><circle cx="246.6" cy="216.6" r="1.95"/><circle cx="248.6" cy="217.9" r="1.95"/><circle cx="249.6" cy="219.2" r="1.95"/><circle cx="248.3" cy="220.4" r="1.95"/><circle cx="247.5" cy="224.3" r="1.95"/></g>
<g fill="#9ec2e1"><circle cx="290.9" cy="112.8" r="1.95"/><circle cx="290.2" cy="116.3" r="1.95"/><circle cx="293.1" cy="118.5" r="1.95"/><circle cx="292.9" cy="119.7" r="1.95"/><circle cx="295.1" cy="121.0" r="1.95"/><circle cx="290.2" cy="121.5" r="1.95"/><circle cx="290.1" cy="122.5" r="1.95"/><circle cx="293.7" cy="123.9" r="1.95"/><circle cx="293.2" cy="124.8" r="1.95"/><circle cx="290.3" cy="125.5" r="1.95"/><circle cx="293.4" cy="126.7" r="1.95"/><circle cx="291.0" cy="127.4" r="1.95"/><circle cx="294.3" cy="128.6" r="1.95"/><circle cx="288.6" cy="129.0" r="1.95"/><circle cx="289.4" cy="130.0" r="1.95"/><circle cx="295.6" cy="131.3" r="1.95"/><circle cx="290.6" cy="131.8" r="1.95"/><circle cx="289.6" cy="132.5" r="1.95"/><circle cx="294.8" cy="133.7" r="1.95"/><circle cx="293.2" cy="134.4" r="1.95"/><circle cx="288.4" cy="134.8" r="1.95"/><circle cx="292.4" cy="135.8" r="1.95"/><circle cx="293.6" cy="136.6" r="1.95"/><circle cx="288.4" cy="137.1" r="1.95"/><circle cx="293.5" cy="138.1" r="1.95"/><circle cx="287.8" cy="138.5" r="1.95"/><circle cx="290.1" cy="139.3" r="1.95"/><circle cx="287.3" cy="139.9" r="1.95"/><circle cx="288.6" cy="140.6" r="1.95"/><circle cx="297.4" cy="141.7" r="1.95"/><circle cx="290.8" cy="142.1" r="1.95"/><circle cx="297.7" cy="143.0" r="1.95"/><circle cx="291.2" cy="143.4" r="1.95"/><circle cx="293.2" cy="144.1" r="1.95"/><circle cx="296.4" cy="144.9" r="1.95"/><circle cx="294.2" cy="145.4" r="1.95"/><circle cx="287.1" cy="145.8" r="1.95"/><circle cx="293.0" cy="146.6" r="1.95"/><circle cx="293.6" cy="147.2" r="1.95"/><circle cx="287.8" cy="147.6" r="1.95"/><circle cx="286.7" cy="148.2" r="1.95"/><circle cx="296.8" cy="149.1" r="1.95"/><circle cx="292.1" cy="149.5" r="1.95"/><circle cx="287.8" cy="150.0" r="1.95"/><circle cx="291.3" cy="150.7" r="1.95"/><circle cx="288.1" cy="151.1" r="1.95"/><circle cx="296.0" cy="151.9" r="1.95"/><circle cx="291.9" cy="152.4" r="1.95"/><circle cx="286.4" cy="152.7" r="1.95"/><circle cx="296.3" cy="153.6" r="1.95"/><circle cx="286.2" cy="153.8" r="1.95"/><circle cx="288.8" cy="154.5" r="1.95"/><circle cx="285.3" cy="154.9" r="1.95"/><circle cx="295.2" cy="155.8" r="1.95"/><circle cx="286.5" cy="156.0" r="1.95"/><circle cx="292.3" cy="156.8" r="1.95"/><circle cx="286.3" cy="157.1" r="1.95"/><circle cx="291.6" cy="157.8" r="1.95"/><circle cx="294.4" cy="158.5" r="1.95"/><circle cx="292.4" cy="159.0" r="1.95"/><circle cx="291.3" cy="159.5" r="1.95"/><circle cx="291.7" cy="160.1" r="1.95"/><circle cx="291.0" cy="160.6" r="1.95"/><circle cx="293.2" cy="161.2" r="1.95"/><circle cx="286.4" cy="161.6" r="1.95"/><circle cx="291.6" cy="162.3" r="1.95"/><circle cx="288.3" cy="162.8" r="1.95"/><circle cx="296.8" cy="163.6" r="1.95"/><circle cx="297.8" cy="164.2" r="1.95"/><circle cx="286.1" cy="164.4" r="1.95"/><circle cx="287.1" cy="165.0" r="1.95"/><circle cx="294.6" cy="165.8" r="1.95"/><circle cx="292.9" cy="166.3" r="1.95"/><circle cx="285.5" cy="166.6" r="1.95"/><circle cx="294.6" cy="167.5" r="1.95"/><circle cx="297.8" cy="168.2" r="1.95"/><circle cx="290.9" cy="168.5" r="1.95"/><circle cx="289.9" cy="169.1" r="1.95"/><circle cx="292.8" cy="169.8" r="1.95"/><circle cx="297.7" cy="170.5" r="1.95"/><circle cx="288.8" cy="170.8" r="1.95"/><circle cx="289.3" cy="171.4" r="1.95"/><circle cx="287.8" cy="171.9" r="1.95"/><circle cx="293.6" cy="172.7" r="1.95"/><circle cx="291.5" cy="173.2" r="1.95"/><circle cx="288.7" cy="173.7" r="1.95"/><circle cx="290.4" cy="174.3" r="1.95"/><circle cx="285.8" cy="174.8" r="1.95"/><circle cx="289.4" cy="175.5" r="1.95"/><circle cx="298.4" cy="176.3" r="1.95"/><circle cx="293.1" cy="176.7" r="1.95"/><circle cx="288.9" cy="177.2" r="1.95"/><circle cx="297.9" cy="178.0" r="1.95"/><circle cx="289.9" cy="178.3" r="1.95"/><circle cx="288.5" cy="178.8" r="1.95"/><circle cx="285.4" cy="179.3" r="1.95"/><circle cx="286.9" cy="179.9" r="1.95"/><circle cx="287.6" cy="180.4" r="1.95"/><circle cx="288.0" cy="181.0" r="1.95"/><circle cx="297.3" cy="181.8" r="1.95"/><circle cx="288.5" cy="182.1" r="1.95"/><circle cx="288.2" cy="182.6" r="1.95"/><circle cx="293.4" cy="183.2" r="1.95"/><circle cx="298.1" cy="183.9" r="1.95"/><circle cx="288.8" cy="184.1" r="1.95"/><circle cx="295.8" cy="184.9" r="1.95"/><circle cx="295.1" cy="185.3" r="1.95"/><circle cx="297.0" cy="185.8" r="1.95"/><circle cx="287.1" cy="186.0" r="1.95"/><circle cx="299.5" cy="186.7" r="1.95"/><circle cx="287.2" cy="186.8" r="1.95"/><circle cx="294.5" cy="187.4" r="1.95"/><circle cx="285.6" cy="187.6" r="1.95"/><circle cx="295.9" cy="188.2" r="1.95"/><circle cx="286.4" cy="188.4" r="1.95"/><circle cx="295.2" cy="189.0" r="1.95"/><circle cx="295.5" cy="189.4" r="1.95"/><circle cx="296.1" cy="189.9" r="1.95"/><circle cx="291.0" cy="190.2" r="1.95"/><circle cx="297.8" cy="190.7" r="1.95"/><circle cx="299.8" cy="191.1" r="1.95"/><circle cx="285.7" cy="191.2" r="1.95"/><circle cx="292.2" cy="191.8" r="1.95"/><circle cx="299.4" cy="192.3" r="1.95"/><circle cx="295.8" cy="192.6" r="1.95"/><circle cx="291.0" cy="192.9" r="1.95"/><circle cx="288.6" cy="193.3" r="1.95"/><circle cx="299.5" cy="193.8" r="1.95"/><circle cx="284.9" cy="194.0" r="1.95"/><circle cx="296.3" cy="194.6" r="1.95"/><circle cx="297.7" cy="195.0" r="1.95"/><circle cx="286.1" cy="195.1" r="1.95"/><circle cx="288.9" cy="195.6" r="1.95"/><circle cx="288.6" cy="195.9" r="1.95"/><circle cx="292.6" cy="196.4" r="1.95"/><circle cx="289.6" cy="196.7" r="1.95"/><circle cx="298.8" cy="197.2" r="1.95"/><circle cx="299.3" cy="197.6" r="1.95"/><circle cx="288.7" cy="197.8" r="1.95"/><circle cx="298.9" cy="198.3" r="1.95"/><circle cx="284.3" cy="198.4" r="1.95"/><circle cx="284.8" cy="198.8" r="1.95"/><circle cx="294.8" cy="199.3" r="1.95"/><circle cx="297.3" cy="199.7" r="1.95"/><circle cx="297.6" cy="200.1" r="1.95"/><circle cx="300.8" cy="200.5" r="1.95"/><circle cx="298.4" cy="200.8" r="1.95"/><circle cx="287.7" cy="201.0" r="1.95"/><circle cx="296.3" cy="201.5" r="1.95"/><circle cx="299.7" cy="201.9" r="1.95"/><circle cx="284.4" cy="202.0" r="1.95"/><circle cx="291.8" cy="202.5" r="1.95"/><circle cx="285.5" cy="202.7" r="1.95"/><circle cx="285.3" cy="203.1" r="1.95"/><circle cx="291.5" cy="203.5" r="1.95"/><circle cx="295.1" cy="203.9" r="1.95"/><circle cx="300.8" cy="204.3" r="1.95"/><circle cx="285.0" cy="204.5" r="1.95"/><circle cx="292.0" cy="204.9" r="1.95"/><circle cx="301.3" cy="205.4" r="1.95"/><circle cx="296.9" cy="205.6" r="1.95"/><circle cx="292.5" cy="205.9" r="1.95"/><circle cx="287.0" cy="206.2" r="1.95"/><circle cx="294.4" cy="206.6" r="1.95"/><circle cx="287.3" cy="206.8" r="1.95"/><circle cx="294.7" cy="207.3" r="1.95"/><circle cx="294.7" cy="207.6" r="1.95"/><circle cx="289.8" cy="207.9" r="1.95"/><circle cx="297.5" cy="208.3" r="1.95"/><circle cx="290.1" cy="208.6" r="1.95"/><circle cx="291.3" cy="208.9" r="1.95"/><circle cx="298.2" cy="209.4" r="1.95"/><circle cx="287.1" cy="209.5" r="1.95"/><circle cx="285.9" cy="209.9" r="1.95"/><circle cx="293.3" cy="210.3" r="1.95"/><circle cx="290.7" cy="210.6" r="1.95"/><circle cx="299.0" cy="211.0" r="1.95"/><circle cx="287.1" cy="211.2" r="1.95"/><circle cx="289.5" cy="211.6" r="1.95"/><circle cx="283.5" cy="211.8" r="1.95"/><circle cx="291.0" cy="212.3" r="1.95"/><circle cx="288.3" cy="212.6" r="1.95"/><circle cx="290.9" cy="213.0" r="1.95"/><circle cx="296.9" cy="213.4" r="1.95"/><circle cx="283.1" cy="213.5" r="1.95"/><circle cx="301.2" cy="214.1" r="1.95"/><circle cx="295.9" cy="214.4" r="1.95"/><circle cx="297.8" cy="214.8" r="1.95"/><circle cx="292.6" cy="215.0" r="1.95"/><circle cx="293.3" cy="215.4" r="1.95"/><circle cx="290.2" cy="215.7" r="1.95"/><circle cx="289.9" cy="216.0" r="1.95"/><circle cx="286.6" cy="216.3" r="1.95"/><circle cx="288.2" cy="216.7" r="1.95"/><circle cx="288.0" cy="217.0" r="1.95"/><circle cx="288.8" cy="217.3" r="1.95"/><circle cx="299.6" cy="217.8" r="1.95"/><circle cx="297.5" cy="218.2" r="1.95"/><circle cx="294.6" cy="218.5" r="1.95"/><circle cx="282.8" cy="218.6" r="1.95"/><circle cx="287.4" cy="219.0" r="1.95"/><circle cx="292.7" cy="219.5" r="1.95"/><circle cx="295.5" cy="219.8" r="1.95"/><circle cx="290.4" cy="220.1" r="1.95"/><circle cx="294.4" cy="220.5" r="1.95"/><circle cx="299.5" cy="220.9" r="1.95"/><circle cx="287.6" cy="221.1" r="1.95"/><circle cx="289.7" cy="221.5" r="1.95"/><circle cx="296.8" cy="221.9" r="1.95"/><circle cx="288.5" cy="222.1" r="1.95"/><circle cx="296.0" cy="222.6" r="1.95"/><circle cx="290.0" cy="222.9" r="1.95"/><circle cx="282.9" cy="223.1" r="1.95"/><circle cx="291.2" cy="223.6" r="1.95"/><circle cx="283.9" cy="223.8" r="1.95"/><circle cx="297.2" cy="224.3" r="1.95"/><circle cx="298.3" cy="224.7" r="1.95"/><circle cx="292.4" cy="225.0" r="1.95"/><circle cx="299.2" cy="225.4" r="1.95"/><circle cx="286.7" cy="225.6" r="1.95"/><circle cx="290.9" cy="226.0" r="1.95"/><circle cx="286.0" cy="226.3" r="1.95"/><circle cx="283.8" cy="226.6" r="1.95"/><circle cx="297.7" cy="227.2" r="1.95"/><circle cx="283.9" cy="227.3" r="1.95"/><circle cx="299.6" cy="227.9" r="1.95"/><circle cx="292.9" cy="228.2" r="1.95"/><circle cx="295.4" cy="228.6" r="1.95"/><circle cx="284.1" cy="228.8" r="1.95"/><circle cx="298.9" cy="229.4" r="1.95"/><circle cx="296.9" cy="229.7" r="1.95"/><circle cx="285.1" cy="229.9" r="1.95"/><circle cx="286.5" cy="230.3" r="1.95"/><circle cx="285.8" cy="230.7" r="1.95"/><circle cx="292.0" cy="231.2" r="1.95"/><circle cx="284.9" cy="231.4" r="1.95"/><circle cx="296.8" cy="232.0" r="1.95"/><circle cx="291.8" cy="232.3" r="1.95"/><circle cx="295.2" cy="232.8" r="1.95"/><circle cx="287.9" cy="233.0" r="1.95"/><circle cx="294.4" cy="233.5" r="1.95"/><circle cx="291.2" cy="233.9" r="1.95"/><circle cx="294.3" cy="234.3" r="1.95"/><circle cx="290.5" cy="234.7" r="1.95"/><circle cx="299.6" cy="235.3" r="1.95"/><circle cx="297.3" cy="235.6" r="1.95"/><circle cx="297.1" cy="236.0" r="1.95"/><circle cx="289.4" cy="236.3" r="1.95"/><circle cx="287.2" cy="236.7" r="1.95"/><circle cx="286.6" cy="237.1" r="1.95"/><circle cx="286.3" cy="237.5" r="1.95"/><circle cx="298.9" cy="238.2" r="1.95"/><circle cx="288.6" cy="238.4" r="1.95"/><circle cx="297.4" cy="239.0" r="1.95"/><circle cx="288.0" cy="239.2" r="1.95"/><circle cx="293.6" cy="239.8" r="1.95"/><circle cx="288.3" cy="240.1" r="1.95"/><circle cx="289.1" cy="240.6" r="1.95"/><circle cx="295.4" cy="241.2" r="1.95"/><circle cx="293.4" cy="241.6" r="1.95"/><circle cx="298.1" cy="242.2" r="1.95"/><circle cx="288.3" cy="242.4" r="1.95"/><circle cx="288.8" cy="242.9" r="1.95"/><circle cx="286.0" cy="243.3" r="1.95"/><circle cx="288.1" cy="243.8" r="1.95"/><circle cx="298.1" cy="244.6" r="1.95"/><circle cx="292.7" cy="244.9" r="1.95"/><circle cx="291.6" cy="245.4" r="1.95"/><circle cx="289.9" cy="245.9" r="1.95"/><circle cx="295.0" cy="246.6" r="1.95"/><circle cx="294.1" cy="247.1" r="1.95"/><circle cx="287.9" cy="247.4" r="1.95"/><circle cx="286.7" cy="247.9" r="1.95"/><circle cx="288.2" cy="248.5" r="1.95"/><circle cx="295.3" cy="249.4" r="1.95"/><circle cx="294.4" cy="250.0" r="1.95"/><circle cx="289.0" cy="250.3" r="1.95"/><circle cx="289.2" cy="251.0" r="1.95"/><circle cx="290.0" cy="251.6" r="1.95"/><circle cx="293.6" cy="252.5" r="1.95"/><circle cx="294.2" cy="253.2" r="1.95"/><circle cx="289.5" cy="253.6" r="1.95"/><circle cx="290.5" cy="254.4" r="1.95"/><circle cx="290.0" cy="255.2" r="1.95"/><circle cx="294.2" cy="256.8" r="1.95"/><circle cx="291.0" cy="259.4" r="1.95"/></g>
<g fill="#da8494"><circle cx="86.6" cy="356.0" r="1.95"/><circle cx="89.3" cy="360.7" r="1.95"/><circle cx="84.8" cy="361.0" r="1.95"/><circle cx="89.1" cy="362.9" r="1.95"/><circle cx="84.1" cy="363.4" r="1.95"/><circle cx="93.2" cy="364.5" r="1.95"/><circle cx="81.1" cy="364.6" r="1.95"/><circle cx="92.9" cy="365.5" r="1.95"/><circle cx="90.2" cy="365.9" r="1.95"/><circle cx="94.5" cy="366.3" r="1.95"/><circle cx="99.1" cy="366.7" r="1.95"/><circle cx="80.8" cy="366.8" r="1.95"/><circle cx="82.8" cy="367.1" r="1.95"/><circle cx="93.5" cy="367.4" r="1.95"/><circle cx="80.3" cy="367.5" r="1.95"/><circle cx="79.2" cy="367.8" r="1.95"/><circle cx="77.6" cy="368.0" r="1.95"/><circle cx="100.4" cy="368.3" r="1.95"/><circle cx="101.3" cy="368.5" r="1.95"/><circle cx="98.6" cy="368.6" r="1.95"/><circle cx="76.5" cy="368.7" r="1.95"/><circle cx="104.1" cy="369.0" r="1.95"/><circle cx="87.7" cy="369.1" r="1.95"/><circle cx="76.3" cy="369.3" r="1.95"/><circle cx="85.4" cy="369.5" r="1.95"/><circle cx="83.8" cy="369.6" r="1.95"/><circle cx="69.2" cy="369.8" r="1.95"/><circle cx="90.0" cy="370.0" r="1.95"/><circle cx="81.0" cy="370.1" r="1.95"/><circle cx="90.2" cy="370.3" r="1.95"/><circle cx="105.9" cy="370.5" r="1.95"/><circle cx="93.5" cy="370.7" r="1.95"/><circle cx="83.1" cy="370.8" r="1.95"/><circle cx="102.7" cy="371.0" r="1.95"/><circle cx="108.2" cy="371.2" r="1.95"/><circle cx="86.8" cy="371.3" r="1.95"/><circle cx="105.9" cy="371.5" r="1.95"/><circle cx="67.0" cy="371.6" r="1.95"/><circle cx="72.2" cy="371.8" r="1.95"/><circle cx="73.6" cy="371.9" r="1.95"/><circle cx="105.2" cy="372.2" r="1.95"/><circle cx="95.0" cy="372.4" r="1.95"/><circle cx="96.1" cy="372.5" r="1.95"/><circle cx="78.6" cy="372.7" r="1.95"/><circle cx="87.0" cy="372.9" r="1.95"/><circle cx="102.6" cy="373.1" r="1.95"/><circle cx="71.3" cy="373.2" r="1.95"/><circle cx="72.1" cy="373.3" r="1.95"/><circle cx="69.5" cy="373.5" r="1.95"/><circle cx="86.0" cy="373.8" r="1.95"/><circle cx="100.3" cy="374.0" r="1.95"/><circle cx="89.3" cy="374.1" r="1.95"/><circle cx="83.5" cy="374.3" r="1.95"/><circle cx="87.3" cy="374.5" r="1.95"/><circle cx="75.1" cy="374.7" r="1.95"/><circle cx="104.1" cy="375.0" r="1.95"/><circle cx="81.7" cy="375.1" r="1.95"/><circle cx="77.3" cy="375.2" r="1.95"/><circle cx="80.1" cy="375.4" r="1.95"/><circle cx="99.3" cy="375.7" r="1.95"/><circle cx="80.4" cy="375.8" r="1.95"/><circle cx="102.2" cy="376.1" r="1.95"/><circle cx="81.1" cy="376.2" r="1.95"/><circle cx="85.0" cy="376.4" r="1.95"/><circle cx="71.5" cy="376.6" r="1.95"/><circle cx="102.2" cy="376.9" r="1.95"/><circle cx="98.0" cy="377.1" r="1.95"/><circle cx="86.3" cy="377.2" r="1.95"/><circle cx="73.2" cy="377.3" r="1.95"/><circle cx="86.9" cy="377.6" r="1.95"/><circle cx="82.7" cy="377.8" r="1.95"/><circle cx="99.5" cy="378.0" r="1.95"/><circle cx="102.6" cy="378.3" r="1.95"/><circle cx="95.9" cy="378.4" r="1.95"/><circle cx="79.6" cy="378.5" r="1.95"/><circle cx="70.8" cy="378.7" r="1.95"/><circle cx="101.2" cy="379.0" r="1.95"/><circle cx="103.0" cy="379.3" r="1.95"/><circle cx="75.1" cy="379.3" r="1.95"/><circle cx="87.2" cy="379.6" r="1.95"/><circle cx="86.5" cy="379.8" r="1.95"/><circle cx="103.5" cy="380.1" r="1.95"/><circle cx="71.6" cy="380.1" r="1.95"/><circle cx="72.6" cy="380.3" r="1.95"/><circle cx="98.3" cy="380.7" r="1.95"/><circle cx="89.4" cy="380.9" r="1.95"/><circle cx="86.0" cy="381.1" r="1.95"/><circle cx="95.4" cy="381.4" r="1.95"/><circle cx="89.9" cy="381.6" r="1.95"/><circle cx="92.6" cy="381.9" r="1.95"/><circle cx="80.5" cy="382.0" r="1.95"/><circle cx="76.1" cy="382.2" r="1.95"/><circle cx="74.6" cy="382.5" r="1.95"/><circle cx="83.1" cy="382.9" r="1.95"/><circle cx="90.6" cy="383.2" r="1.95"/><circle cx="84.5" cy="383.5" r="1.95"/><circle cx="83.9" cy="383.8" r="1.95"/><circle cx="89.7" cy="384.2" r="1.95"/><circle cx="91.5" cy="384.6" r="1.95"/><circle cx="89.2" cy="384.9" r="1.95"/><circle cx="83.4" cy="385.2" r="1.95"/><circle cx="93.5" cy="385.7" r="1.95"/><circle cx="93.0" cy="386.0" r="1.95"/><circle cx="94.6" cy="386.4" r="1.95"/><circle cx="94.4" cy="386.8" r="1.95"/><circle cx="78.3" cy="386.9" r="1.95"/><circle cx="90.2" cy="387.5" r="1.95"/><circle cx="84.6" cy="387.8" r="1.95"/><circle cx="85.3" cy="388.3" r="1.95"/><circle cx="87.5" cy="388.7" r="1.95"/><circle cx="81.5" cy="389.1" r="1.95"/><circle cx="83.2" cy="389.5" r="1.95"/><circle cx="95.0" cy="390.2" r="1.95"/><circle cx="84.5" cy="390.5" r="1.95"/><circle cx="93.8" cy="391.1" r="1.95"/><circle cx="90.2" cy="391.5" r="1.95"/><circle cx="84.2" cy="391.8" r="1.95"/><circle cx="84.3" cy="392.2" r="1.95"/><circle cx="88.9" cy="392.8" r="1.95"/><circle cx="90.4" cy="393.3" r="1.95"/><circle cx="84.6" cy="393.6" r="1.95"/><circle cx="80.1" cy="393.9" r="1.95"/><circle cx="82.0" cy="394.4" r="1.95"/><circle cx="93.0" cy="395.1" r="1.95"/><circle cx="90.9" cy="395.5" r="1.95"/><circle cx="80.9" cy="395.7" r="1.95"/><circle cx="92.5" cy="396.4" r="1.95"/><circle cx="88.4" cy="396.8" r="1.95"/><circle cx="84.7" cy="397.2" r="1.95"/><circle cx="93.1" cy="397.9" r="1.95"/><circle cx="81.7" cy="398.0" r="1.95"/><circle cx="81.4" cy="398.5" r="1.95"/><circle cx="85.0" cy="399.1" r="1.95"/><circle cx="90.5" cy="399.8" r="1.95"/><circle cx="87.8" cy="400.2" r="1.95"/><circle cx="87.0" cy="400.7" r="1.95"/><circle cx="92.3" cy="401.5" r="1.95"/><circle cx="85.9" cy="401.8" r="1.95"/><circle cx="90.6" cy="402.6" r="1.95"/><circle cx="81.3" cy="402.8" r="1.95"/><circle cx="90.4" cy="403.8" r="1.95"/><circle cx="83.3" cy="404.1" r="1.95"/><circle cx="88.9" cy="405.0" r="1.95"/><circle cx="90.9" cy="405.8" r="1.95"/><circle cx="88.8" cy="406.4" r="1.95"/><circle cx="88.0" cy="407.0" r="1.95"/><circle cx="87.7" cy="407.7" r="1.95"/><circle cx="86.2" cy="410.6" r="1.95"/><circle cx="91.1" cy="412.5" r="1.95"/><circle cx="90.5" cy="413.7" r="1.95"/><circle cx="84.4" cy="414.3" r="1.95"/><circle cx="91.2" cy="416.0" r="1.95"/><circle cx="88.7" cy="416.9" r="1.95"/><circle cx="82.0" cy="417.4" r="1.95"/><circle cx="92.7" cy="419.2" r="1.95"/><circle cx="84.2" cy="419.6" r="1.95"/><circle cx="84.7" cy="420.6" r="1.95"/><circle cx="86.2" cy="421.5" r="1.95"/><circle cx="88.3" cy="422.6" r="1.95"/><circle cx="82.4" cy="423.1" r="1.95"/><circle cx="89.6" cy="424.5" r="1.95"/><circle cx="91.4" cy="425.5" r="1.95"/><circle cx="87.4" cy="426.2" r="1.95"/><circle cx="90.9" cy="427.3" r="1.95"/><circle cx="88.8" cy="428.1" r="1.95"/><circle cx="91.2" cy="429.2" r="1.95"/><circle cx="83.2" cy="429.7" r="1.95"/><circle cx="85.5" cy="430.8" r="1.95"/><circle cx="86.8" cy="431.8" r="1.95"/><circle cx="82.4" cy="432.5" r="1.95"/><circle cx="92.9" cy="434.1" r="1.95"/><circle cx="88.8" cy="434.9" r="1.95"/><circle cx="82.4" cy="435.4" r="1.95"/><circle cx="88.2" cy="436.8" r="1.95"/><circle cx="86.1" cy="437.6" r="1.95"/><circle cx="83.4" cy="438.4" r="1.95"/><circle cx="83.0" cy="439.3" r="1.95"/><circle cx="86.7" cy="440.5" r="1.95"/><circle cx="81.8" cy="441.1" r="1.95"/><circle cx="88.0" cy="442.4" r="1.95"/><circle cx="87.4" cy="443.2" r="1.95"/><circle cx="82.4" cy="443.9" r="1.95"/><circle cx="92.1" cy="445.3" r="1.95"/><circle cx="81.1" cy="445.6" r="1.95"/><circle cx="82.8" cy="446.6" r="1.95"/><circle cx="91.5" cy="447.9" r="1.95"/><circle cx="83.4" cy="448.4" r="1.95"/><circle cx="86.2" cy="449.4" r="1.95"/><circle cx="88.0" cy="450.3" r="1.95"/><circle cx="86.3" cy="451.1" r="1.95"/><circle cx="87.1" cy="452.0" r="1.95"/><circle cx="87.3" cy="452.8" r="1.95"/><circle cx="87.0" cy="453.7" r="1.95"/><circle cx="81.0" cy="454.2" r="1.95"/><circle cx="91.6" cy="455.6" r="1.95"/><circle cx="84.2" cy="456.1" r="1.95"/><circle cx="81.0" cy="456.8" r="1.95"/><circle cx="85.9" cy="457.9" r="1.95"/><circle cx="91.5" cy="459.0" r="1.95"/><circle cx="89.0" cy="459.7" r="1.95"/><circle cx="86.6" cy="460.5" r="1.95"/><circle cx="86.9" cy="461.3" r="1.95"/><circle cx="83.4" cy="462.0" r="1.95"/><circle cx="88.8" cy="463.2" r="1.95"/><circle cx="85.2" cy="463.9" r="1.95"/><circle cx="81.4" cy="464.6" r="1.95"/><circle cx="82.3" cy="465.5" r="1.95"/><circle cx="81.8" cy="466.3" r="1.95"/><circle cx="89.6" cy="467.7" r="1.95"/><circle cx="92.2" cy="468.7" r="1.95"/><circle cx="90.5" cy="469.5" r="1.95"/><circle cx="83.6" cy="470.0" r="1.95"/><circle cx="82.7" cy="470.9" r="1.95"/><circle cx="92.6" cy="472.4" r="1.95"/><circle cx="85.7" cy="473.0" r="1.95"/><circle cx="83.4" cy="473.8" r="1.95"/><circle cx="88.0" cy="475.2" r="1.95"/><circle cx="88.4" cy="476.4" r="1.95"/><circle cx="87.6" cy="477.5" r="1.95"/><circle cx="86.8" cy="478.7" r="1.95"/><circle cx="85.8" cy="480.1" r="1.95"/><circle cx="87.2" cy="482.3" r="1.95"/><circle cx="87.0" cy="484.5" r="1.95"/><circle cx="88.0" cy="501.7" r="1.95"/><circle cx="87.0" cy="514.8" r="1.95"/><circle cx="87.5" cy="517.5" r="1.95"/><circle cx="87.0" cy="520.3" r="1.95"/></g>
<g fill="#bfbfbf"><circle cx="133.4" cy="442.3" r="1.95"/><circle cx="132.1" cy="446.3" r="1.95"/><circle cx="132.9" cy="447.0" r="1.95"/><circle cx="132.4" cy="447.5" r="1.95"/><circle cx="132.6" cy="448.2" r="1.95"/><circle cx="132.4" cy="448.8" r="1.95"/><circle cx="134.1" cy="449.5" r="1.95"/><circle cx="131.3" cy="449.9" r="1.95"/><circle cx="134.0" cy="450.6" r="1.95"/><circle cx="129.4" cy="450.9" r="1.95"/><circle cx="131.5" cy="451.6" r="1.95"/><circle cx="131.8" cy="452.2" r="1.95"/><circle cx="130.3" cy="452.7" r="1.95"/><circle cx="134.9" cy="453.5" r="1.95"/><circle cx="131.5" cy="453.8" r="1.95"/><circle cx="135.3" cy="454.5" r="1.95"/><circle cx="136.7" cy="455.1" r="1.95"/><circle cx="131.0" cy="455.4" r="1.95"/><circle cx="136.2" cy="456.1" r="1.95"/><circle cx="135.5" cy="456.6" r="1.95"/><circle cx="134.4" cy="457.1" r="1.95"/><circle cx="129.2" cy="457.3" r="1.95"/><circle cx="132.6" cy="458.0" r="1.95"/><circle cx="134.0" cy="458.6" r="1.95"/><circle cx="131.3" cy="459.0" r="1.95"/><circle cx="130.7" cy="459.5" r="1.95"/><circle cx="131.4" cy="460.0" r="1.95"/><circle cx="131.0" cy="460.5" r="1.95"/><circle cx="135.4" cy="461.2" r="1.95"/><circle cx="131.7" cy="461.5" r="1.95"/><circle cx="132.4" cy="462.1" r="1.95"/><circle cx="134.2" cy="462.7" r="1.95"/><circle cx="136.7" cy="463.3" r="1.95"/><circle cx="131.3" cy="463.5" r="1.95"/><circle cx="129.2" cy="463.9" r="1.95"/><circle cx="137.0" cy="464.8" r="1.95"/><circle cx="135.8" cy="465.2" r="1.95"/><circle cx="135.5" cy="465.7" r="1.95"/><circle cx="133.2" cy="466.1" r="1.95"/><circle cx="130.7" cy="466.4" r="1.95"/><circle cx="130.0" cy="466.9" r="1.95"/><circle cx="131.3" cy="467.4" r="1.95"/><circle cx="132.7" cy="468.0" r="1.95"/><circle cx="129.2" cy="468.3" r="1.95"/><circle cx="134.7" cy="469.0" r="1.95"/><circle cx="135.0" cy="469.5" r="1.95"/><circle cx="128.7" cy="469.7" r="1.95"/><circle cx="136.0" cy="470.5" r="1.95"/><circle cx="132.9" cy="470.8" r="1.95"/><circle cx="136.7" cy="471.5" r="1.95"/><circle cx="132.8" cy="471.8" r="1.95"/><circle cx="137.5" cy="473.3" r="1.95"/><circle cx="127.3" cy="473.4" r="1.95"/><circle cx="126.5" cy="473.8" r="1.95"/><circle cx="135.5" cy="474.1" r="1.95"/><circle cx="121.6" cy="474.2" r="1.95"/><circle cx="141.1" cy="474.6" r="1.95"/><circle cx="141.2" cy="474.8" r="1.95"/><circle cx="118.6" cy="474.9" r="1.95"/><circle cx="139.2" cy="475.2" r="1.95"/><circle cx="133.1" cy="475.3" r="1.95"/><circle cx="138.0" cy="475.5" r="1.95"/><circle cx="150.6" cy="475.7" r="1.95"/><circle cx="152.5" cy="475.9" r="1.95"/><circle cx="129.3" cy="476.0" r="1.95"/><circle cx="147.7" cy="476.2" r="1.95"/><circle cx="145.6" cy="476.3" r="1.95"/><circle cx="154.3" cy="476.5" r="1.95"/><circle cx="111.5" cy="476.5" r="1.95"/><circle cx="153.8" cy="476.7" r="1.95"/><circle cx="119.7" cy="476.8" r="1.95"/><circle cx="114.8" cy="476.9" r="1.95"/><circle cx="137.9" cy="477.1" r="1.95"/><circle cx="150.1" cy="477.2" r="1.95"/><circle cx="156.2" cy="477.4" r="1.95"/><circle cx="126.1" cy="477.4" r="1.95"/><circle cx="149.9" cy="477.6" r="1.95"/><circle cx="108.8" cy="477.6" r="1.95"/><circle cx="157.4" cy="477.9" r="1.95"/><circle cx="122.2" cy="477.9" r="1.95"/><circle cx="135.3" cy="478.1" r="1.95"/><circle cx="113.2" cy="478.1" r="1.95"/><circle cx="108.8" cy="478.2" r="1.95"/><circle cx="106.7" cy="478.4" r="1.95"/><circle cx="138.4" cy="478.5" r="1.95"/><circle cx="136.3" cy="478.6" r="1.95"/><circle cx="150.2" cy="478.8" r="1.95"/><circle cx="152.2" cy="478.9" r="1.95"/><circle cx="128.8" cy="479.0" r="1.95"/><circle cx="152.2" cy="479.1" r="1.95"/><circle cx="116.4" cy="479.2" r="1.95"/><circle cx="154.3" cy="479.4" r="1.95"/><circle cx="119.0" cy="479.4" r="1.95"/><circle cx="157.8" cy="479.6" r="1.95"/><circle cx="126.5" cy="479.6" r="1.95"/><circle cx="128.9" cy="479.8" r="1.95"/><circle cx="134.0" cy="479.9" r="1.95"/><circle cx="107.7" cy="479.9" r="1.95"/><circle cx="108.5" cy="480.1" r="1.95"/><circle cx="135.6" cy="480.2" r="1.95"/><circle cx="145.5" cy="480.3" r="1.95"/><circle cx="106.4" cy="480.4" r="1.95"/><circle cx="127.5" cy="480.5" r="1.95"/><circle cx="125.3" cy="480.6" r="1.95"/><circle cx="149.7" cy="480.8" r="1.95"/><circle cx="162.2" cy="480.9" r="1.95"/><circle cx="108.5" cy="480.9" r="1.95"/><circle cx="135.6" cy="481.0" r="1.95"/><circle cx="109.2" cy="481.1" r="1.95"/><circle cx="150.2" cy="481.3" r="1.95"/><circle cx="159.8" cy="481.4" r="1.95"/><circle cx="145.6" cy="481.5" r="1.95"/><circle cx="138.0" cy="481.6" r="1.95"/><circle cx="104.9" cy="481.6" r="1.95"/><circle cx="108.2" cy="481.7" r="1.95"/><circle cx="117.0" cy="481.8" r="1.95"/><circle cx="107.2" cy="481.9" r="1.95"/><circle cx="110.3" cy="482.0" r="1.95"/><circle cx="161.6" cy="482.2" r="1.95"/><circle cx="123.5" cy="482.3" r="1.95"/><circle cx="158.5" cy="482.4" r="1.95"/><circle cx="149.4" cy="482.5" r="1.95"/><circle cx="150.4" cy="482.6" r="1.95"/><circle cx="159.1" cy="482.7" r="1.95"/><circle cx="145.6" cy="482.8" r="1.95"/><circle cx="123.3" cy="482.8" r="1.95"/><circle cx="131.1" cy="483.0" r="1.95"/><circle cx="126.0" cy="483.0" r="1.95"/><circle cx="103.0" cy="483.1" r="1.95"/><circle cx="103.6" cy="483.2" r="1.95"/><circle cx="137.4" cy="483.3" r="1.95"/><circle cx="134.5" cy="483.4" r="1.95"/><circle cx="163.8" cy="483.6" r="1.95"/><circle cx="140.9" cy="483.6" r="1.95"/><circle cx="153.8" cy="483.7" r="1.95"/><circle cx="131.5" cy="483.8" r="1.95"/><circle cx="138.4" cy="483.9" r="1.95"/><circle cx="153.8" cy="484.0" r="1.95"/><circle cx="102.2" cy="484.1" r="1.95"/><circle cx="101.1" cy="484.2" r="1.95"/><circle cx="128.3" cy="484.3" r="1.95"/><circle cx="119.1" cy="484.4" r="1.95"/><circle cx="128.2" cy="484.5" r="1.95"/><circle cx="103.8" cy="484.5" r="1.95"/><circle cx="110.7" cy="484.6" r="1.95"/><circle cx="105.9" cy="484.7" r="1.95"/><circle cx="140.4" cy="484.9" r="1.95"/><circle cx="101.3" cy="484.9" r="1.95"/><circle cx="100.4" cy="485.0" r="1.95"/><circle cx="145.3" cy="485.1" r="1.95"/><circle cx="127.8" cy="485.2" r="1.95"/><circle cx="100.3" cy="485.3" r="1.95"/><circle cx="163.3" cy="485.4" r="1.95"/><circle cx="132.4" cy="485.5" r="1.95"/><circle cx="163.2" cy="485.6" r="1.95"/><circle cx="143.3" cy="485.7" r="1.95"/><circle cx="136.3" cy="485.8" r="1.95"/><circle cx="125.7" cy="485.8" r="1.95"/><circle cx="105.1" cy="485.9" r="1.95"/><circle cx="165.6" cy="486.1" r="1.95"/><circle cx="128.8" cy="486.1" r="1.95"/><circle cx="119.5" cy="486.2" r="1.95"/><circle cx="108.3" cy="486.3" r="1.95"/><circle cx="139.7" cy="486.4" r="1.95"/><circle cx="166.6" cy="486.5" r="1.95"/><circle cx="126.2" cy="486.6" r="1.95"/><circle cx="154.3" cy="486.7" r="1.95"/><circle cx="146.9" cy="486.8" r="1.95"/><circle cx="134.0" cy="486.8" r="1.95"/><circle cx="143.6" cy="486.9" r="1.95"/><circle cx="149.1" cy="487.0" r="1.95"/><circle cx="162.6" cy="487.1" r="1.95"/><circle cx="101.5" cy="487.2" r="1.95"/><circle cx="108.4" cy="487.3" r="1.95"/><circle cx="115.2" cy="487.4" r="1.95"/><circle cx="103.2" cy="487.4" r="1.95"/><circle cx="117.9" cy="487.5" r="1.95"/><circle cx="128.6" cy="487.6" r="1.95"/><circle cx="113.7" cy="487.7" r="1.95"/><circle cx="133.0" cy="487.8" r="1.95"/><circle cx="99.2" cy="487.9" r="1.95"/><circle cx="161.3" cy="488.0" r="1.95"/><circle cx="147.7" cy="488.1" r="1.95"/><circle cx="105.9" cy="488.2" r="1.95"/><circle cx="113.4" cy="488.3" r="1.95"/><circle cx="150.5" cy="488.4" r="1.95"/><circle cx="108.7" cy="488.4" r="1.95"/><circle cx="148.9" cy="488.6" r="1.95"/><circle cx="101.6" cy="488.6" r="1.95"/><circle cx="141.3" cy="488.8" r="1.95"/><circle cx="145.2" cy="488.8" r="1.95"/><circle cx="135.8" cy="488.9" r="1.95"/><circle cx="152.9" cy="489.0" r="1.95"/><circle cx="162.7" cy="489.1" r="1.95"/><circle cx="165.7" cy="489.2" r="1.95"/><circle cx="102.9" cy="489.3" r="1.95"/><circle cx="132.0" cy="489.4" r="1.95"/><circle cx="107.2" cy="489.5" r="1.95"/><circle cx="149.4" cy="489.6" r="1.95"/><circle cx="113.3" cy="489.6" r="1.95"/><circle cx="110.7" cy="489.7" r="1.95"/><circle cx="103.5" cy="489.8" r="1.95"/><circle cx="100.6" cy="489.9" r="1.95"/><circle cx="117.1" cy="490.0" r="1.95"/><circle cx="112.7" cy="490.1" r="1.95"/><circle cx="134.6" cy="490.2" r="1.95"/><circle cx="154.3" cy="490.3" r="1.95"/><circle cx="147.7" cy="490.4" r="1.95"/><circle cx="121.3" cy="490.5" r="1.95"/><circle cx="116.8" cy="490.6" r="1.95"/><circle cx="151.5" cy="490.7" r="1.95"/><circle cx="118.1" cy="490.8" r="1.95"/><circle cx="142.8" cy="490.9" r="1.95"/><circle cx="164.1" cy="491.0" r="1.95"/><circle cx="138.3" cy="491.1" r="1.95"/><circle cx="131.2" cy="491.2" r="1.95"/><circle cx="103.6" cy="491.2" r="1.95"/><circle cx="117.6" cy="491.3" r="1.95"/><circle cx="161.8" cy="491.5" r="1.95"/><circle cx="104.6" cy="491.5" r="1.95"/><circle cx="104.6" cy="491.6" r="1.95"/><circle cx="139.5" cy="491.8" r="1.95"/><circle cx="120.9" cy="491.8" r="1.95"/><circle cx="139.1" cy="492.0" r="1.95"/><circle cx="116.4" cy="492.0" r="1.95"/><circle cx="115.7" cy="492.1" r="1.95"/><circle cx="117.8" cy="492.2" r="1.95"/><circle cx="146.0" cy="492.4" r="1.95"/><circle cx="144.7" cy="492.5" r="1.95"/><circle cx="104.7" cy="492.5" r="1.95"/><circle cx="145.4" cy="492.7" r="1.95"/><circle cx="148.5" cy="492.8" r="1.95"/><circle cx="131.1" cy="492.9" r="1.95"/><circle cx="109.4" cy="493.0" r="1.95"/><circle cx="104.9" cy="493.1" r="1.95"/><circle cx="160.4" cy="493.2" r="1.95"/><circle cx="110.2" cy="493.3" r="1.95"/><circle cx="104.8" cy="493.4" r="1.95"/><circle cx="108.3" cy="493.5" r="1.95"/><circle cx="155.6" cy="493.7" r="1.95"/><circle cx="160.3" cy="493.8" r="1.95"/><circle cx="147.2" cy="493.9" r="1.95"/><circle cx="156.7" cy="494.0" r="1.95"/><circle cx="149.6" cy="494.1" r="1.95"/><circle cx="110.2" cy="494.2" r="1.95"/><circle cx="126.6" cy="494.3" r="1.95"/><circle cx="140.4" cy="494.5" r="1.95"/><circle cx="142.8" cy="494.6" r="1.95"/><circle cx="146.5" cy="494.7" r="1.95"/><circle cx="142.8" cy="494.8" r="1.95"/><circle cx="113.8" cy="494.9" r="1.95"/><circle cx="127.8" cy="495.1" r="1.95"/><circle cx="154.3" cy="495.2" r="1.95"/><circle cx="139.7" cy="495.3" r="1.95"/><circle cx="118.9" cy="495.4" r="1.95"/><circle cx="129.4" cy="495.6" r="1.95"/><circle cx="151.6" cy="495.8" r="1.95"/><circle cx="123.4" cy="495.9" r="1.95"/><circle cx="117.6" cy="496.0" r="1.95"/><circle cx="144.2" cy="496.3" r="1.95"/><circle cx="138.1" cy="496.4" r="1.95"/><circle cx="128.8" cy="496.6" r="1.95"/><circle cx="132.0" cy="496.8" r="1.95"/><circle cx="126.5" cy="497.0" r="1.95"/><circle cx="137.7" cy="497.3" r="1.95"/><circle cx="128.6" cy="497.5" r="1.95"/><circle cx="133.9" cy="497.8" r="1.95"/><circle cx="132.0" cy="500.5" r="1.95"/><circle cx="131.8" cy="504.7" r="1.95"/></g>
<g fill="#fdbb7e"><circle cx="248.0" cy="330.6" r="1.95"/><circle cx="247.5" cy="343.8" r="1.95"/><circle cx="244.5" cy="350.5" r="1.95"/><circle cx="247.5" cy="351.5" r="1.95"/><circle cx="250.5" cy="350.0" r="1.95"/><circle cx="252.5" cy="352.5" r="1.95"/><circle cx="245.5" cy="356.0" r="1.95"/><circle cx="249.0" cy="356.5" r="1.95"/><circle cx="248.2" cy="365.9" r="1.95"/><circle cx="250.5" cy="367.7" r="1.95"/><circle cx="252.1" cy="369.2" r="1.95"/><circle cx="246.1" cy="369.8" r="1.95"/><circle cx="250.6" cy="371.4" r="1.95"/><circle cx="250.0" cy="372.5" r="1.95"/><circle cx="249.5" cy="373.7" r="1.95"/><circle cx="244.7" cy="374.4" r="1.95"/><circle cx="244.3" cy="375.7" r="1.95"/><circle cx="247.2" cy="377.7" r="1.95"/><circle cx="249.1" cy="380.2" r="1.95"/><circle cx="244.8" cy="388.2" r="1.95"/><circle cx="249.8" cy="389.6" r="1.95"/><circle cx="246.1" cy="390.2" r="1.95"/><circle cx="244.4" cy="391.0" r="1.95"/><circle cx="247.9" cy="392.0" r="1.95"/><circle cx="247.9" cy="392.8" r="1.95"/><circle cx="247.7" cy="393.5" r="1.95"/><circle cx="247.5" cy="394.3" r="1.95"/><circle cx="244.9" cy="395.0" r="1.95"/><circle cx="244.8" cy="395.7" r="1.95"/><circle cx="250.6" cy="396.7" r="1.95"/><circle cx="245.6" cy="397.3" r="1.95"/><circle cx="250.4" cy="398.2" r="1.95"/><circle cx="251.9" cy="399.0" r="1.95"/><circle cx="253.0" cy="399.8" r="1.95"/><circle cx="254.2" cy="400.6" r="1.95"/><circle cx="244.3" cy="400.9" r="1.95"/><circle cx="244.3" cy="401.6" r="1.95"/><circle cx="251.3" cy="402.6" r="1.95"/><circle cx="249.1" cy="403.2" r="1.95"/><circle cx="243.7" cy="403.7" r="1.95"/><circle cx="250.6" cy="404.6" r="1.95"/><circle cx="253.5" cy="405.4" r="1.95"/><circle cx="253.0" cy="406.1" r="1.95"/><circle cx="243.8" cy="406.4" r="1.95"/><circle cx="245.0" cy="407.1" r="1.95"/><circle cx="240.6" cy="407.6" r="1.95"/><circle cx="255.2" cy="408.8" r="1.95"/><circle cx="243.7" cy="409.1" r="1.95"/><circle cx="251.5" cy="410.0" r="1.95"/><circle cx="248.6" cy="410.6" r="1.95"/><circle cx="249.5" cy="411.2" r="1.95"/><circle cx="248.4" cy="411.8" r="1.95"/><circle cx="253.1" cy="412.6" r="1.95"/><circle cx="249.6" cy="413.1" r="1.95"/><circle cx="244.9" cy="413.6" r="1.95"/><circle cx="241.8" cy="414.1" r="1.95"/><circle cx="247.6" cy="414.9" r="1.95"/><circle cx="254.9" cy="415.8" r="1.95"/><circle cx="242.2" cy="416.0" r="1.95"/><circle cx="251.0" cy="416.9" r="1.95"/><circle cx="250.2" cy="417.5" r="1.95"/><circle cx="242.3" cy="417.8" r="1.95"/><circle cx="243.1" cy="418.5" r="1.95"/><circle cx="251.1" cy="419.3" r="1.95"/><circle cx="246.9" cy="419.7" r="1.95"/><circle cx="246.4" cy="420.3" r="1.95"/><circle cx="247.7" cy="420.9" r="1.95"/><circle cx="241.1" cy="421.3" r="1.95"/><circle cx="251.6" cy="422.2" r="1.95"/><circle cx="249.5" cy="422.7" r="1.95"/><circle cx="248.6" cy="423.3" r="1.95"/><circle cx="245.2" cy="423.7" r="1.95"/><circle cx="253.5" cy="424.5" r="1.95"/><circle cx="253.8" cy="425.1" r="1.95"/><circle cx="248.8" cy="425.5" r="1.95"/><circle cx="240.6" cy="425.9" r="1.95"/><circle cx="241.6" cy="426.5" r="1.95"/><circle cx="241.7" cy="427.0" r="1.95"/><circle cx="240.3" cy="427.5" r="1.95"/><circle cx="250.7" cy="428.3" r="1.95"/><circle cx="248.8" cy="428.8" r="1.95"/><circle cx="242.5" cy="429.2" r="1.95"/><circle cx="255.6" cy="430.1" r="1.95"/><circle cx="250.4" cy="430.5" r="1.95"/><circle cx="253.5" cy="431.1" r="1.95"/><circle cx="254.0" cy="431.6" r="1.95"/><circle cx="251.4" cy="432.1" r="1.95"/><circle cx="248.5" cy="432.6" r="1.95"/><circle cx="257.2" cy="433.3" r="1.95"/><circle cx="241.0" cy="433.4" r="1.95"/><circle cx="251.6" cy="434.2" r="1.95"/><circle cx="255.4" cy="434.8" r="1.95"/><circle cx="247.6" cy="435.2" r="1.95"/><circle cx="254.1" cy="435.8" r="1.95"/><circle cx="241.9" cy="436.1" r="1.95"/><circle cx="246.4" cy="436.7" r="1.95"/><circle cx="243.6" cy="437.1" r="1.95"/><circle cx="246.0" cy="437.7" r="1.95"/><circle cx="251.9" cy="438.4" r="1.95"/><circle cx="241.0" cy="438.6" r="1.95"/><circle cx="244.8" cy="439.2" r="1.95"/><circle cx="254.8" cy="439.9" r="1.95"/><circle cx="244.1" cy="440.2" r="1.95"/><circle cx="240.6" cy="440.7" r="1.95"/><circle cx="257.8" cy="441.5" r="1.95"/><circle cx="248.8" cy="441.8" r="1.95"/><circle cx="238.4" cy="442.1" r="1.95"/><circle cx="249.4" cy="442.8" r="1.95"/><circle cx="240.9" cy="443.2" r="1.95"/><circle cx="241.2" cy="443.7" r="1.95"/><circle cx="252.8" cy="444.4" r="1.95"/><circle cx="251.1" cy="444.9" r="1.95"/><circle cx="246.5" cy="445.3" r="1.95"/><circle cx="248.3" cy="445.8" r="1.95"/><circle cx="249.2" cy="446.3" r="1.95"/><circle cx="247.2" cy="446.7" r="1.95"/><circle cx="239.8" cy="447.1" r="1.95"/><circle cx="253.5" cy="447.8" r="1.95"/><circle cx="253.6" cy="448.3" r="1.95"/><circle cx="246.4" cy="448.7" r="1.95"/><circle cx="246.0" cy="449.1" r="1.95"/><circle cx="250.3" cy="449.7" r="1.95"/><circle cx="247.4" cy="450.1" r="1.95"/><circle cx="246.2" cy="450.6" r="1.95"/><circle cx="255.9" cy="451.2" r="1.95"/><circle cx="256.5" cy="451.7" r="1.95"/><circle cx="240.7" cy="451.9" r="1.95"/><circle cx="241.1" cy="452.4" r="1.95"/><circle cx="254.0" cy="453.1" r="1.95"/><circle cx="257.6" cy="453.6" r="1.95"/><circle cx="252.8" cy="454.0" r="1.95"/><circle cx="243.7" cy="454.3" r="1.95"/><circle cx="238.7" cy="454.7" r="1.95"/><circle cx="254.9" cy="455.5" r="1.95"/><circle cx="257.1" cy="456.0" r="1.95"/><circle cx="253.5" cy="456.4" r="1.95"/><circle cx="253.0" cy="456.9" r="1.95"/><circle cx="258.0" cy="457.4" r="1.95"/><circle cx="248.5" cy="457.7" r="1.95"/><circle cx="257.1" cy="458.4" r="1.95"/><circle cx="243.0" cy="458.6" r="1.95"/><circle cx="239.0" cy="459.0" r="1.95"/><circle cx="255.2" cy="459.8" r="1.95"/><circle cx="252.2" cy="460.2" r="1.95"/><circle cx="254.3" cy="460.7" r="1.95"/><circle cx="240.2" cy="460.9" r="1.95"/><circle cx="243.8" cy="461.4" r="1.95"/><circle cx="249.9" cy="462.0" r="1.95"/><circle cx="238.8" cy="462.3" r="1.95"/><circle cx="244.4" cy="462.9" r="1.95"/><circle cx="250.2" cy="463.4" r="1.95"/><circle cx="257.3" cy="464.0" r="1.95"/><circle cx="252.7" cy="464.4" r="1.95"/><circle cx="245.8" cy="464.8" r="1.95"/><circle cx="246.0" cy="465.2" r="1.95"/><circle cx="248.3" cy="465.8" r="1.95"/><circle cx="253.1" cy="466.3" r="1.95"/><circle cx="258.6" cy="466.9" r="1.95"/><circle cx="237.6" cy="467.0" r="1.95"/><circle cx="257.1" cy="467.8" r="1.95"/><circle cx="254.5" cy="468.2" r="1.95"/><circle cx="238.3" cy="468.4" r="1.95"/><circle cx="242.8" cy="468.9" r="1.95"/><circle cx="243.2" cy="469.4" r="1.95"/><circle cx="241.9" cy="469.9" r="1.95"/><circle cx="240.8" cy="470.3" r="1.95"/><circle cx="240.3" cy="470.8" r="1.95"/><circle cx="251.7" cy="471.4" r="1.95"/><circle cx="246.7" cy="471.8" r="1.95"/><circle cx="239.9" cy="472.2" r="1.95"/><circle cx="255.0" cy="473.0" r="1.95"/><circle cx="254.7" cy="473.5" r="1.95"/><circle cx="243.2" cy="473.7" r="1.95"/><circle cx="254.5" cy="474.5" r="1.95"/><circle cx="253.3" cy="474.9" r="1.95"/><circle cx="248.6" cy="475.4" r="1.95"/><circle cx="240.2" cy="475.7" r="1.95"/><circle cx="251.9" cy="476.5" r="1.95"/><circle cx="254.9" cy="477.1" r="1.95"/><circle cx="255.0" cy="477.7" r="1.95"/><circle cx="256.0" cy="478.2" r="1.95"/><circle cx="242.0" cy="478.4" r="1.95"/><circle cx="256.1" cy="479.4" r="1.95"/><circle cx="241.1" cy="479.6" r="1.95"/><circle cx="245.8" cy="480.3" r="1.95"/><circle cx="248.6" cy="481.0" r="1.95"/><circle cx="250.1" cy="481.7" r="1.95"/><circle cx="248.4" cy="482.3" r="1.95"/><circle cx="253.9" cy="483.2" r="1.95"/><circle cx="251.8" cy="483.8" r="1.95"/><circle cx="252.8" cy="484.6" r="1.95"/><circle cx="250.3" cy="485.2" r="1.95"/><circle cx="247.4" cy="485.9" r="1.95"/><circle cx="242.2" cy="486.4" r="1.95"/><circle cx="249.6" cy="487.7" r="1.95"/><circle cx="252.5" cy="488.9" r="1.95"/><circle cx="244.9" cy="489.3" r="1.95"/><circle cx="252.3" cy="491.0" r="1.95"/><circle cx="243.9" cy="491.3" r="1.95"/><circle cx="247.2" cy="492.9" r="1.95"/><circle cx="249.8" cy="494.6" r="1.95"/><circle cx="249.5" cy="495.9" r="1.95"/><circle cx="248.5" cy="497.3" r="1.95"/><circle cx="246.6" cy="498.5" r="1.95"/><circle cx="246.8" cy="500.2" r="1.95"/><circle cx="248.0" cy="506.7" r="1.95"/></g>
<g fill="#9ec2e1"><circle cx="292.4" cy="380.7" r="1.95"/><circle cx="293.4" cy="411.4" r="1.95"/><circle cx="294.2" cy="413.4" r="1.95"/><circle cx="292.6" cy="414.7" r="1.95"/><circle cx="292.6" cy="416.1" r="1.95"/><circle cx="291.7" cy="417.3" r="1.95"/><circle cx="296.5" cy="419.1" r="1.95"/><circle cx="290.8" cy="419.7" r="1.95"/><circle cx="289.5" cy="420.7" r="1.95"/><circle cx="290.4" cy="422.0" r="1.95"/><circle cx="290.3" cy="423.1" r="1.95"/><circle cx="290.9" cy="424.2" r="1.95"/><circle cx="290.3" cy="425.2" r="1.95"/><circle cx="288.7" cy="426.1" r="1.95"/><circle cx="290.8" cy="427.3" r="1.95"/><circle cx="290.6" cy="428.3" r="1.95"/><circle cx="293.2" cy="429.4" r="1.95"/><circle cx="289.5" cy="430.1" r="1.95"/><circle cx="288.1" cy="431.0" r="1.95"/><circle cx="289.4" cy="432.1" r="1.95"/><circle cx="292.9" cy="433.3" r="1.95"/><circle cx="291.3" cy="434.1" r="1.95"/><circle cx="295.0" cy="435.3" r="1.95"/><circle cx="295.8" cy="436.3" r="1.95"/><circle cx="291.6" cy="436.9" r="1.95"/><circle cx="288.1" cy="437.6" r="1.95"/><circle cx="295.0" cy="439.0" r="1.95"/><circle cx="295.4" cy="439.9" r="1.95"/><circle cx="291.3" cy="440.5" r="1.95"/><circle cx="294.3" cy="441.6" r="1.95"/><circle cx="290.2" cy="442.2" r="1.95"/><circle cx="297.3" cy="443.5" r="1.95"/><circle cx="296.4" cy="444.3" r="1.95"/><circle cx="295.9" cy="445.1" r="1.95"/><circle cx="297.9" cy="446.1" r="1.95"/><circle cx="289.3" cy="446.4" r="1.95"/><circle cx="293.0" cy="447.5" r="1.95"/><circle cx="295.3" cy="448.4" r="1.95"/><circle cx="296.1" cy="449.3" r="1.95"/><circle cx="291.2" cy="449.9" r="1.95"/><circle cx="288.3" cy="450.5" r="1.95"/><circle cx="294.0" cy="451.7" r="1.95"/><circle cx="288.0" cy="452.2" r="1.95"/><circle cx="294.8" cy="453.5" r="1.95"/><circle cx="286.9" cy="453.9" r="1.95"/><circle cx="292.0" cy="455.1" r="1.95"/><circle cx="292.3" cy="456.0" r="1.95"/><circle cx="288.3" cy="456.7" r="1.95"/><circle cx="292.3" cy="457.8" r="1.95"/><circle cx="292.5" cy="458.8" r="1.95"/><circle cx="291.1" cy="459.6" r="1.95"/><circle cx="296.7" cy="460.9" r="1.95"/><circle cx="296.3" cy="461.9" r="1.95"/><circle cx="296.6" cy="462.8" r="1.95"/><circle cx="289.9" cy="463.3" r="1.95"/><circle cx="287.6" cy="464.1" r="1.95"/><circle cx="291.3" cy="465.3" r="1.95"/><circle cx="288.6" cy="466.1" r="1.95"/><circle cx="294.6" cy="467.6" r="1.95"/><circle cx="290.1" cy="468.2" r="1.95"/><circle cx="288.8" cy="469.1" r="1.95"/><circle cx="290.3" cy="470.3" r="1.95"/><circle cx="291.5" cy="471.3" r="1.95"/><circle cx="294.9" cy="472.6" r="1.95"/><circle cx="292.1" cy="473.4" r="1.95"/><circle cx="290.5" cy="474.3" r="1.95"/><circle cx="294.3" cy="475.5" r="1.95"/><circle cx="288.0" cy="476.0" r="1.95"/><circle cx="289.6" cy="477.2" r="1.95"/><circle cx="294.4" cy="478.5" r="1.95"/><circle cx="295.0" cy="479.6" r="1.95"/><circle cx="288.5" cy="480.1" r="1.95"/><circle cx="288.2" cy="481.0" r="1.95"/><circle cx="292.6" cy="482.4" r="1.95"/><circle cx="294.1" cy="483.5" r="1.95"/><circle cx="287.7" cy="484.0" r="1.95"/><circle cx="291.9" cy="485.3" r="1.95"/><circle cx="290.2" cy="486.2" r="1.95"/><circle cx="287.9" cy="487.0" r="1.95"/><circle cx="288.6" cy="487.9" r="1.95"/><circle cx="289.8" cy="488.8" r="1.95"/><circle cx="292.1" cy="489.6" r="1.95"/><circle cx="294.2" cy="490.3" r="1.95"/><circle cx="291.2" cy="490.8" r="1.95"/><circle cx="299.0" cy="491.5" r="1.95"/><circle cx="290.0" cy="491.8" r="1.95"/><circle cx="293.7" cy="492.3" r="1.95"/><circle cx="290.7" cy="492.7" r="1.95"/><circle cx="291.9" cy="493.2" r="1.95"/><circle cx="302.6" cy="493.8" r="1.95"/><circle cx="285.8" cy="493.9" r="1.95"/><circle cx="292.4" cy="494.4" r="1.95"/><circle cx="287.8" cy="494.8" r="1.95"/><circle cx="290.3" cy="495.2" r="1.95"/><circle cx="304.4" cy="495.7" r="1.95"/><circle cx="289.7" cy="495.9" r="1.95"/><circle cx="296.0" cy="496.4" r="1.95"/><circle cx="291.6" cy="496.6" r="1.95"/><circle cx="299.0" cy="497.1" r="1.95"/><circle cx="292.2" cy="497.3" r="1.95"/><circle cx="285.4" cy="497.6" r="1.95"/><circle cx="291.8" cy="498.0" r="1.95"/><circle cx="291.2" cy="498.3" r="1.95"/><circle cx="301.1" cy="498.7" r="1.95"/><circle cx="295.1" cy="498.9" r="1.95"/><circle cx="285.4" cy="499.2" r="1.95"/><circle cx="298.2" cy="499.6" r="1.95"/><circle cx="288.0" cy="499.8" r="1.95"/><circle cx="293.8" cy="500.1" r="1.95"/><circle cx="285.6" cy="500.3" r="1.95"/><circle cx="290.9" cy="500.7" r="1.95"/><circle cx="301.9" cy="501.0" r="1.95"/><circle cx="294.0" cy="501.2" r="1.95"/><circle cx="301.0" cy="501.5" r="1.95"/><circle cx="301.3" cy="501.8" r="1.95"/><circle cx="296.2" cy="502.0" r="1.95"/><circle cx="298.0" cy="502.3" r="1.95"/><circle cx="290.3" cy="502.5" r="1.95"/><circle cx="297.2" cy="502.8" r="1.95"/><circle cx="302.4" cy="503.1" r="1.95"/><circle cx="280.6" cy="503.2" r="1.95"/><circle cx="307.8" cy="503.6" r="1.95"/><circle cx="289.1" cy="503.8" r="1.95"/><circle cx="281.5" cy="504.0" r="1.95"/><circle cx="281.8" cy="504.2" r="1.95"/><circle cx="288.1" cy="504.5" r="1.95"/><circle cx="278.8" cy="504.7" r="1.95"/><circle cx="290.0" cy="505.0" r="1.95"/><circle cx="290.5" cy="505.2" r="1.95"/><circle cx="299.0" cy="505.5" r="1.95"/><circle cx="292.3" cy="505.6" r="1.95"/><circle cx="309.2" cy="506.0" r="1.95"/><circle cx="299.3" cy="506.1" r="1.95"/><circle cx="287.0" cy="506.3" r="1.95"/><circle cx="307.3" cy="506.6" r="1.95"/><circle cx="300.9" cy="506.8" r="1.95"/><circle cx="310.8" cy="507.1" r="1.95"/><circle cx="302.2" cy="507.2" r="1.95"/><circle cx="310.8" cy="507.5" r="1.95"/><circle cx="282.6" cy="507.6" r="1.95"/><circle cx="285.3" cy="507.8" r="1.95"/><circle cx="311.1" cy="508.1" r="1.95"/><circle cx="275.7" cy="508.2" r="1.95"/><circle cx="309.3" cy="508.6" r="1.95"/><circle cx="308.8" cy="508.8" r="1.95"/><circle cx="279.9" cy="508.8" r="1.95"/><circle cx="280.5" cy="509.1" r="1.95"/><circle cx="309.1" cy="509.4" r="1.95"/><circle cx="310.7" cy="509.6" r="1.95"/><circle cx="307.3" cy="509.8" r="1.95"/><circle cx="301.9" cy="510.0" r="1.95"/><circle cx="303.2" cy="510.2" r="1.95"/><circle cx="286.3" cy="510.4" r="1.95"/><circle cx="275.0" cy="510.5" r="1.95"/><circle cx="298.3" cy="510.9" r="1.95"/><circle cx="307.9" cy="511.1" r="1.95"/><circle cx="310.4" cy="511.3" r="1.95"/><circle cx="294.1" cy="511.5" r="1.95"/><circle cx="275.0" cy="511.6" r="1.95"/><circle cx="281.2" cy="511.8" r="1.95"/><circle cx="291.6" cy="512.1" r="1.95"/><circle cx="283.3" cy="512.3" r="1.95"/><circle cx="275.6" cy="512.4" r="1.95"/><circle cx="281.9" cy="512.7" r="1.95"/><circle cx="293.5" cy="512.9" r="1.95"/><circle cx="279.3" cy="513.1" r="1.95"/><circle cx="278.8" cy="513.3" r="1.95"/><circle cx="280.8" cy="513.5" r="1.95"/><circle cx="275.8" cy="513.7" r="1.95"/><circle cx="304.3" cy="514.0" r="1.95"/><circle cx="307.4" cy="514.3" r="1.95"/><circle cx="282.1" cy="514.4" r="1.95"/><circle cx="298.6" cy="514.7" r="1.95"/><circle cx="307.9" cy="514.9" r="1.95"/><circle cx="283.7" cy="515.0" r="1.95"/><circle cx="287.1" cy="515.2" r="1.95"/><circle cx="308.1" cy="515.5" r="1.95"/><circle cx="303.5" cy="515.7" r="1.95"/><circle cx="298.1" cy="515.9" r="1.95"/><circle cx="304.8" cy="516.1" r="1.95"/><circle cx="296.3" cy="516.3" r="1.95"/><circle cx="286.4" cy="516.5" r="1.95"/><circle cx="300.6" cy="516.7" r="1.95"/><circle cx="304.4" cy="517.0" r="1.95"/><circle cx="276.4" cy="517.1" r="1.95"/><circle cx="286.6" cy="517.3" r="1.95"/><circle cx="285.6" cy="517.5" r="1.95"/><circle cx="308.4" cy="517.8" r="1.95"/><circle cx="285.3" cy="517.9" r="1.95"/><circle cx="300.2" cy="518.1" r="1.95"/><circle cx="291.0" cy="518.3" r="1.95"/><circle cx="288.8" cy="518.5" r="1.95"/><circle cx="293.5" cy="518.7" r="1.95"/><circle cx="308.8" cy="519.0" r="1.95"/><circle cx="299.6" cy="519.2" r="1.95"/><circle cx="289.2" cy="519.3" r="1.95"/><circle cx="279.9" cy="519.5" r="1.95"/><circle cx="287.4" cy="519.7" r="1.95"/><circle cx="292.4" cy="520.0" r="1.95"/><circle cx="299.2" cy="520.2" r="1.95"/><circle cx="312.7" cy="520.5" r="1.95"/><circle cx="286.8" cy="520.6" r="1.95"/><circle cx="310.2" cy="520.9" r="1.95"/><circle cx="309.0" cy="521.1" r="1.95"/><circle cx="291.4" cy="521.2" r="1.95"/><circle cx="283.1" cy="521.4" r="1.95"/><circle cx="283.6" cy="521.6" r="1.95"/><circle cx="309.0" cy="521.9" r="1.95"/><circle cx="281.5" cy="522.0" r="1.95"/><circle cx="298.9" cy="522.3" r="1.95"/><circle cx="299.0" cy="522.6" r="1.95"/><circle cx="281.5" cy="522.7" r="1.95"/><circle cx="276.8" cy="522.9" r="1.95"/><circle cx="298.4" cy="523.2" r="1.95"/><circle cx="277.8" cy="523.3" r="1.95"/><circle cx="295.2" cy="523.7" r="1.95"/><circle cx="309.7" cy="524.0" r="1.95"/><circle cx="292.3" cy="524.1" r="1.95"/><circle cx="287.1" cy="524.3" r="1.95"/><circle cx="280.2" cy="524.5" r="1.95"/><circle cx="286.9" cy="524.8" r="1.95"/><circle cx="287.5" cy="525.0" r="1.95"/><circle cx="280.9" cy="525.2" r="1.95"/><circle cx="300.1" cy="525.6" r="1.95"/><circle cx="296.8" cy="525.8" r="1.95"/><circle cx="300.4" cy="526.1" r="1.95"/><circle cx="281.1" cy="526.2" r="1.95"/><circle cx="285.8" cy="526.5" r="1.95"/><circle cx="306.3" cy="526.9" r="1.95"/><circle cx="278.7" cy="527.0" r="1.95"/><circle cx="289.7" cy="527.3" r="1.95"/><circle cx="302.6" cy="527.7" r="1.95"/><circle cx="285.8" cy="527.9" r="1.95"/><circle cx="285.7" cy="528.1" r="1.95"/><circle cx="297.2" cy="528.5" r="1.95"/><circle cx="286.8" cy="528.7" r="1.95"/><circle cx="289.2" cy="529.1" r="1.95"/><circle cx="290.7" cy="529.4" r="1.95"/><circle cx="288.5" cy="529.7" r="1.95"/><circle cx="297.3" cy="530.1" r="1.95"/><circle cx="299.0" cy="530.4" r="1.95"/><circle cx="299.4" cy="530.8" r="1.95"/><circle cx="303.9" cy="531.2" r="1.95"/><circle cx="284.3" cy="531.3" r="1.95"/><circle cx="288.5" cy="531.8" r="1.95"/><circle cx="302.9" cy="532.4" r="1.95"/><circle cx="299.0" cy="532.8" r="1.95"/><circle cx="298.1" cy="533.2" r="1.95"/><circle cx="288.8" cy="533.4" r="1.95"/><circle cx="287.5" cy="533.9" r="1.95"/><circle cx="290.2" cy="534.5" r="1.95"/><circle cx="298.6" cy="535.3" r="1.95"/><circle cx="296.4" cy="535.9" r="1.95"/><circle cx="292.1" cy="536.4" r="1.95"/><circle cx="294.6" cy="537.5" r="1.95"/></g>
<line x1="79.20" y1="173.80" x2="95.20" y2="173.80" stroke="#222" stroke-width="1.4" />
<line x1="87.20" y1="168.00" x2="87.20" y2="179.60" stroke="#222" stroke-width="1.4" />
<circle cx="99.5" cy="126.3" r="3.7" fill="#fff" stroke="#111" stroke-width="1.3"/>
<rect x="92.3" y="231.7" width="6.6" height="6.6" fill="#fff" stroke="#111" stroke-width="1.3"/>
<line x1="124.00" y1="222.50" x2="140.00" y2="222.50" stroke="#222" stroke-width="1.4" />
<line x1="132.00" y1="220.00" x2="132.00" y2="225.00" stroke="#222" stroke-width="1.4" />
<rect x="128.7" y="203.89999999999998" width="6.6" height="6.6" fill="#fff" stroke="#111" stroke-width="1.3"/>
<circle cx="134.6" cy="262.9" r="3.7" fill="#fff" stroke="#111" stroke-width="1.3"/>
<line x1="240.00" y1="167.60" x2="256.00" y2="167.60" stroke="#222" stroke-width="1.4" />
<line x1="248.00" y1="165.10" x2="248.00" y2="170.10" stroke="#222" stroke-width="1.4" />
<circle cx="232.3" cy="164.2" r="3.7" fill="#fff" stroke="#111" stroke-width="1.3"/>
<rect x="246.2" y="168.79999999999998" width="6.6" height="6.6" fill="#fff" stroke="#111" stroke-width="1.3"/>
<line x1="284.30" y1="196.10" x2="300.30" y2="196.10" stroke="#222" stroke-width="1.4" />
<line x1="292.30" y1="191.10" x2="292.30" y2="201.10" stroke="#222" stroke-width="1.4" />
<rect x="291.8" y="176.29999999999998" width="6.6" height="6.6" fill="#fff" stroke="#111" stroke-width="1.3"/>
<circle cx="283.3" cy="242.7" r="3.7" fill="#fff" stroke="#111" stroke-width="1.3"/>
<line x1="79.00" y1="409.00" x2="95.00" y2="409.00" stroke="#222" stroke-width="1.4" />
<line x1="87.00" y1="403.00" x2="87.00" y2="415.00" stroke="#222" stroke-width="1.4" />
<circle cx="83" cy="378" r="3.7" fill="#fff" stroke="#111" stroke-width="1.3"/>
<rect x="85.4" y="490.59999999999997" width="6.6" height="6.6" fill="#fff" stroke="#111" stroke-width="1.3"/>
<line x1="124.50" y1="482.00" x2="139.50" y2="482.00" stroke="#222" stroke-width="1.4" />
<line x1="132.00" y1="480.50" x2="132.00" y2="483.50" stroke="#222" stroke-width="1.4" />
<rect x="130.39999999999998" y="453.59999999999997" width="6.6" height="6.6" fill="#fff" stroke="#111" stroke-width="1.3"/>
<circle cx="142.9" cy="483.0" r="3.7" fill="#fff" stroke="#111" stroke-width="1.3"/>
<line x1="240.00" y1="433.30" x2="256.00" y2="433.30" stroke="#222" stroke-width="1.4" />
<line x1="248.00" y1="427.30" x2="248.00" y2="439.30" stroke="#222" stroke-width="1.4" />
<circle cx="246.9" cy="360.5" r="3.7" fill="#fff" stroke="#111" stroke-width="1.3"/>
<rect x="245.29999999999998" y="469.3" width="6.6" height="6.6" fill="#fff" stroke="#111" stroke-width="1.3"/>
<line x1="284.40" y1="491.30" x2="300.40" y2="491.30" stroke="#222" stroke-width="1.4" />
<line x1="292.40" y1="486.30" x2="292.40" y2="496.30" stroke="#222" stroke-width="1.4" />
<rect x="290.7" y="475.7" width="6.6" height="6.6" fill="#fff" stroke="#111" stroke-width="1.3"/>
<circle cx="276.5" cy="512.8" r="3.7" fill="#fff" stroke="#111" stroke-width="1.3"/>
<path d="M0.55,309.4 L1.7,305.5 L6.7,302.2 L13.3,298.9 L18.9,296.1 L26.6,293.9 L33.3,293.3 L48.8,293.3 L53.3,295 L59.9,297.8 L62.2,303.3 L63.3,307.8 L68.8,308.3 L71,311.1 L73.3,318.9 L74.4,325.5 L71,327.7 L62.2,327.2 L48.8,325.5 L44.4,324.4 L37.7,327.7 L33.3,331.1 L27.7,332.7 L22.2,331.6 L21.6,328.3 L22.8,324.4 L25,321.1 L23.3,317.2 L16.6,316.6 L6.7,313.9 L1.7,312.2 Z" fill="#858585"/>
<clipPath id="brc"><path d="M0.55,309.4 L1.7,305.5 L6.7,302.2 L13.3,298.9 L18.9,296.1 L26.6,293.9 L33.3,293.3 L48.8,293.3 L53.3,295 L59.9,297.8 L62.2,303.3 L63.3,307.8 L68.8,308.3 L71,311.1 L73.3,318.9 L74.4,325.5 L71,327.7 L62.2,327.2 L48.8,325.5 L44.4,324.4 L37.7,327.7 L33.3,331.1 L27.7,332.7 L22.2,331.6 L21.6,328.3 L22.8,324.4 L25,321.1 L23.3,317.2 L16.6,316.6 L6.7,313.9 L1.7,312.2 Z"/></clipPath><g clip-path="url(#brc)">
<path d="M2,308 Q12,300 24,297 Q36,295 46,296 L44,300 Q30,300 18,304 Q10,307 4,311 Z" fill="#a2a2a2"/>
<path d="M20,304 Q34,299 50,299 Q56,300 60,304" fill="none" stroke="#6a6a6a" stroke-width="1.2"/>
<path d="M28,301 Q40,297 52,297" fill="none" stroke="#b0b0b0" stroke-width="1.4"/>
<path d="M8,309 Q20,305 34,306" fill="none" stroke="#9c9c9c" stroke-width="2"/>
<path d="M22,316.6 Q36,310 53,302" fill="none" stroke="#5e5e5e" stroke-width="2.2"/>
<path d="M25,321 Q40,316 54,310 Q58,308 61,308" fill="none" stroke="#6c6c6c" stroke-width="1.6"/>
<path d="M30,313 Q42,307 56,303" fill="none" stroke="#a0a0a0" stroke-width="1.4"/>
<path d="M62,308.5 L69,308.5 L74.4,325.5 L63,326.5 Q60,318 62,308.5 Z" fill="#a0a0a0"/>
<path d="M61,309 Q59,318 62,326.6" fill="none" stroke="#5a5a5a" stroke-width="1.2"/>
<path d="M24,326 Q36,322 48,322" fill="none" stroke="#9a9a9a" stroke-width="1.6"/>
</g>
<path d="M0.55,309.4 L1.7,305.5 L6.7,302.2 L13.3,298.9 L18.9,296.1 L26.6,293.9 L33.3,293.3 L48.8,293.3 L53.3,295 L59.9,297.8 L62.2,303.3 L63.3,307.8 L68.8,308.3 L71,311.1 L73.3,318.9 L74.4,325.5 L71,327.7 L62.2,327.2 L48.8,325.5 L44.4,324.4 L37.7,327.7 L33.3,331.1 L27.7,332.7 L22.2,331.6 L21.6,328.3 L22.8,324.4 L25,321.1 L23.3,317.2 L16.6,316.6 L6.7,313.9 L1.7,312.2 Z" fill="none" stroke="#383838" stroke-width="1.1" stroke-linejoin="round"/>
<circle cx="43.3" cy="319.1" r="4.3" fill="#e8318b"/>
<circle cx="30.2" cy="327.4" r="4.3" fill="#8ccb4e"/>
<path d="M381.50,272.50 C382.25,272.42 384.58,271.92 386.00,272.00 C387.42,272.08 388.67,272.92 390.00,273.00 C391.33,273.08 392.67,272.50 394.00,272.50 C395.33,272.50 396.67,272.83 398.00,273.00 C399.33,273.17 400.67,273.50 402.00,273.50 C403.33,273.50 404.68,273.55 406.00,273.00 C407.32,272.45 408.75,271.38 409.90,270.20 C411.05,269.02 411.98,268.23 412.90,265.90 C413.82,263.57 414.68,260.27 415.40,256.20 C416.12,252.13 416.50,246.98 417.20,241.50 C417.90,236.02 418.97,227.55 419.60,223.30 C420.23,219.05 420.53,217.63 421.00,216.00 C421.47,214.37 421.90,213.50 422.40,213.50 C422.90,213.50 423.45,214.37 424.00,216.00 C424.55,217.63 425.22,220.07 425.70,223.30 C426.18,226.53 426.28,231.35 426.90,235.40 C427.52,239.45 428.18,243.73 429.40,247.60 C430.62,251.47 432.70,255.53 434.20,258.60 C435.70,261.67 437.00,265.07 438.40,266.00 C439.80,266.93 440.88,263.78 442.60,264.20 C444.32,264.62 446.87,267.18 448.70,268.50 C450.53,269.82 451.77,271.12 453.60,272.10 C455.43,273.08 458.03,274.02 459.70,274.40 C461.37,274.78 462.43,274.07 463.60,274.40 C464.77,274.73 465.27,276.20 466.70,276.40 C468.13,276.60 470.43,275.33 472.20,275.60 C473.97,275.87 475.87,278.07 477.30,278.00 C478.73,277.93 479.57,276.05 480.80,275.20 C482.03,274.35 483.27,273.93 484.70,272.90 C486.13,271.87 487.57,269.47 489.40,269.00 C491.23,268.53 493.87,270.23 495.70,270.10 C497.53,269.97 499.62,268.52 500.40,268.20" fill="none" stroke="#707070" stroke-width="1.35" stroke-linejoin="round"/>
<path d="M381.50,271.50 C382.08,271.42 383.75,270.83 385.00,271.00 C386.25,271.17 387.67,272.17 389.00,272.50 C390.33,272.83 391.83,273.00 393.00,273.00 C394.17,273.00 394.83,272.33 396.00,272.50 C397.17,272.67 398.67,273.83 400.00,274.00 C401.33,274.17 402.92,273.75 404.00,273.50 C405.08,273.25 405.72,272.95 406.50,272.50 C407.28,272.05 407.83,272.30 408.70,270.80 C409.57,269.30 410.80,267.37 411.70,263.50 C412.60,259.63 413.38,253.28 414.10,247.60 C414.82,241.92 415.28,236.50 416.00,229.40 C416.72,222.30 417.65,210.07 418.40,205.00 C419.15,199.93 419.87,200.23 420.50,199.00 C421.13,197.77 421.53,197.27 422.20,197.60 C422.87,197.93 423.53,198.93 424.50,201.00 C425.47,203.07 426.95,206.83 428.00,210.00 C429.05,213.17 429.98,217.37 430.80,220.00 C431.62,222.63 431.53,221.17 432.90,225.80 C434.27,230.43 437.38,243.63 439.00,247.80 C440.62,251.97 440.37,248.98 442.60,250.80 C444.83,252.62 449.75,256.87 452.40,258.70 C455.05,260.53 456.90,260.87 458.50,261.80 C460.10,262.73 460.88,263.10 462.00,264.30 C463.12,265.50 463.77,267.83 465.20,269.00 C466.63,270.17 468.38,270.53 470.60,271.30 C472.82,272.07 476.27,273.40 478.50,273.60 C480.73,273.80 482.43,272.50 484.00,272.50 C485.57,272.50 486.47,272.95 487.90,273.60 C489.33,274.25 491.03,276.27 492.60,276.40 C494.17,276.53 496.00,274.60 497.30,274.40 C498.60,274.20 499.88,275.07 500.40,275.20" fill="none" stroke="#3c82c5" stroke-width="1.35" stroke-linejoin="round"/>
<path d="M381.50,274.50 C382.25,274.67 384.58,275.42 386.00,275.50 C387.42,275.58 388.67,275.33 390.00,275.00 C391.33,274.67 392.67,273.83 394.00,273.50 C395.33,273.17 396.67,272.92 398.00,273.00 C399.33,273.08 400.67,273.92 402.00,274.00 C403.33,274.08 405.03,273.83 406.00,273.50 C406.97,273.17 407.22,272.75 407.80,272.00 C408.38,271.25 408.85,271.17 409.50,269.00 C410.15,266.83 410.98,263.67 411.70,259.00 C412.42,254.33 413.08,248.33 413.80,241.00 C414.52,233.67 415.30,222.33 416.00,215.00 C416.70,207.67 417.37,201.50 418.00,197.00 C418.63,192.50 419.23,190.08 419.80,188.00 C420.37,185.92 420.78,184.33 421.40,184.50 C422.02,184.67 422.82,187.25 423.50,189.00 C424.18,190.75 424.90,193.40 425.50,195.00 C426.10,196.60 426.18,196.10 427.10,198.60 C428.02,201.10 429.95,206.43 431.00,210.00 C432.05,213.57 432.58,216.95 433.40,220.00 C434.22,223.05 434.37,224.80 435.90,228.30 C437.43,231.80 439.85,236.85 442.60,241.00 C445.35,245.15 450.17,250.87 452.40,253.20 C454.63,255.53 454.27,253.28 456.00,255.00 C457.73,256.72 461.02,261.23 462.80,263.50 C464.58,265.77 465.40,267.57 466.70,268.60 C468.00,269.63 468.90,269.25 470.60,269.70 C472.30,270.15 474.93,270.77 476.90,271.30 C478.87,271.83 480.83,272.38 482.40,272.90 C483.97,273.42 484.73,273.95 486.30,274.40 C487.87,274.85 490.10,275.73 491.80,275.60 C493.50,275.47 495.07,273.93 496.50,273.60 C497.93,273.27 499.75,273.60 500.40,273.60" fill="none" stroke="#ff8c1a" stroke-width="1.35" stroke-linejoin="round"/>
<path d="M381.50,272.50 C382.08,272.33 383.75,271.42 385.00,271.50 C386.25,271.58 387.83,272.92 389.00,273.00 C390.17,273.08 390.83,272.08 392.00,272.00 C393.17,271.92 394.67,272.17 396.00,272.50 C397.33,272.83 398.83,273.92 400.00,274.00 C401.17,274.08 402.00,273.33 403.00,273.00 C404.00,272.67 405.25,272.37 406.00,272.00 C406.75,271.63 406.95,271.62 407.50,270.80 C408.05,269.98 408.60,269.95 409.30,267.10 C410.00,264.25 411.00,258.98 411.70,253.70 C412.40,248.42 412.78,243.52 413.50,235.40 C414.22,227.28 415.42,215.90 416.00,205.00 C416.58,194.10 416.70,182.50 417.00,170.00 C417.30,157.50 417.47,139.67 417.80,130.00 C418.13,120.33 418.53,116.58 419.00,112.00 C419.47,107.42 420.10,103.17 420.60,102.50 C421.10,101.83 421.53,103.42 422.00,108.00 C422.47,112.58 422.90,121.33 423.40,130.00 C423.90,138.67 424.63,153.33 425.00,160.00 C425.37,166.67 425.18,165.33 425.60,170.00 C426.02,174.67 426.82,182.25 427.50,188.00 C428.18,193.75 428.95,202.33 429.70,204.50 C430.45,206.67 431.03,202.50 432.00,201.00 C432.97,199.50 434.50,195.50 435.50,195.50 C436.50,195.50 437.32,198.58 438.00,201.00 C438.68,203.42 438.83,206.50 439.60,210.00 C440.37,213.50 441.48,217.33 442.60,222.00 C443.72,226.67 445.08,234.62 446.30,238.00 C447.52,241.38 448.28,240.07 449.90,242.30 C451.52,244.53 453.77,247.85 456.00,251.40 C458.23,254.95 461.67,260.75 463.30,263.60 C464.93,266.45 464.58,267.08 465.80,268.50 C467.02,269.92 468.75,271.18 470.60,272.10 C472.45,273.02 475.20,273.75 476.90,274.00 C478.60,274.25 479.37,273.27 480.80,273.60 C482.23,273.93 483.93,276.05 485.50,276.00 C487.07,275.95 488.63,273.70 490.20,273.30 C491.77,272.90 493.20,274.13 494.90,273.60 C496.60,273.07 499.48,270.68 500.40,270.10" fill="none" stroke="#bc203d" stroke-width="1.35" stroke-linejoin="round"/>
<path d="M548.00,260.70 C548.67,260.90 550.67,261.55 552.00,261.90 C553.33,262.25 554.67,262.45 556.00,262.80 C557.33,263.15 558.67,263.63 560.00,264.00 C561.33,264.37 562.83,264.73 564.00,265.00 C565.17,265.27 565.92,265.25 567.00,265.60 C568.08,265.95 569.67,267.10 570.50,267.10 C571.33,267.10 571.50,266.77 572.00,265.60 C572.50,264.43 572.97,262.70 573.50,260.10 C574.03,257.50 574.70,253.68 575.20,250.00 C575.70,246.32 576.15,242.17 576.50,238.00 C576.85,233.83 576.98,233.83 577.30,225.00 C577.62,216.17 577.95,197.50 578.40,185.00 C578.85,172.50 579.52,159.17 580.00,150.00 C580.48,140.83 580.90,134.43 581.30,130.00 C581.70,125.57 582.03,123.73 582.40,123.40 C582.77,123.07 583.07,123.57 583.50,128.00 C583.93,132.43 584.60,140.50 585.00,150.00 C585.40,159.50 585.48,176.67 585.90,185.00 C586.32,193.33 586.70,196.00 587.50,200.00 C588.30,204.00 589.70,208.83 590.70,209.00 C591.70,209.17 592.38,203.43 593.50,201.00 C594.62,198.57 596.23,194.73 597.40,194.40 C598.57,194.07 599.48,196.98 600.50,199.00 C601.52,201.02 602.40,202.00 603.50,206.50 C604.60,211.00 605.88,222.25 607.10,226.00 C608.32,229.75 609.55,228.12 610.80,229.00 C612.05,229.88 613.40,231.30 614.60,231.30 C615.80,231.30 616.77,229.00 618.00,229.00 C619.23,229.00 620.68,229.22 622.00,231.30 C623.32,233.38 624.02,237.73 625.90,241.50 C627.78,245.27 631.13,250.32 633.30,253.90 C635.47,257.48 636.75,260.37 638.90,263.00 C641.05,265.63 644.32,269.23 646.20,269.70 C648.08,270.17 648.40,265.80 650.20,265.80 C652.00,265.80 654.93,269.42 657.00,269.70 C659.07,269.98 660.92,268.53 662.60,267.50 C664.28,266.47 666.35,264.17 667.10,263.50" fill="none" stroke="#707070" stroke-width="1.35" stroke-linejoin="round"/>
<path d="M548.00,262.50 C548.50,263.02 550.17,264.93 551.00,265.60 C551.83,266.27 552.00,266.40 553.00,266.50 C554.00,266.60 555.67,266.35 557.00,266.20 C558.33,266.05 559.83,266.07 561.00,265.60 C562.17,265.13 563.00,263.82 564.00,263.40 C565.00,262.98 566.00,263.05 567.00,263.10 C568.00,263.15 569.17,263.90 570.00,263.70 C570.83,263.50 571.42,262.60 572.00,261.90 C572.58,261.20 573.00,261.15 573.50,259.50 C574.00,257.85 574.50,255.58 575.00,252.00 C575.50,248.42 576.00,245.83 576.50,238.00 C577.00,230.17 577.42,216.33 578.00,205.00 C578.58,193.67 579.20,178.73 580.00,170.00 C580.80,161.27 582.05,154.27 582.80,152.60 C583.55,150.93 583.97,154.60 584.50,160.00 C585.03,165.40 585.42,178.33 586.00,185.00 C586.58,191.67 587.33,196.52 588.00,200.00 C588.67,203.48 589.17,206.23 590.00,205.90 C590.83,205.57 591.92,201.98 593.00,198.00 C594.08,194.02 595.27,185.75 596.50,182.00 C597.73,178.25 599.32,175.83 600.40,175.50 C601.48,175.17 602.08,177.87 603.00,180.00 C603.92,182.13 604.62,185.42 605.90,188.30 C607.18,191.18 609.15,194.67 610.70,197.30 C612.25,199.93 614.08,202.03 615.20,204.10 C616.32,206.17 616.37,206.32 617.40,209.70 C618.43,213.08 620.08,219.30 621.40,224.40 C622.72,229.50 623.13,235.38 625.30,240.30 C627.47,245.22 631.57,250.12 634.40,253.90 C637.23,257.68 639.67,260.73 642.30,263.00 C644.93,265.27 647.95,266.57 650.20,267.50 C652.45,268.43 653.92,268.80 655.80,268.60 C657.68,268.40 659.62,267.05 661.50,266.30 C663.38,265.55 666.17,264.47 667.10,264.10" fill="none" stroke="#ff8c1a" stroke-width="1.35" stroke-linejoin="round"/>
<path d="M548.00,261.30 C548.67,261.50 550.67,262.05 552.00,262.50 C553.33,262.95 554.83,264.15 556.00,264.00 C557.17,263.85 558.25,261.95 559.00,261.60 C559.75,261.25 560.00,261.45 560.50,261.90 C561.00,262.35 561.42,263.68 562.00,264.30 C562.58,264.92 563.33,265.28 564.00,265.60 C564.67,265.92 565.25,266.30 566.00,266.20 C566.75,266.10 567.67,265.32 568.50,265.00 C569.33,264.68 570.25,265.12 571.00,264.30 C571.75,263.48 572.42,261.62 573.00,260.10 C573.58,258.58 574.00,257.23 574.50,255.20 C575.00,253.17 575.58,250.43 576.00,247.90 C576.42,245.37 576.75,245.48 577.00,240.00 C577.25,234.52 577.17,225.00 577.50,215.00 C577.83,205.00 578.42,190.50 579.00,180.00 C579.58,169.50 580.33,158.60 581.00,152.00 C581.67,145.40 582.42,141.40 583.00,140.40 C583.58,139.40 584.00,141.07 584.50,146.00 C585.00,150.93 585.50,161.83 586.00,170.00 C586.50,178.17 587.00,188.67 587.50,195.00 C588.00,201.33 588.47,204.87 589.00,208.00 C589.53,211.13 590.03,214.47 590.70,213.80 C591.37,213.13 592.12,208.63 593.00,204.00 C593.88,199.37 594.97,190.65 596.00,186.00 C597.03,181.35 598.20,176.77 599.20,176.10 C600.20,175.43 601.08,179.57 602.00,182.00 C602.92,184.43 603.45,188.03 604.70,190.70 C605.95,193.37 608.50,196.53 609.50,198.00 C610.50,199.47 609.75,197.92 610.70,199.50 C611.65,201.08 613.60,203.35 615.20,207.50 C616.80,211.65 618.23,219.30 620.30,224.40 C622.37,229.50 625.63,235.07 627.60,238.10 C629.57,241.13 630.60,239.58 632.10,242.60 C633.60,245.62 634.90,253.00 636.60,256.20 C638.30,259.40 640.03,259.92 642.30,261.80 C644.57,263.68 647.57,266.47 650.20,267.50 C652.83,268.53 655.28,268.20 658.10,268.00 C660.92,267.80 665.60,266.58 667.10,266.30" fill="none" stroke="#3c82c5" stroke-width="1.35" stroke-linejoin="round"/>
<path d="M548.00,259.50 C548.50,259.60 550.17,259.75 551.00,260.10 C551.83,260.45 552.17,261.00 553.00,261.60 C553.83,262.20 554.83,262.93 556.00,263.70 C557.17,264.47 558.83,265.63 560.00,266.20 C561.17,266.77 562.00,266.90 563.00,267.10 C564.00,267.30 565.00,267.45 566.00,267.40 C567.00,267.35 568.08,267.32 569.00,266.80 C569.92,266.28 570.83,265.12 571.50,264.30 C572.17,263.48 572.53,263.03 573.00,261.90 C573.47,260.77 573.80,260.32 574.30,257.50 C574.80,254.68 575.38,252.08 576.00,245.00 C576.62,237.92 577.33,224.17 578.00,215.00 C578.67,205.83 579.25,196.25 580.00,190.00 C580.75,183.75 581.83,178.83 582.50,177.50 C583.17,176.17 583.55,179.18 584.00,182.00 C584.45,184.82 584.60,187.88 585.20,194.40 C585.80,200.92 586.63,215.78 587.60,221.10 C588.57,226.42 589.88,227.10 591.00,226.30 C592.12,225.50 593.23,218.78 594.30,216.30 C595.37,213.82 596.28,212.32 597.40,211.40 C598.52,210.48 599.98,209.98 601.00,210.80 C602.02,211.62 602.68,213.57 603.50,216.30 C604.32,219.03 605.08,223.92 605.90,227.20 C606.72,230.48 607.43,233.23 608.40,236.00 C609.37,238.77 610.77,241.57 611.70,243.80 C612.63,246.03 613.05,248.75 614.00,249.40 C614.95,250.05 616.07,247.13 617.40,247.70 C618.73,248.27 620.58,252.05 622.00,252.80 C623.42,253.55 624.68,251.27 625.90,252.20 C627.12,253.13 628.07,256.70 629.30,258.40 C630.53,260.10 632.08,261.08 633.30,262.40 C634.52,263.72 635.28,265.65 636.60,266.30 C637.92,266.95 639.50,266.02 641.20,266.30 C642.90,266.58 644.92,267.80 646.80,268.00 C648.68,268.20 650.43,267.58 652.50,267.50 C654.57,267.42 656.77,268.83 659.20,267.50 C661.63,266.17 665.78,260.83 667.10,259.50" fill="none" stroke="#bc203d" stroke-width="1.35" stroke-linejoin="round"/>
<path d="M382.00,526.00 C382.67,526.33 384.67,527.42 386.00,528.00 C387.33,528.58 388.50,529.08 390.00,529.50 C391.50,529.92 393.33,530.25 395.00,530.50 C396.67,530.75 398.33,530.83 400.00,531.00 C401.67,531.17 403.33,531.33 405.00,531.50 C406.67,531.67 408.08,531.82 410.00,532.00 C411.92,532.18 414.83,532.85 416.50,532.60 C418.17,532.35 418.82,531.18 420.00,530.50 C421.18,529.82 422.67,528.83 423.60,528.50 C424.53,528.17 424.58,527.32 425.60,528.50 C426.62,529.68 428.25,533.65 429.70,535.60 C431.15,537.55 432.77,539.68 434.30,540.20 C435.83,540.72 437.28,538.95 438.90,538.70 C440.52,538.45 442.30,539.12 444.00,538.70 C445.70,538.28 447.05,536.62 449.10,536.20 C451.15,535.78 453.72,536.05 456.30,536.20 C458.88,536.35 461.95,537.12 464.60,537.10 C467.25,537.08 470.13,536.67 472.20,536.10 C474.27,535.53 475.40,534.02 477.00,533.70 C478.60,533.38 480.22,534.35 481.80,534.20 C483.38,534.05 485.07,532.80 486.50,532.80 C487.93,532.80 488.95,534.20 490.40,534.20 C491.85,534.20 493.53,532.97 495.20,532.80 C496.87,532.63 499.53,533.13 500.40,533.20" fill="none" stroke="#707070" stroke-width="1.35" stroke-linejoin="round"/>
<path d="M382.00,525.50 C382.67,525.75 384.67,526.50 386.00,527.00 C387.33,527.50 388.50,528.00 390.00,528.50 C391.50,529.00 393.33,529.58 395.00,530.00 C396.67,530.42 398.33,530.75 400.00,531.00 C401.67,531.25 403.12,531.32 405.00,531.50 C406.88,531.68 409.57,531.83 411.30,532.10 C413.03,532.37 414.03,533.37 415.40,533.10 C416.77,532.83 418.23,531.68 419.50,530.50 C420.77,529.32 421.80,527.18 423.00,526.00 C424.20,524.82 425.40,523.15 426.70,523.40 C428.00,523.65 429.27,525.97 430.80,527.50 C432.33,529.03 434.20,532.02 435.90,532.60 C437.60,533.18 438.97,531.52 441.00,531.00 C443.03,530.48 445.55,529.92 448.10,529.50 C450.65,529.08 454.20,528.63 456.30,528.50 C458.40,528.37 459.32,528.38 460.70,528.70 C462.08,529.02 463.32,530.25 464.60,530.40 C465.88,530.55 466.82,529.52 468.40,529.60 C469.98,529.68 471.87,530.40 474.10,530.90 C476.33,531.40 479.25,532.22 481.80,532.60 C484.35,532.98 486.30,533.10 489.40,533.20 C492.50,533.30 498.57,533.20 500.40,533.20" fill="none" stroke="#3c82c5" stroke-width="1.35" stroke-linejoin="round"/>
<path d="M382.00,524.50 C382.67,525.00 384.67,526.75 386.00,527.50 C387.33,528.25 388.67,528.58 390.00,529.00 C391.33,529.42 392.67,529.67 394.00,530.00 C395.33,530.33 396.67,530.75 398.00,531.00 C399.33,531.25 400.67,531.33 402.00,531.50 C403.33,531.67 404.67,531.92 406.00,532.00 C407.33,532.08 408.93,532.07 410.00,532.00 C411.07,531.93 411.65,532.43 412.40,531.60 C413.15,530.77 413.65,528.88 414.50,527.00 C415.35,525.12 416.32,523.97 417.50,520.30 C418.68,516.63 420.52,509.05 421.60,505.00 C422.68,500.95 423.20,498.45 424.00,496.00 C424.80,493.55 425.65,490.63 426.40,490.30 C427.15,489.97 427.65,491.97 428.50,494.00 C429.35,496.03 430.58,500.78 431.50,502.50 C432.42,504.22 432.88,504.00 434.00,504.30 C435.12,504.60 436.58,503.78 438.20,504.30 C439.82,504.82 441.97,506.48 443.70,507.40 C445.43,508.32 446.97,508.78 448.60,509.80 C450.23,510.82 451.63,512.22 453.50,513.50 C455.37,514.78 457.95,516.68 459.80,517.50 C461.65,518.32 463.02,517.62 464.60,518.40 C466.18,519.18 467.72,521.00 469.30,522.20 C470.88,523.40 472.33,524.48 474.10,525.60 C475.87,526.72 477.98,528.02 479.90,528.90 C481.82,529.78 483.38,530.45 485.60,530.90 C487.82,531.35 490.73,531.22 493.20,531.60 C495.67,531.98 499.20,532.93 500.40,533.20" fill="none" stroke="#ff8c1a" stroke-width="1.35" stroke-linejoin="round"/>
<path d="M382.00,526.00 C382.67,526.33 384.67,527.42 386.00,528.00 C387.33,528.58 388.67,529.08 390.00,529.50 C391.33,529.92 392.67,530.08 394.00,530.50 C395.33,530.92 396.83,531.48 398.00,532.00 C399.17,532.52 400.00,533.43 401.00,533.60 C402.00,533.77 402.83,533.27 404.00,533.00 C405.17,532.73 406.78,532.23 408.00,532.00 C409.22,531.77 410.32,534.05 411.30,531.60 C412.28,529.15 413.22,521.73 413.90,517.30 C414.58,512.87 415.10,509.30 415.40,505.00 C415.70,500.70 415.55,498.17 415.70,491.50 C415.85,484.83 416.10,471.35 416.30,465.00 C416.50,458.65 416.60,458.57 416.90,453.40 C417.20,448.23 417.58,440.68 418.10,434.00 C418.62,427.32 419.45,418.58 420.00,413.30 C420.55,408.02 420.80,402.72 421.40,402.30 C422.00,401.88 422.93,407.15 423.60,410.80 C424.27,414.45 424.78,419.73 425.40,424.20 C426.02,428.67 426.48,434.15 427.30,437.60 C428.12,441.05 429.28,442.47 430.30,444.90 C431.32,447.33 432.38,448.85 433.40,452.20 C434.42,455.55 435.50,460.88 436.40,465.00 C437.30,469.12 436.97,470.65 438.80,476.90 C440.63,483.15 445.27,497.22 447.40,502.50 C449.53,507.78 450.63,506.82 451.60,508.60 C452.57,510.38 452.32,510.68 453.20,513.20 C454.08,515.72 455.65,521.23 456.90,523.70 C458.15,526.17 459.42,526.80 460.70,528.00 C461.98,529.20 463.17,530.13 464.60,530.90 C466.03,531.67 467.40,532.45 469.30,532.60 C471.20,532.75 473.60,531.77 476.00,531.80 C478.40,531.83 481.47,532.92 483.70,532.80 C485.93,532.68 487.48,531.27 489.40,531.10 C491.32,530.93 493.37,531.45 495.20,531.80 C497.03,532.15 499.53,532.97 500.40,533.20" fill="none" stroke="#bc203d" stroke-width="1.35" stroke-linejoin="round"/>
<path d="M548.00,512.90 C548.67,512.58 550.67,511.23 552.00,511.00 C553.33,510.77 554.67,511.33 556.00,511.50 C557.33,511.67 558.83,511.75 560.00,512.00 C561.17,512.25 562.00,513.17 563.00,513.00 C564.00,512.83 564.83,511.00 566.00,511.00 C567.17,511.00 568.67,513.17 570.00,513.00 C571.33,512.83 573.00,512.17 574.00,510.00 C575.00,507.83 575.33,506.67 576.00,500.00 C576.67,493.33 577.33,483.33 578.00,470.00 C578.67,456.67 579.42,432.83 580.00,420.00 C580.58,407.17 581.10,399.25 581.50,393.00 C581.90,386.75 582.07,383.00 582.40,382.50 C582.73,382.00 583.03,382.08 583.50,390.00 C583.97,397.92 584.62,420.90 585.20,430.00 C585.78,439.10 586.08,440.75 587.00,444.60 C587.92,448.45 589.58,450.25 590.70,453.10 C591.82,455.95 592.80,458.45 593.70,461.70 C594.60,464.95 595.28,468.75 596.10,472.60 C596.92,476.45 597.78,480.33 598.60,484.80 C599.42,489.27 600.18,495.53 601.00,499.40 C601.82,503.27 602.83,507.40 603.50,508.00 C604.17,508.60 604.28,504.03 605.00,503.00 C605.72,501.97 606.85,500.87 607.80,501.80 C608.75,502.73 609.67,508.78 610.70,508.60 C611.73,508.42 612.50,503.05 614.00,500.70 C615.50,498.35 618.10,494.32 619.70,494.50 C621.30,494.68 621.90,499.73 623.60,501.80 C625.30,503.87 628.30,506.23 629.90,506.90 C631.50,507.57 631.70,505.23 633.20,505.80 C634.70,506.37 637.20,510.02 638.90,510.30 C640.60,510.58 641.90,506.18 643.40,507.50 C644.90,508.82 646.38,516.80 647.90,518.20 C649.42,519.60 650.90,517.32 652.50,515.90 C654.10,514.48 655.62,509.42 657.50,509.70 C659.38,509.98 662.20,516.00 663.80,517.60 C665.40,519.20 666.55,519.02 667.10,519.30" fill="none" stroke="#707070" stroke-width="1.35" stroke-linejoin="round"/>
<path d="M548.00,515.30 C548.72,514.80 550.77,512.50 552.30,512.30 C553.83,512.10 555.78,514.52 557.20,514.10 C558.62,513.68 559.38,509.80 560.80,509.80 C562.22,509.80 563.77,513.18 565.70,514.10 C567.63,515.02 570.88,515.92 572.40,515.30 C573.92,514.68 574.12,513.78 574.80,510.40 C575.48,507.02 575.97,501.73 576.50,495.00 C577.03,488.27 577.42,481.67 578.00,470.00 C578.58,458.33 579.32,436.00 580.00,425.00 C580.68,414.00 581.43,405.67 582.10,404.00 C582.77,402.33 583.38,408.63 584.00,415.00 C584.62,421.37 585.10,432.60 585.80,442.20 C586.50,451.80 587.38,463.67 588.20,472.60 C589.02,481.53 590.08,491.33 590.70,495.80 C591.32,500.27 591.27,499.70 591.90,499.40 C592.53,499.10 593.58,496.03 594.50,494.00 C595.42,491.97 596.32,487.12 597.40,487.20 C598.48,487.28 599.78,492.67 601.00,494.50 C602.22,496.33 603.28,497.92 604.70,498.20 C606.12,498.48 607.75,496.07 609.50,496.20 C611.25,496.33 613.50,499.20 615.20,499.00 C616.90,498.80 618.20,495.47 619.70,495.00 C621.20,494.53 622.50,496.28 624.20,496.20 C625.90,496.12 628.12,494.98 629.90,494.50 C631.68,494.02 633.30,492.18 634.90,493.30 C636.50,494.42 638.17,500.53 639.50,501.20 C640.83,501.87 641.68,497.02 642.90,497.30 C644.12,497.58 645.20,502.43 646.80,502.90 C648.40,503.37 650.62,500.00 652.50,500.10 C654.38,500.20 655.67,502.47 658.10,503.50 C660.53,504.53 665.60,505.83 667.10,506.30" fill="none" stroke="#ff8c1a" stroke-width="1.35" stroke-linejoin="round"/>
<path d="M548.00,507.40 C548.52,507.80 549.98,509.60 551.10,509.80 C552.22,510.00 553.48,508.70 554.70,508.60 C555.92,508.50 557.28,509.40 558.40,509.20 C559.52,509.00 560.08,506.78 561.40,507.40 C562.72,508.02 564.77,512.08 566.30,512.90 C567.83,513.72 569.28,512.92 570.60,512.30 C571.92,511.68 573.18,511.53 574.20,509.20 C575.22,506.87 576.08,503.17 576.70,498.30 C577.32,493.43 577.40,488.88 577.90,480.00 C578.40,471.12 579.10,454.17 579.70,445.00 C580.30,435.83 581.00,430.22 581.50,425.00 C582.00,419.78 582.28,413.70 582.70,413.70 C583.12,413.70 583.68,420.62 584.00,425.00 C584.32,429.38 584.20,435.10 584.60,440.00 C585.00,444.90 585.70,448.35 586.40,454.40 C587.10,460.45 587.98,470.22 588.80,476.30 C589.62,482.38 590.48,487.55 591.30,490.90 C592.12,494.25 592.58,496.80 593.70,496.40 C594.82,496.00 596.58,488.40 598.00,488.50 C599.42,488.60 600.88,495.08 602.20,497.00 C603.52,498.92 604.48,500.13 605.90,500.00 C607.32,499.87 608.97,496.18 610.70,496.20 C612.43,496.22 614.42,500.67 616.30,500.10 C618.18,499.53 620.12,494.87 622.00,492.80 C623.88,490.73 626.00,487.70 627.60,487.70 C629.20,487.70 630.28,490.73 631.60,492.80 C632.92,494.87 633.90,499.82 635.50,500.10 C637.10,500.38 639.32,493.83 641.20,494.50 C643.08,495.17 645.12,502.98 646.80,504.10 C648.48,505.22 649.80,501.40 651.30,501.20 C652.80,501.00 654.10,502.70 655.80,502.90 C657.50,503.10 659.62,501.83 661.50,502.40 C663.38,502.97 666.17,505.65 667.10,506.30" fill="none" stroke="#3c82c5" stroke-width="1.35" stroke-linejoin="round"/>
<path d="M548.00,511.70 C548.32,511.38 549.08,510.72 549.90,509.80 C550.72,508.88 551.88,506.30 552.90,506.20 C553.92,506.10 555.08,507.98 556.00,509.20 C556.92,510.42 557.50,511.97 558.40,513.50 C559.30,515.03 560.48,517.90 561.40,518.40 C562.32,518.90 562.88,516.40 563.90,516.50 C564.92,516.60 566.18,520.22 567.50,519.00 C568.82,517.78 570.48,511.43 571.80,509.20 C573.12,506.97 574.28,508.23 575.40,505.60 C576.52,502.97 577.52,496.35 578.50,493.40 C579.48,490.45 580.48,487.90 581.30,487.90 C582.12,487.90 582.75,489.65 583.40,493.40 C584.05,497.15 584.50,505.02 585.20,510.40 C585.90,515.78 586.68,523.57 587.60,525.70 C588.52,527.83 589.58,524.52 590.70,523.20 C591.82,521.88 593.08,518.10 594.30,517.80 C595.52,517.50 596.68,521.20 598.00,521.40 C599.32,521.60 601.03,519.90 602.20,519.00 C603.37,518.10 603.90,516.72 605.00,516.00 C606.10,515.28 607.53,514.05 608.80,514.70 C610.07,515.35 611.33,517.85 612.60,519.90 C613.87,521.95 615.30,525.97 616.40,527.00 C617.50,528.03 618.02,526.80 619.20,526.10 C620.38,525.40 622.23,523.03 623.50,522.80 C624.77,522.57 625.70,522.80 626.80,524.70 C627.90,526.60 629.07,531.83 630.10,534.20 C631.13,536.57 632.05,538.75 633.00,538.90 C633.95,539.05 634.77,537.15 635.80,535.10 C636.83,533.05 637.85,528.58 639.20,526.60 C640.55,524.62 642.65,523.37 643.90,523.20 C645.15,523.03 645.75,524.48 646.70,525.60 C647.65,526.72 648.65,529.03 649.60,529.90 C650.55,530.77 651.30,529.85 652.40,530.80 C653.50,531.75 654.85,536.15 656.20,535.60 C657.55,535.05 659.07,527.73 660.50,527.50 C661.93,527.27 663.70,533.57 664.80,534.20 C665.90,534.83 666.72,531.78 667.10,531.30" fill="none" stroke="#bc203d" stroke-width="1.35" stroke-linejoin="round"/>
</svg></body></html>
